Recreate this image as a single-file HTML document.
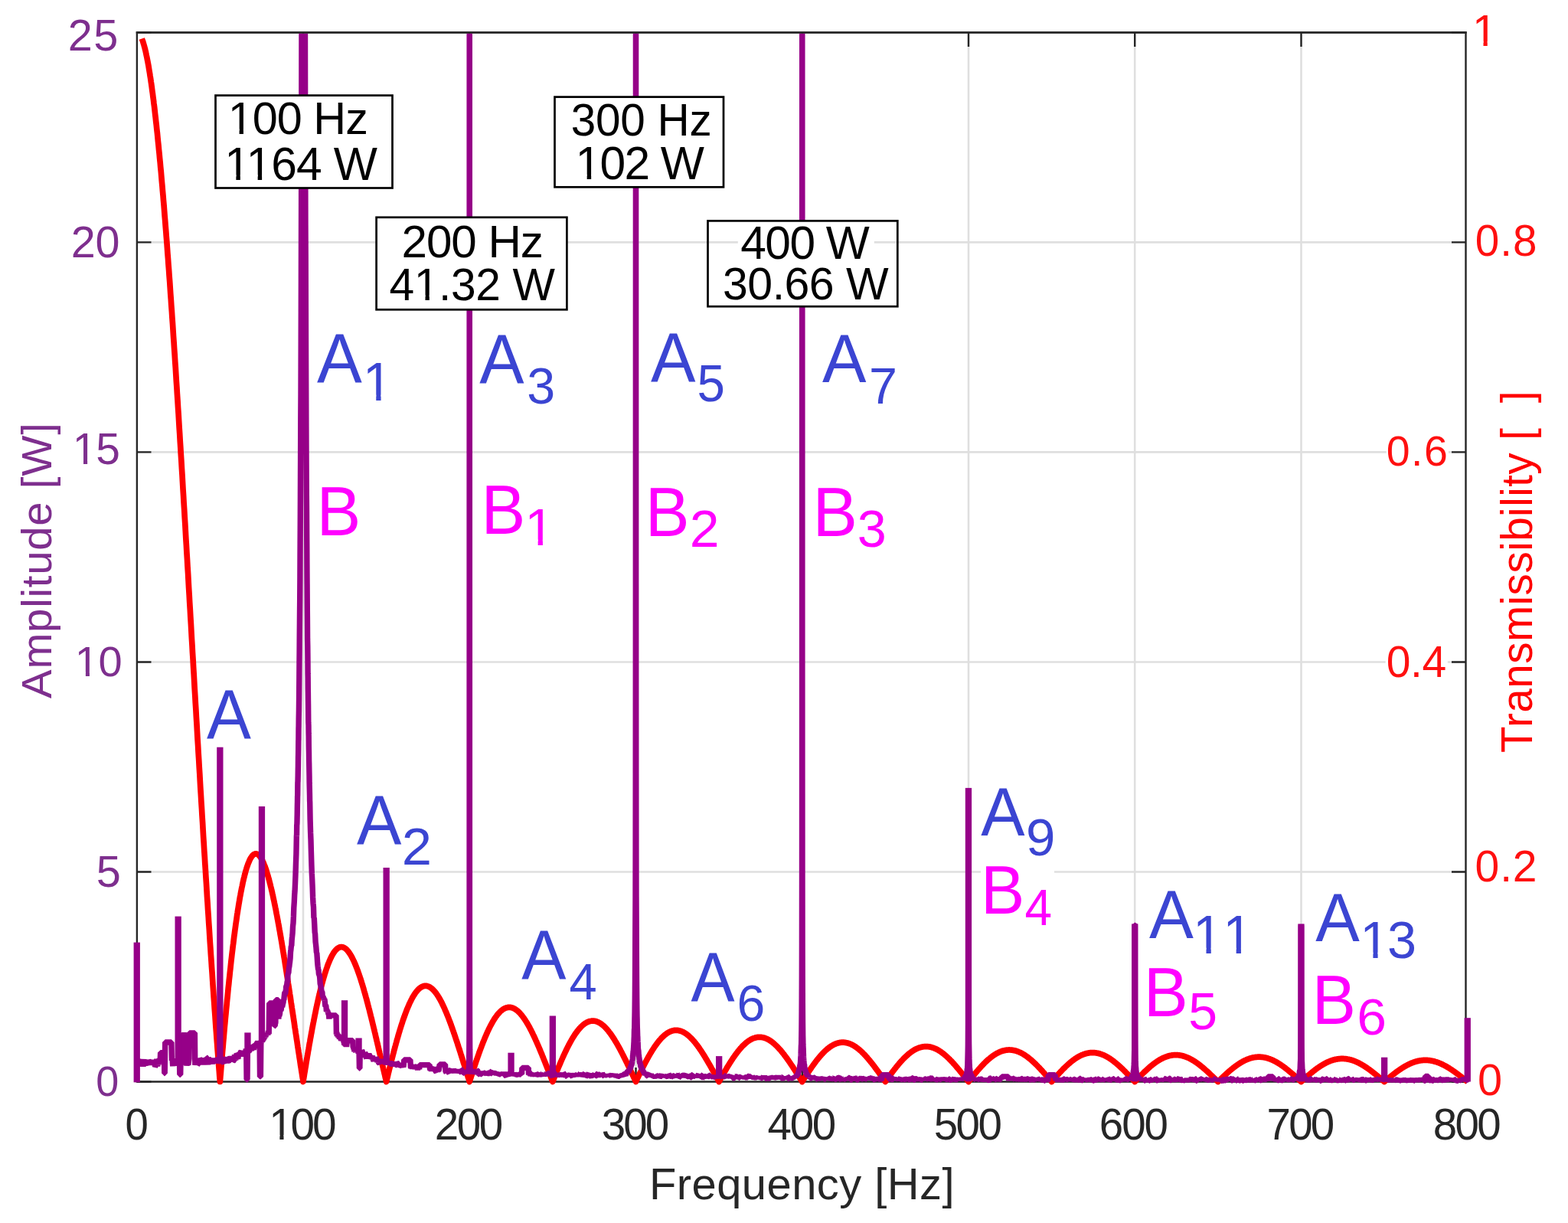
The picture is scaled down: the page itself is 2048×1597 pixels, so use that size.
<!DOCTYPE html><html><head><meta charset="utf-8"><title>Amplitude and transmissibility spectrum</title>
<style>html,body{margin:0;padding:0;background:#fff;}svg{display:block;}text{font-family:"Liberation Sans",Arial,sans-serif;}</style></head><body>
<svg width="2048" height="1597" viewBox="0 0 2048 1597">
<rect width="2048" height="1597" fill="#fff"/>
<defs><clipPath id="pc"><rect x="150" y="43.6" width="1790" height="1440"/></clipPath></defs>
<path d="M396.0 42.4V1412.5M613.2 42.4V1412.5M830.5 42.4V1412.5M1047.8 42.4V1412.5M1265.0 42.4V1412.5M1482.2 42.4V1412.5M1699.5 42.4V1412.5M179 1138.5H1914.5M179 864.5H1914.5M179 590.4H1914.5M179 316.4H1914.5" stroke="#DFDFDF" stroke-width="2.6" fill="none"/>
<path d="M396.0 42.4v18.5M396.0 1412.5v-18.5M613.2 42.4v18.5M613.2 1412.5v-18.5M830.5 42.4v18.5M830.5 1412.5v-18.5M1047.8 42.4v18.5M1047.8 1412.5v-18.5M1265.0 42.4v18.5M1265.0 1412.5v-18.5M1482.2 42.4v18.5M1482.2 1412.5v-18.5M1699.5 42.4v18.5M1699.5 1412.5v-18.5M179 1412.5h18.5M1914.5 1412.5h-18.5M179 1138.5h18.5M1914.5 1138.5h-18.5M179 864.5h18.5M1914.5 864.5h-18.5M179 590.4h18.5M1914.5 590.4h-18.5M179 316.4h18.5M1914.5 316.4h-18.5M179 42.4h18.5M1914.5 42.4h-18.5" stroke="#262626" stroke-width="2.4" fill="none"/>
<path d="M178.9 42.4V1412.5H1914.5V42.4Z" stroke="#262626" stroke-width="2.4" fill="none"/>
<g clip-path="url(#pc)">
<polyline points="185.3,50.5 185.8,51.9 186.4,53.4 186.9,55.0 187.4,56.8 188.0,58.6 188.5,60.6 189.1,62.6 189.6,64.8 190.2,67.1 190.7,69.5 191.2,72.0 191.8,74.6 192.3,77.3 192.9,80.2 193.4,83.1 194.0,86.1 194.5,89.3 195.0,92.5 195.6,95.9 196.1,99.4 196.7,102.9 197.2,106.6 197.8,110.4 198.3,114.3 198.8,118.2 199.4,122.3 199.9,126.5 200.5,130.8 201.0,135.2 201.6,139.6 202.1,144.2 202.6,148.9 203.2,153.7 203.7,158.5 204.3,163.5 204.8,168.6 205.4,173.7 205.9,179.0 206.4,184.3 207.0,189.7 207.5,195.3 208.1,200.9 208.6,206.6 209.2,212.4 209.7,218.3 210.3,224.2 210.8,230.3 211.3,236.4 211.9,242.6 212.4,248.9 213.0,255.3 213.5,261.8 214.1,268.3 214.6,275.0 215.1,281.7 215.7,288.5 216.2,295.3 216.8,302.3 217.3,309.3 217.9,316.4 218.4,323.5 218.9,330.7 219.5,338.0 220.0,345.4 220.6,352.9 221.1,360.4 221.7,367.9 222.2,375.6 222.7,383.3 223.3,391.0 223.8,398.9 224.4,406.8 224.9,414.7 225.5,422.7 226.0,430.8 226.5,438.9 227.1,447.1 227.6,455.3 228.2,463.6 228.7,471.9 229.3,480.3 229.8,488.7 230.3,497.2 230.9,505.7 231.4,514.3 232.0,522.9 232.5,531.6 233.1,540.3 233.6,549.0 234.1,557.8 234.7,566.6 235.2,575.5 235.8,584.4 236.3,593.3 236.9,602.3 237.4,611.2 238.0,620.3 238.5,629.3 239.0,638.4 239.6,647.5 240.1,656.7 240.7,665.8 241.2,675.0 241.8,684.2 242.3,693.4 242.8,702.7 243.4,711.9 243.9,721.2 244.5,730.5 245.0,739.8 245.6,749.1 246.1,758.5 246.6,767.8 247.2,777.2 247.7,786.6 248.3,795.9 248.8,805.3 249.4,814.7 249.9,824.1 250.4,833.5 251.0,842.8 251.5,852.2 252.1,861.6 252.6,871.0 253.2,880.4 253.7,889.7 254.2,899.1 254.8,908.5 255.3,917.8 255.9,927.1 256.4,936.5 257.0,945.8 257.5,955.1 258.0,964.4 258.6,973.6 259.1,982.9 259.7,992.1 260.2,1001.3 260.8,1010.5 261.3,1019.7 261.8,1028.8 262.4,1037.9 262.9,1047.0 263.5,1056.1 264.0,1065.1 264.6,1074.1 265.1,1083.1 265.6,1092.1 266.2,1101.0 266.7,1109.9 267.3,1118.7 267.8,1127.5 268.4,1136.3 268.9,1145.0 269.5,1153.7 270.0,1162.4 270.5,1171.0 271.1,1179.6 271.6,1188.1 272.2,1196.6 272.7,1205.0 273.3,1213.4 273.8,1221.8 274.3,1230.1 274.9,1238.3 275.4,1246.5 276.0,1254.7 276.5,1262.8 277.1,1270.8 277.6,1278.8 278.1,1286.7 278.7,1294.6 279.2,1302.4 279.8,1310.2 280.3,1317.9 280.9,1325.6 281.4,1333.2 281.9,1340.7 282.5,1348.2 283.0,1355.6 283.6,1362.9 284.1,1370.2 284.7,1377.4 285.2,1384.6 285.7,1391.6 286.3,1398.7 286.8,1405.6 287.4,1412.5 287.9,1405.7 288.5,1398.9 289.0,1392.3 289.5,1385.7 290.1,1379.1 290.6,1372.7 291.2,1366.3 291.7,1359.9 292.3,1353.7 292.8,1347.5 293.3,1341.4 293.9,1335.4 294.4,1329.5 295.0,1323.6 295.5,1317.8 296.1,1312.1 296.6,1306.4 297.2,1300.9 297.7,1295.4 298.2,1290.0 298.8,1284.7 299.3,1279.4 299.9,1274.2 300.4,1269.2 301.0,1264.1 301.5,1259.2 302.0,1254.4 302.6,1249.6 303.1,1244.9 303.7,1240.3 304.2,1235.8 304.8,1231.4 305.3,1227.0 305.8,1222.8 306.4,1218.6 306.9,1214.5 307.5,1210.4 308.0,1206.5 308.6,1202.7 309.1,1198.9 309.6,1195.2 310.2,1191.6 310.7,1188.1 311.3,1184.6 311.8,1181.3 312.4,1178.0 312.9,1174.8 313.4,1171.7 314.0,1168.7 314.5,1165.8 315.1,1162.9 315.6,1160.2 316.2,1157.5 316.7,1154.9 317.2,1152.4 317.8,1150.0 318.3,1147.6 318.9,1145.4 319.4,1143.2 320.0,1141.1 320.5,1139.1 321.0,1137.2 321.6,1135.3 322.1,1133.5 322.7,1131.9 323.2,1130.3 323.8,1128.7 324.3,1127.3 324.9,1125.9 325.4,1124.7 325.9,1123.5 326.5,1122.3 327.0,1121.3 327.6,1120.3 328.1,1119.5 328.7,1118.7 329.2,1117.9 329.7,1117.3 330.3,1116.7 330.8,1116.2 331.4,1115.8 331.9,1115.5 332.5,1115.2 333.0,1115.0 333.5,1114.9 334.1,1114.9 334.6,1114.9 335.2,1115.0 335.7,1115.2 336.3,1115.4 336.8,1115.8 337.3,1116.1 337.9,1116.6 338.4,1117.1 339.0,1117.7 339.5,1118.4 340.1,1119.1 340.6,1119.9 341.1,1120.8 341.7,1121.8 342.2,1122.8 342.8,1123.8 343.3,1125.0 343.9,1126.1 344.4,1127.4 344.9,1128.7 345.5,1130.1 346.0,1131.5 346.6,1133.0 347.1,1134.6 347.7,1136.2 348.2,1137.9 348.7,1139.6 349.3,1141.4 349.8,1143.3 350.4,1145.1 350.9,1147.1 351.5,1149.1 352.0,1151.2 352.5,1153.3 353.1,1155.4 353.6,1157.6 354.2,1159.9 354.7,1162.2 355.3,1164.5 355.8,1166.9 356.4,1169.4 356.9,1171.9 357.4,1174.4 358.0,1177.0 358.5,1179.6 359.1,1182.3 359.6,1185.0 360.2,1187.7 360.7,1190.5 361.2,1193.3 361.8,1196.2 362.3,1199.1 362.9,1202.0 363.4,1205.0 364.0,1208.0 364.5,1211.0 365.0,1214.0 365.6,1217.1 366.1,1220.3 366.7,1223.4 367.2,1226.6 367.8,1229.8 368.3,1233.0 368.8,1236.3 369.4,1239.6 369.9,1242.9 370.5,1246.2 371.0,1249.6 371.6,1252.9 372.1,1256.3 372.6,1259.7 373.2,1263.2 373.7,1266.6 374.3,1270.1 374.8,1273.6 375.4,1277.1 375.9,1280.6 376.4,1284.1 377.0,1287.6 377.5,1291.2 378.1,1294.7 378.6,1298.3 379.2,1301.9 379.7,1305.5 380.2,1309.1 380.8,1312.7 381.3,1316.3 381.9,1319.9 382.4,1323.5 383.0,1327.1 383.5,1330.7 384.1,1334.3 384.6,1338.0 385.1,1341.6 385.7,1345.2 386.2,1348.8 386.8,1352.4 387.3,1356.0 387.9,1359.6 388.4,1363.2 388.9,1366.8 389.5,1370.4 390.0,1373.9 390.6,1377.5 391.1,1381.1 391.7,1384.6 392.2,1388.1 392.7,1391.7 393.3,1395.2 393.8,1398.7 394.4,1402.2 394.9,1405.6 395.5,1409.1 396.0,1412.5 396.5,1409.1 397.1,1405.7 397.6,1402.3 398.2,1398.9 398.7,1395.6 399.3,1392.3 399.8,1389.0 400.3,1385.7 400.9,1382.5 401.4,1379.2 402.0,1376.0 402.5,1372.8 403.1,1369.7 403.6,1366.5 404.1,1363.4 404.7,1360.4 405.2,1357.3 405.8,1354.3 406.3,1351.3 406.9,1348.3 407.4,1345.4 407.9,1342.5 408.5,1339.6 409.0,1336.8 409.6,1334.0 410.1,1331.2 410.7,1328.4 411.2,1325.7 411.8,1323.1 412.3,1320.4 412.8,1317.8 413.4,1315.2 413.9,1312.7 414.5,1310.2 415.0,1307.7 415.6,1305.3 416.1,1302.9 416.6,1300.6 417.2,1298.3 417.7,1296.0 418.3,1293.7 418.8,1291.6 419.4,1289.4 419.9,1287.3 420.4,1285.2 421.0,1283.2 421.5,1281.2 422.1,1279.2 422.6,1277.3 423.2,1275.4 423.7,1273.6 424.2,1271.8 424.8,1270.1 425.3,1268.4 425.9,1266.7 426.4,1265.1 427.0,1263.5 427.5,1262.0 428.0,1260.5 428.6,1259.1 429.1,1257.7 429.7,1256.4 430.2,1255.0 430.8,1253.8 431.3,1252.6 431.8,1251.4 432.4,1250.3 432.9,1249.2 433.5,1248.1 434.0,1247.1 434.6,1246.2 435.1,1245.3 435.6,1244.4 436.2,1243.6 436.7,1242.8 437.3,1242.1 437.8,1241.4 438.4,1240.8 438.9,1240.2 439.4,1239.7 440.0,1239.2 440.5,1238.7 441.1,1238.3 441.6,1237.9 442.2,1237.6 442.7,1237.4 443.3,1237.1 443.8,1236.9 444.3,1236.8 444.9,1236.7 445.4,1236.6 446.0,1236.6 446.5,1236.6 447.1,1236.7 447.6,1236.8 448.1,1237.0 448.7,1237.2 449.2,1237.4 449.8,1237.7 450.3,1238.1 450.9,1238.4 451.4,1238.8 451.9,1239.3 452.5,1239.8 453.0,1240.3 453.6,1240.9 454.1,1241.5 454.7,1242.2 455.2,1242.8 455.7,1243.6 456.3,1244.4 456.8,1245.2 457.4,1246.0 457.9,1246.9 458.5,1247.8 459.0,1248.8 459.5,1249.8 460.1,1250.8 460.6,1251.9 461.2,1253.0 461.7,1254.1 462.3,1255.3 462.8,1256.5 463.3,1257.7 463.9,1259.0 464.4,1260.3 465.0,1261.7 465.5,1263.0 466.1,1264.4 466.6,1265.9 467.1,1267.3 467.7,1268.8 468.2,1270.4 468.8,1271.9 469.3,1273.5 469.9,1275.1 470.4,1276.7 471.0,1278.4 471.5,1280.1 472.0,1281.8 472.6,1283.6 473.1,1285.3 473.7,1287.1 474.2,1289.0 474.8,1290.8 475.3,1292.7 475.8,1294.6 476.4,1296.5 476.9,1298.4 477.5,1300.4 478.0,1302.3 478.6,1304.3 479.1,1306.3 479.6,1308.4 480.2,1310.4 480.7,1312.5 481.3,1314.6 481.8,1316.7 482.4,1318.8 482.9,1320.9 483.4,1323.1 484.0,1325.3 484.5,1327.4 485.1,1329.6 485.6,1331.8 486.2,1334.1 486.7,1336.3 487.2,1338.5 487.8,1340.8 488.3,1343.0 488.9,1345.3 489.4,1347.6 490.0,1349.9 490.5,1352.2 491.0,1354.4 491.6,1356.8 492.1,1359.1 492.7,1361.4 493.2,1363.7 493.8,1366.0 494.3,1368.4 494.8,1370.7 495.4,1373.0 495.9,1375.4 496.5,1377.7 497.0,1380.0 497.6,1382.4 498.1,1384.7 498.7,1387.0 499.2,1389.4 499.7,1391.7 500.3,1394.0 500.8,1396.4 501.4,1398.7 501.9,1401.0 502.5,1403.3 503.0,1405.6 503.5,1407.9 504.1,1410.2 504.6,1412.5 505.2,1410.2 505.7,1407.9 506.3,1405.7 506.8,1403.4 507.3,1401.2 507.9,1399.0 508.4,1396.7 509.0,1394.5 509.5,1392.3 510.1,1390.1 510.6,1388.0 511.1,1385.8 511.7,1383.6 512.2,1381.5 512.8,1379.4 513.3,1377.3 513.9,1375.2 514.4,1373.1 514.9,1371.1 515.5,1369.0 516.0,1367.0 516.6,1365.0 517.1,1363.0 517.7,1361.0 518.2,1359.1 518.7,1357.2 519.3,1355.3 519.8,1353.4 520.4,1351.5 520.9,1349.6 521.5,1347.8 522.0,1346.0 522.5,1344.2 523.1,1342.5 523.6,1340.7 524.2,1339.0 524.7,1337.3 525.3,1335.7 525.8,1334.0 526.3,1332.4 526.9,1330.8 527.4,1329.2 528.0,1327.7 528.5,1326.2 529.1,1324.7 529.6,1323.2 530.2,1321.8 530.7,1320.4 531.2,1319.0 531.8,1317.6 532.3,1316.3 532.9,1315.0 533.4,1313.7 534.0,1312.5 534.5,1311.2 535.0,1310.1 535.6,1308.9 536.1,1307.8 536.7,1306.7 537.2,1305.6 537.8,1304.5 538.3,1303.5 538.8,1302.5 539.4,1301.6 539.9,1300.7 540.5,1299.8 541.0,1298.9 541.6,1298.1 542.1,1297.3 542.6,1296.5 543.2,1295.8 543.7,1295.1 544.3,1294.4 544.8,1293.7 545.4,1293.1 545.9,1292.5 546.4,1292.0 547.0,1291.5 547.5,1291.0 548.1,1290.5 548.6,1290.1 549.2,1289.7 549.7,1289.3 550.2,1289.0 550.8,1288.7 551.3,1288.4 551.9,1288.2 552.4,1288.0 553.0,1287.8 553.5,1287.6 554.0,1287.5 554.6,1287.4 555.1,1287.4 555.7,1287.4 556.2,1287.4 556.8,1287.4 557.3,1287.5 557.9,1287.6 558.4,1287.7 558.9,1287.9 559.5,1288.1 560.0,1288.3 560.6,1288.6 561.1,1288.8 561.7,1289.2 562.2,1289.5 562.7,1289.9 563.3,1290.3 563.8,1290.7 564.4,1291.2 564.9,1291.6 565.5,1292.2 566.0,1292.7 566.5,1293.3 567.1,1293.9 567.6,1294.5 568.2,1295.2 568.7,1295.8 569.3,1296.6 569.8,1297.3 570.3,1298.0 570.9,1298.8 571.4,1299.6 572.0,1300.5 572.5,1301.3 573.1,1302.2 573.6,1303.2 574.1,1304.1 574.7,1305.1 575.2,1306.0 575.8,1307.0 576.3,1308.1 576.9,1309.1 577.4,1310.2 577.9,1311.3 578.5,1312.4 579.0,1313.6 579.6,1314.7 580.1,1315.9 580.7,1317.1 581.2,1318.4 581.7,1319.6 582.3,1320.9 582.8,1322.2 583.4,1323.5 583.9,1324.8 584.5,1326.1 585.0,1327.5 585.6,1328.9 586.1,1330.3 586.6,1331.7 587.2,1333.1 587.7,1334.5 588.3,1336.0 588.8,1337.5 589.4,1339.0 589.9,1340.5 590.4,1342.0 591.0,1343.5 591.5,1345.0 592.1,1346.6 592.6,1348.2 593.2,1349.7 593.7,1351.3 594.2,1352.9 594.8,1354.5 595.3,1356.2 595.9,1357.8 596.4,1359.4 597.0,1361.1 597.5,1362.7 598.0,1364.4 598.6,1366.1 599.1,1367.7 599.7,1369.4 600.2,1371.1 600.8,1372.8 601.3,1374.5 601.8,1376.2 602.4,1377.9 602.9,1379.7 603.5,1381.4 604.0,1383.1 604.6,1384.8 605.1,1386.6 605.6,1388.3 606.2,1390.0 606.7,1391.8 607.3,1393.5 607.8,1395.2 608.4,1397.0 608.9,1398.7 609.4,1400.4 610.0,1402.2 610.5,1403.9 611.1,1405.6 611.6,1407.3 612.2,1409.1 612.7,1410.8 613.2,1412.5 613.8,1410.8 614.3,1409.1 614.9,1407.4 615.4,1405.7 616.0,1404.0 616.5,1402.3 617.1,1400.6 617.6,1399.0 618.1,1397.3 618.7,1395.7 619.2,1394.0 619.8,1392.4 620.3,1390.7 620.9,1389.1 621.4,1387.5 621.9,1385.9 622.5,1384.3 623.0,1382.8 623.6,1381.2 624.1,1379.6 624.7,1378.1 625.2,1376.6 625.7,1375.0 626.3,1373.5 626.8,1372.0 627.4,1370.6 627.9,1369.1 628.5,1367.6 629.0,1366.2 629.5,1364.8 630.1,1363.4 630.6,1362.0 631.2,1360.6 631.7,1359.3 632.3,1357.9 632.8,1356.6 633.3,1355.3 633.9,1354.0 634.4,1352.7 635.0,1351.5 635.5,1350.2 636.1,1349.0 636.6,1347.8 637.1,1346.6 637.7,1345.5 638.2,1344.3 638.8,1343.2 639.3,1342.1 639.9,1341.0 640.4,1339.9 640.9,1338.9 641.5,1337.9 642.0,1336.9 642.6,1335.9 643.1,1334.9 643.7,1334.0 644.2,1333.1 644.8,1332.2 645.3,1331.3 645.8,1330.4 646.4,1329.6 646.9,1328.8 647.5,1328.0 648.0,1327.3 648.6,1326.5 649.1,1325.8 649.6,1325.1 650.2,1324.4 650.7,1323.8 651.3,1323.2 651.8,1322.6 652.4,1322.0 652.9,1321.4 653.4,1320.9 654.0,1320.4 654.5,1319.9 655.1,1319.5 655.6,1319.0 656.2,1318.6 656.7,1318.2 657.2,1317.9 657.8,1317.5 658.3,1317.2 658.9,1316.9 659.4,1316.7 660.0,1316.4 660.5,1316.2 661.0,1316.0 661.6,1315.8 662.1,1315.7 662.7,1315.6 663.2,1315.5 663.8,1315.4 664.3,1315.4 664.8,1315.3 665.4,1315.3 665.9,1315.4 666.5,1315.4 667.0,1315.5 667.6,1315.6 668.1,1315.7 668.6,1315.8 669.2,1316.0 669.7,1316.2 670.3,1316.4 670.8,1316.7 671.4,1316.9 671.9,1317.2 672.5,1317.5 673.0,1317.8 673.5,1318.2 674.1,1318.6 674.6,1319.0 675.2,1319.4 675.7,1319.8 676.3,1320.3 676.8,1320.8 677.3,1321.3 677.9,1321.8 678.4,1322.3 679.0,1322.9 679.5,1323.5 680.1,1324.1 680.6,1324.7 681.1,1325.4 681.7,1326.1 682.2,1326.7 682.8,1327.5 683.3,1328.2 683.9,1328.9 684.4,1329.7 684.9,1330.5 685.5,1331.3 686.0,1332.1 686.6,1333.0 687.1,1333.8 687.7,1334.7 688.2,1335.6 688.7,1336.5 689.3,1337.4 689.8,1338.4 690.4,1339.3 690.9,1340.3 691.5,1341.3 692.0,1342.3 692.5,1343.3 693.1,1344.4 693.6,1345.4 694.2,1346.5 694.7,1347.6 695.3,1348.7 695.8,1349.8 696.3,1350.9 696.9,1352.0 697.4,1353.2 698.0,1354.3 698.5,1355.5 699.1,1356.7 699.6,1357.9 700.1,1359.1 700.7,1360.3 701.2,1361.5 701.8,1362.8 702.3,1364.0 702.9,1365.3 703.4,1366.5 704.0,1367.8 704.5,1369.1 705.0,1370.4 705.6,1371.7 706.1,1373.0 706.7,1374.3 707.2,1375.6 707.8,1376.9 708.3,1378.3 708.8,1379.6 709.4,1380.9 709.9,1382.3 710.5,1383.6 711.0,1385.0 711.6,1386.4 712.1,1387.7 712.6,1389.1 713.2,1390.5 713.7,1391.8 714.3,1393.2 714.8,1394.6 715.4,1396.0 715.9,1397.3 716.4,1398.7 717.0,1400.1 717.5,1401.5 718.1,1402.9 718.6,1404.2 719.2,1405.6 719.7,1407.0 720.2,1408.4 720.8,1409.8 721.3,1411.1 721.9,1412.5 722.4,1411.1 723.0,1409.8 723.5,1408.4 724.0,1407.0 724.6,1405.7 725.1,1404.3 725.7,1403.0 726.2,1401.7 726.8,1400.3 727.3,1399.0 727.8,1397.7 728.4,1396.3 728.9,1395.0 729.5,1393.7 730.0,1392.4 730.6,1391.2 731.1,1389.9 731.7,1388.6 732.2,1387.3 732.7,1386.1 733.3,1384.8 733.8,1383.6 734.4,1382.4 734.9,1381.1 735.5,1379.9 736.0,1378.7 736.5,1377.6 737.1,1376.4 737.6,1375.2 738.2,1374.1 738.7,1372.9 739.3,1371.8 739.8,1370.7 740.3,1369.6 740.9,1368.5 741.4,1367.4 742.0,1366.3 742.5,1365.3 743.1,1364.2 743.6,1363.2 744.1,1362.2 744.7,1361.2 745.2,1360.2 745.8,1359.2 746.3,1358.3 746.9,1357.4 747.4,1356.4 747.9,1355.5 748.5,1354.6 749.0,1353.8 749.6,1352.9 750.1,1352.1 750.7,1351.2 751.2,1350.4 751.7,1349.6 752.3,1348.9 752.8,1348.1 753.4,1347.4 753.9,1346.6 754.5,1345.9 755.0,1345.2 755.5,1344.6 756.1,1343.9 756.6,1343.3 757.2,1342.7 757.7,1342.1 758.3,1341.5 758.8,1340.9 759.4,1340.4 759.9,1339.9 760.4,1339.4 761.0,1338.9 761.5,1338.4 762.1,1338.0 762.6,1337.5 763.2,1337.1 763.7,1336.7 764.2,1336.4 764.8,1336.0 765.3,1335.7 765.9,1335.4 766.4,1335.1 767.0,1334.8 767.5,1334.6 768.0,1334.3 768.6,1334.1 769.1,1333.9 769.7,1333.8 770.2,1333.6 770.8,1333.5 771.3,1333.3 771.8,1333.3 772.4,1333.2 772.9,1333.1 773.5,1333.1 774.0,1333.1 774.6,1333.1 775.1,1333.1 775.6,1333.1 776.2,1333.2 776.7,1333.3 777.3,1333.4 777.8,1333.5 778.4,1333.6 778.9,1333.8 779.4,1334.0 780.0,1334.2 780.5,1334.4 781.1,1334.6 781.6,1334.9 782.2,1335.2 782.7,1335.5 783.2,1335.8 783.8,1336.1 784.3,1336.4 784.9,1336.8 785.4,1337.2 786.0,1337.6 786.5,1338.0 787.0,1338.4 787.6,1338.9 788.1,1339.4 788.7,1339.8 789.2,1340.3 789.8,1340.9 790.3,1341.4 790.9,1342.0 791.4,1342.5 791.9,1343.1 792.5,1343.7 793.0,1344.3 793.6,1345.0 794.1,1345.6 794.7,1346.3 795.2,1347.0 795.7,1347.7 796.3,1348.4 796.8,1349.1 797.4,1349.8 797.9,1350.6 798.5,1351.4 799.0,1352.1 799.5,1352.9 800.1,1353.8 800.6,1354.6 801.2,1355.4 801.7,1356.3 802.3,1357.1 802.8,1358.0 803.3,1358.9 803.9,1359.8 804.4,1360.7 805.0,1361.6 805.5,1362.5 806.1,1363.5 806.6,1364.4 807.1,1365.4 807.7,1366.3 808.2,1367.3 808.8,1368.3 809.3,1369.3 809.9,1370.3 810.4,1371.3 810.9,1372.3 811.5,1373.4 812.0,1374.4 812.6,1375.5 813.1,1376.5 813.7,1377.6 814.2,1378.7 814.7,1379.7 815.3,1380.8 815.8,1381.9 816.4,1383.0 816.9,1384.1 817.5,1385.2 818.0,1386.3 818.6,1387.4 819.1,1388.5 819.6,1389.7 820.2,1390.8 820.7,1391.9 821.3,1393.0 821.8,1394.2 822.4,1395.3 822.9,1396.5 823.4,1397.6 824.0,1398.7 824.5,1399.9 825.1,1401.0 825.6,1402.2 826.2,1403.3 826.7,1404.5 827.2,1405.6 827.8,1406.8 828.3,1407.9 828.9,1409.1 829.4,1410.2 830.0,1411.4 830.5,1412.5 831.0,1411.4 831.6,1410.2 832.1,1409.1 832.7,1408.0 833.2,1406.8 833.8,1405.7 834.3,1404.6 834.8,1403.5 835.4,1402.3 835.9,1401.2 836.5,1400.1 837.0,1399.0 837.6,1397.9 838.1,1396.8 838.6,1395.7 839.2,1394.7 839.7,1393.6 840.3,1392.5 840.8,1391.5 841.4,1390.4 841.9,1389.4 842.4,1388.3 843.0,1387.3 843.5,1386.3 844.1,1385.3 844.6,1384.2 845.2,1383.2 845.7,1382.3 846.3,1381.3 846.8,1380.3 847.3,1379.3 847.9,1378.4 848.4,1377.5 849.0,1376.5 849.5,1375.6 850.1,1374.7 850.6,1373.8 851.1,1372.9 851.7,1372.0 852.2,1371.2 852.8,1370.3 853.3,1369.5 853.9,1368.6 854.4,1367.8 854.9,1367.0 855.5,1366.2 856.0,1365.4 856.6,1364.7 857.1,1363.9 857.7,1363.2 858.2,1362.4 858.7,1361.7 859.3,1361.0 859.8,1360.3 860.4,1359.7 860.9,1359.0 861.5,1358.3 862.0,1357.7 862.5,1357.1 863.1,1356.5 863.6,1355.9 864.2,1355.3 864.7,1354.8 865.3,1354.2 865.8,1353.7 866.3,1353.2 866.9,1352.7 867.4,1352.2 868.0,1351.8 868.5,1351.3 869.1,1350.9 869.6,1350.5 870.1,1350.1 870.7,1349.7 871.2,1349.3 871.8,1348.9 872.3,1348.6 872.9,1348.3 873.4,1348.0 873.9,1347.7 874.5,1347.4 875.0,1347.2 875.6,1346.9 876.1,1346.7 876.7,1346.5 877.2,1346.3 877.8,1346.1 878.3,1346.0 878.8,1345.8 879.4,1345.7 879.9,1345.6 880.5,1345.5 881.0,1345.4 881.6,1345.4 882.1,1345.4 882.6,1345.3 883.2,1345.3 883.7,1345.3 884.3,1345.4 884.8,1345.4 885.4,1345.5 885.9,1345.5 886.4,1345.6 887.0,1345.7 887.5,1345.9 888.1,1346.0 888.6,1346.2 889.2,1346.3 889.7,1346.5 890.2,1346.7 890.8,1347.0 891.3,1347.2 891.9,1347.4 892.4,1347.7 893.0,1348.0 893.5,1348.3 894.0,1348.6 894.6,1348.9 895.1,1349.3 895.7,1349.7 896.2,1350.0 896.8,1350.4 897.3,1350.8 897.8,1351.2 898.4,1351.7 898.9,1352.1 899.5,1352.6 900.0,1353.1 900.6,1353.6 901.1,1354.1 901.6,1354.6 902.2,1355.1 902.7,1355.7 903.3,1356.2 903.8,1356.8 904.4,1357.4 904.9,1358.0 905.5,1358.6 906.0,1359.2 906.5,1359.8 907.1,1360.5 907.6,1361.1 908.2,1361.8 908.7,1362.5 909.3,1363.2 909.8,1363.9 910.3,1364.6 910.9,1365.3 911.4,1366.1 912.0,1366.8 912.5,1367.6 913.1,1368.3 913.6,1369.1 914.1,1369.9 914.7,1370.7 915.2,1371.5 915.8,1372.3 916.3,1373.1 916.9,1374.0 917.4,1374.8 917.9,1375.6 918.5,1376.5 919.0,1377.4 919.6,1378.2 920.1,1379.1 920.7,1380.0 921.2,1380.9 921.7,1381.8 922.3,1382.7 922.8,1383.6 923.4,1384.5 923.9,1385.4 924.5,1386.4 925.0,1387.3 925.5,1388.2 926.1,1389.2 926.6,1390.1 927.2,1391.1 927.7,1392.0 928.3,1393.0 928.8,1393.9 929.3,1394.9 929.9,1395.9 930.4,1396.8 931.0,1397.8 931.5,1398.8 932.1,1399.7 932.6,1400.7 933.2,1401.7 933.7,1402.7 934.2,1403.7 934.8,1404.6 935.3,1405.6 935.9,1406.6 936.4,1407.6 937.0,1408.6 937.5,1409.6 938.0,1410.5 938.6,1411.5 939.1,1412.5 939.7,1411.5 940.2,1410.5 940.8,1409.6 941.3,1408.6 941.8,1407.6 942.4,1406.7 942.9,1405.7 943.5,1404.7 944.0,1403.8 944.6,1402.8 945.1,1401.9 945.6,1400.9 946.2,1400.0 946.7,1399.0 947.3,1398.1 947.8,1397.2 948.4,1396.3 948.9,1395.3 949.4,1394.4 950.0,1393.5 950.5,1392.6 951.1,1391.7 951.6,1390.8 952.2,1390.0 952.7,1389.1 953.2,1388.2 953.8,1387.3 954.3,1386.5 954.9,1385.6 955.4,1384.8 956.0,1384.0 956.5,1383.2 957.0,1382.3 957.6,1381.5 958.1,1380.7 958.7,1380.0 959.2,1379.2 959.8,1378.4 960.3,1377.6 960.8,1376.9 961.4,1376.2 961.9,1375.4 962.5,1374.7 963.0,1374.0 963.6,1373.3 964.1,1372.6 964.7,1371.9 965.2,1371.3 965.7,1370.6 966.3,1370.0 966.8,1369.3 967.4,1368.7 967.9,1368.1 968.5,1367.5 969.0,1366.9 969.5,1366.3 970.1,1365.8 970.6,1365.2 971.2,1364.7 971.7,1364.2 972.3,1363.7 972.8,1363.2 973.3,1362.7 973.9,1362.2 974.4,1361.7 975.0,1361.3 975.5,1360.9 976.1,1360.4 976.6,1360.0 977.1,1359.6 977.7,1359.3 978.2,1358.9 978.8,1358.5 979.3,1358.2 979.9,1357.9 980.4,1357.6 980.9,1357.3 981.5,1357.0 982.0,1356.7 982.6,1356.4 983.1,1356.2 983.7,1356.0 984.2,1355.8 984.7,1355.6 985.3,1355.4 985.8,1355.2 986.4,1355.1 986.9,1354.9 987.5,1354.8 988.0,1354.7 988.5,1354.6 989.1,1354.5 989.6,1354.4 990.2,1354.4 990.7,1354.3 991.3,1354.3 991.8,1354.3 992.4,1354.3 992.9,1354.3 993.4,1354.4 994.0,1354.4 994.5,1354.5 995.1,1354.5 995.6,1354.6 996.2,1354.7 996.7,1354.8 997.2,1355.0 997.8,1355.1 998.3,1355.3 998.9,1355.4 999.4,1355.6 1000.0,1355.8 1000.5,1356.0 1001.0,1356.3 1001.6,1356.5 1002.1,1356.8 1002.7,1357.0 1003.2,1357.3 1003.8,1357.6 1004.3,1357.9 1004.8,1358.2 1005.4,1358.6 1005.9,1358.9 1006.5,1359.3 1007.0,1359.7 1007.6,1360.0 1008.1,1360.4 1008.6,1360.8 1009.2,1361.3 1009.7,1361.7 1010.3,1362.2 1010.8,1362.6 1011.4,1363.1 1011.9,1363.6 1012.4,1364.1 1013.0,1364.6 1013.5,1365.1 1014.1,1365.6 1014.6,1366.1 1015.2,1366.7 1015.7,1367.2 1016.2,1367.8 1016.8,1368.4 1017.3,1369.0 1017.9,1369.6 1018.4,1370.2 1019.0,1370.8 1019.5,1371.4 1020.1,1372.1 1020.6,1372.7 1021.1,1373.4 1021.7,1374.0 1022.2,1374.7 1022.8,1375.4 1023.3,1376.1 1023.9,1376.8 1024.4,1377.5 1024.9,1378.2 1025.5,1378.9 1026.0,1379.6 1026.6,1380.4 1027.1,1381.1 1027.7,1381.9 1028.2,1382.6 1028.7,1383.4 1029.3,1384.1 1029.8,1384.9 1030.4,1385.7 1030.9,1386.5 1031.5,1387.3 1032.0,1388.1 1032.5,1388.9 1033.1,1389.7 1033.6,1390.5 1034.2,1391.3 1034.7,1392.1 1035.3,1392.9 1035.8,1393.8 1036.3,1394.6 1036.9,1395.4 1037.4,1396.3 1038.0,1397.1 1038.5,1398.0 1039.1,1398.8 1039.6,1399.7 1040.1,1400.5 1040.7,1401.4 1041.2,1402.2 1041.8,1403.1 1042.3,1403.9 1042.9,1404.8 1043.4,1405.6 1043.9,1406.5 1044.5,1407.4 1045.0,1408.2 1045.6,1409.1 1046.1,1409.9 1046.7,1410.8 1047.2,1411.6 1047.8,1412.5 1048.3,1411.6 1048.8,1410.8 1049.4,1409.9 1049.9,1409.1 1050.5,1408.2 1051.0,1407.4 1051.6,1406.5 1052.1,1405.7 1052.6,1404.9 1053.2,1404.0 1053.7,1403.2 1054.3,1402.4 1054.8,1401.5 1055.4,1400.7 1055.9,1399.9 1056.4,1399.1 1057.0,1398.3 1057.5,1397.5 1058.1,1396.7 1058.6,1395.9 1059.2,1395.1 1059.7,1394.3 1060.2,1393.5 1060.8,1392.7 1061.3,1392.0 1061.9,1391.2 1062.4,1390.4 1063.0,1389.7 1063.5,1388.9 1064.0,1388.2 1064.6,1387.5 1065.1,1386.8 1065.7,1386.0 1066.2,1385.3 1066.8,1384.6 1067.3,1383.9 1067.8,1383.2 1068.4,1382.6 1068.9,1381.9 1069.5,1381.2 1070.0,1380.6 1070.6,1379.9 1071.1,1379.3 1071.6,1378.7 1072.2,1378.1 1072.7,1377.5 1073.3,1376.9 1073.8,1376.3 1074.4,1375.7 1074.9,1375.1 1075.4,1374.6 1076.0,1374.0 1076.5,1373.5 1077.1,1372.9 1077.6,1372.4 1078.2,1371.9 1078.7,1371.4 1079.3,1370.9 1079.8,1370.5 1080.3,1370.0 1080.9,1369.5 1081.4,1369.1 1082.0,1368.7 1082.5,1368.2 1083.1,1367.8 1083.6,1367.4 1084.1,1367.1 1084.7,1366.7 1085.2,1366.3 1085.8,1366.0 1086.3,1365.6 1086.9,1365.3 1087.4,1365.0 1087.9,1364.7 1088.5,1364.4 1089.0,1364.1 1089.6,1363.8 1090.1,1363.6 1090.7,1363.4 1091.2,1363.1 1091.7,1362.9 1092.3,1362.7 1092.8,1362.5 1093.4,1362.3 1093.9,1362.2 1094.5,1362.0 1095.0,1361.9 1095.5,1361.7 1096.1,1361.6 1096.6,1361.5 1097.2,1361.4 1097.7,1361.4 1098.3,1361.3 1098.8,1361.2 1099.3,1361.2 1099.9,1361.2 1100.4,1361.2 1101.0,1361.2 1101.5,1361.2 1102.1,1361.2 1102.6,1361.2 1103.1,1361.3 1103.7,1361.3 1104.2,1361.4 1104.8,1361.5 1105.3,1361.6 1105.9,1361.7 1106.4,1361.8 1107.0,1362.0 1107.5,1362.1 1108.0,1362.3 1108.6,1362.5 1109.1,1362.6 1109.7,1362.8 1110.2,1363.0 1110.8,1363.3 1111.3,1363.5 1111.8,1363.7 1112.4,1364.0 1112.9,1364.3 1113.5,1364.6 1114.0,1364.8 1114.6,1365.1 1115.1,1365.5 1115.6,1365.8 1116.2,1366.1 1116.7,1366.5 1117.3,1366.8 1117.8,1367.2 1118.4,1367.6 1118.9,1368.0 1119.4,1368.4 1120.0,1368.8 1120.5,1369.2 1121.1,1369.6 1121.6,1370.1 1122.2,1370.5 1122.7,1371.0 1123.2,1371.5 1123.8,1371.9 1124.3,1372.4 1124.9,1372.9 1125.4,1373.4 1126.0,1374.0 1126.5,1374.5 1127.0,1375.0 1127.6,1375.6 1128.1,1376.1 1128.7,1376.7 1129.2,1377.3 1129.8,1377.8 1130.3,1378.4 1130.8,1379.0 1131.4,1379.6 1131.9,1380.2 1132.5,1380.8 1133.0,1381.5 1133.6,1382.1 1134.1,1382.7 1134.7,1383.4 1135.2,1384.0 1135.7,1384.7 1136.3,1385.3 1136.8,1386.0 1137.4,1386.7 1137.9,1387.4 1138.5,1388.0 1139.0,1388.7 1139.5,1389.4 1140.1,1390.1 1140.6,1390.8 1141.2,1391.5 1141.7,1392.3 1142.3,1393.0 1142.8,1393.7 1143.3,1394.4 1143.9,1395.1 1144.4,1395.9 1145.0,1396.6 1145.5,1397.4 1146.1,1398.1 1146.6,1398.8 1147.1,1399.6 1147.7,1400.3 1148.2,1401.1 1148.8,1401.8 1149.3,1402.6 1149.9,1403.4 1150.4,1404.1 1150.9,1404.9 1151.5,1405.6 1152.0,1406.4 1152.6,1407.2 1153.1,1407.9 1153.7,1408.7 1154.2,1409.5 1154.7,1410.2 1155.3,1411.0 1155.8,1411.7 1156.4,1412.5 1156.9,1411.7 1157.5,1411.0 1158.0,1410.2 1158.5,1409.5 1159.1,1408.7 1159.6,1408.0 1160.2,1407.2 1160.7,1406.5 1161.3,1405.7 1161.8,1405.0 1162.3,1404.2 1162.9,1403.5 1163.4,1402.7 1164.0,1402.0 1164.5,1401.3 1165.1,1400.6 1165.6,1399.8 1166.2,1399.1 1166.7,1398.4 1167.2,1397.7 1167.8,1397.0 1168.3,1396.3 1168.9,1395.6 1169.4,1394.9 1170.0,1394.2 1170.5,1393.5 1171.0,1392.9 1171.6,1392.2 1172.1,1391.5 1172.7,1390.9 1173.2,1390.2 1173.8,1389.6 1174.3,1388.9 1174.8,1388.3 1175.4,1387.7 1175.9,1387.0 1176.5,1386.4 1177.0,1385.8 1177.6,1385.2 1178.1,1384.6 1178.6,1384.1 1179.2,1383.5 1179.7,1382.9 1180.3,1382.3 1180.8,1381.8 1181.4,1381.3 1181.9,1380.7 1182.4,1380.2 1183.0,1379.7 1183.5,1379.2 1184.1,1378.7 1184.6,1378.2 1185.2,1377.7 1185.7,1377.2 1186.2,1376.7 1186.8,1376.3 1187.3,1375.8 1187.9,1375.4 1188.4,1375.0 1189.0,1374.6 1189.5,1374.2 1190.0,1373.8 1190.6,1373.4 1191.1,1373.0 1191.7,1372.6 1192.2,1372.3 1192.8,1371.9 1193.3,1371.6 1193.9,1371.3 1194.4,1370.9 1194.9,1370.6 1195.5,1370.3 1196.0,1370.1 1196.6,1369.8 1197.1,1369.5 1197.7,1369.3 1198.2,1369.0 1198.7,1368.8 1199.3,1368.6 1199.8,1368.4 1200.4,1368.2 1200.9,1368.0 1201.5,1367.8 1202.0,1367.7 1202.5,1367.5 1203.1,1367.4 1203.6,1367.2 1204.2,1367.1 1204.7,1367.0 1205.3,1366.9 1205.8,1366.8 1206.3,1366.8 1206.9,1366.7 1207.4,1366.7 1208.0,1366.6 1208.5,1366.6 1209.1,1366.6 1209.6,1366.6 1210.1,1366.6 1210.7,1366.6 1211.2,1366.6 1211.8,1366.7 1212.3,1366.7 1212.9,1366.8 1213.4,1366.9 1213.9,1366.9 1214.5,1367.0 1215.0,1367.1 1215.6,1367.3 1216.1,1367.4 1216.7,1367.5 1217.2,1367.7 1217.7,1367.9 1218.3,1368.0 1218.8,1368.2 1219.4,1368.4 1219.9,1368.6 1220.5,1368.8 1221.0,1369.1 1221.5,1369.3 1222.1,1369.5 1222.6,1369.8 1223.2,1370.1 1223.7,1370.3 1224.3,1370.6 1224.8,1370.9 1225.4,1371.2 1225.9,1371.6 1226.4,1371.9 1227.0,1372.2 1227.5,1372.6 1228.1,1372.9 1228.6,1373.3 1229.2,1373.7 1229.7,1374.1 1230.2,1374.5 1230.8,1374.9 1231.3,1375.3 1231.9,1375.7 1232.4,1376.1 1233.0,1376.6 1233.5,1377.0 1234.0,1377.5 1234.6,1377.9 1235.1,1378.4 1235.7,1378.9 1236.2,1379.4 1236.8,1379.9 1237.3,1380.4 1237.8,1380.9 1238.4,1381.4 1238.9,1381.9 1239.5,1382.4 1240.0,1383.0 1240.6,1383.5 1241.1,1384.1 1241.6,1384.6 1242.2,1385.2 1242.7,1385.8 1243.3,1386.3 1243.8,1386.9 1244.4,1387.5 1244.9,1388.1 1245.4,1388.7 1246.0,1389.3 1246.5,1389.9 1247.1,1390.5 1247.6,1391.1 1248.2,1391.8 1248.7,1392.4 1249.2,1393.0 1249.8,1393.7 1250.3,1394.3 1250.9,1395.0 1251.4,1395.6 1252.0,1396.3 1252.5,1396.9 1253.1,1397.6 1253.6,1398.2 1254.1,1398.9 1254.7,1399.6 1255.2,1400.2 1255.8,1400.9 1256.3,1401.6 1256.9,1402.2 1257.4,1402.9 1257.9,1403.6 1258.5,1404.3 1259.0,1405.0 1259.6,1405.6 1260.1,1406.3 1260.7,1407.0 1261.2,1407.7 1261.7,1408.4 1262.3,1409.1 1262.8,1409.8 1263.4,1410.4 1263.9,1411.1 1264.5,1411.8 1265.0,1412.5 1265.5,1411.8 1266.1,1411.1 1266.6,1410.4 1267.2,1409.8 1267.7,1409.1 1268.3,1408.4 1268.8,1407.7 1269.3,1407.1 1269.9,1406.4 1270.4,1405.7 1271.0,1405.0 1271.5,1404.4 1272.1,1403.7 1272.6,1403.1 1273.1,1402.4 1273.7,1401.7 1274.2,1401.1 1274.8,1400.4 1275.3,1399.8 1275.9,1399.2 1276.4,1398.5 1276.9,1397.9 1277.5,1397.3 1278.0,1396.6 1278.6,1396.0 1279.1,1395.4 1279.7,1394.8 1280.2,1394.2 1280.8,1393.6 1281.3,1393.0 1281.8,1392.4 1282.4,1391.8 1282.9,1391.2 1283.5,1390.7 1284.0,1390.1 1284.6,1389.5 1285.1,1389.0 1285.6,1388.4 1286.2,1387.9 1286.7,1387.4 1287.3,1386.8 1287.8,1386.3 1288.4,1385.8 1288.9,1385.3 1289.4,1384.8 1290.0,1384.3 1290.5,1383.8 1291.1,1383.3 1291.6,1382.9 1292.2,1382.4 1292.7,1382.0 1293.2,1381.5 1293.8,1381.1 1294.3,1380.6 1294.9,1380.2 1295.4,1379.8 1296.0,1379.4 1296.5,1379.0 1297.0,1378.6 1297.6,1378.2 1298.1,1377.9 1298.7,1377.5 1299.2,1377.2 1299.8,1376.8 1300.3,1376.5 1300.8,1376.2 1301.4,1375.8 1301.9,1375.5 1302.5,1375.2 1303.0,1375.0 1303.6,1374.7 1304.1,1374.4 1304.6,1374.2 1305.2,1373.9 1305.7,1373.7 1306.3,1373.4 1306.8,1373.2 1307.4,1373.0 1307.9,1372.8 1308.5,1372.6 1309.0,1372.4 1309.5,1372.3 1310.1,1372.1 1310.6,1372.0 1311.2,1371.8 1311.7,1371.7 1312.3,1371.6 1312.8,1371.5 1313.3,1371.4 1313.9,1371.3 1314.4,1371.2 1315.0,1371.1 1315.5,1371.1 1316.1,1371.0 1316.6,1371.0 1317.1,1371.0 1317.7,1371.0 1318.2,1370.9 1318.8,1371.0 1319.3,1371.0 1319.9,1371.0 1320.4,1371.0 1320.9,1371.1 1321.5,1371.1 1322.0,1371.2 1322.6,1371.3 1323.1,1371.4 1323.7,1371.4 1324.2,1371.6 1324.7,1371.7 1325.3,1371.8 1325.8,1371.9 1326.4,1372.1 1326.9,1372.2 1327.5,1372.4 1328.0,1372.6 1328.5,1372.8 1329.1,1373.0 1329.6,1373.2 1330.2,1373.4 1330.7,1373.6 1331.3,1373.8 1331.8,1374.1 1332.3,1374.3 1332.9,1374.6 1333.4,1374.8 1334.0,1375.1 1334.5,1375.4 1335.1,1375.7 1335.6,1376.0 1336.1,1376.3 1336.7,1376.6 1337.2,1377.0 1337.8,1377.3 1338.3,1377.7 1338.9,1378.0 1339.4,1378.4 1340.0,1378.8 1340.5,1379.1 1341.0,1379.5 1341.6,1379.9 1342.1,1380.3 1342.7,1380.7 1343.2,1381.2 1343.8,1381.6 1344.3,1382.0 1344.8,1382.5 1345.4,1382.9 1345.9,1383.4 1346.5,1383.8 1347.0,1384.3 1347.6,1384.8 1348.1,1385.2 1348.6,1385.7 1349.2,1386.2 1349.7,1386.7 1350.3,1387.2 1350.8,1387.7 1351.4,1388.2 1351.9,1388.8 1352.4,1389.3 1353.0,1389.8 1353.5,1390.4 1354.1,1390.9 1354.6,1391.4 1355.2,1392.0 1355.7,1392.6 1356.2,1393.1 1356.8,1393.7 1357.3,1394.3 1357.9,1394.8 1358.4,1395.4 1359.0,1396.0 1359.5,1396.6 1360.0,1397.2 1360.6,1397.7 1361.1,1398.3 1361.7,1398.9 1362.2,1399.5 1362.8,1400.1 1363.3,1400.7 1363.8,1401.3 1364.4,1402.0 1364.9,1402.6 1365.5,1403.2 1366.0,1403.8 1366.6,1404.4 1367.1,1405.0 1367.7,1405.6 1368.2,1406.3 1368.7,1406.9 1369.3,1407.5 1369.8,1408.1 1370.4,1408.8 1370.9,1409.4 1371.5,1410.0 1372.0,1410.6 1372.5,1411.3 1373.1,1411.9 1373.6,1412.5 1374.2,1411.9 1374.7,1411.3 1375.3,1410.6 1375.8,1410.0 1376.3,1409.4 1376.9,1408.8 1377.4,1408.2 1378.0,1407.5 1378.5,1406.9 1379.1,1406.3 1379.6,1405.7 1380.1,1405.1 1380.7,1404.5 1381.2,1403.9 1381.8,1403.3 1382.3,1402.7 1382.9,1402.1 1383.4,1401.5 1383.9,1400.9 1384.5,1400.4 1385.0,1399.8 1385.6,1399.2 1386.1,1398.6 1386.7,1398.1 1387.2,1397.5 1387.7,1396.9 1388.3,1396.4 1388.8,1395.8 1389.4,1395.3 1389.9,1394.7 1390.5,1394.2 1391.0,1393.7 1391.5,1393.1 1392.1,1392.6 1392.6,1392.1 1393.2,1391.6 1393.7,1391.1 1394.3,1390.6 1394.8,1390.1 1395.3,1389.6 1395.9,1389.1 1396.4,1388.7 1397.0,1388.2 1397.5,1387.7 1398.1,1387.3 1398.6,1386.8 1399.2,1386.4 1399.7,1385.9 1400.2,1385.5 1400.8,1385.1 1401.3,1384.7 1401.9,1384.3 1402.4,1383.9 1403.0,1383.5 1403.5,1383.1 1404.0,1382.7 1404.6,1382.3 1405.1,1382.0 1405.7,1381.6 1406.2,1381.3 1406.8,1380.9 1407.3,1380.6 1407.8,1380.3 1408.4,1380.0 1408.9,1379.7 1409.5,1379.4 1410.0,1379.1 1410.6,1378.8 1411.1,1378.5 1411.6,1378.3 1412.2,1378.0 1412.7,1377.8 1413.3,1377.5 1413.8,1377.3 1414.4,1377.1 1414.9,1376.9 1415.4,1376.7 1416.0,1376.5 1416.5,1376.3 1417.1,1376.1 1417.6,1376.0 1418.2,1375.8 1418.7,1375.6 1419.2,1375.5 1419.8,1375.4 1420.3,1375.3 1420.9,1375.2 1421.4,1375.1 1422.0,1375.0 1422.5,1374.9 1423.0,1374.8 1423.6,1374.7 1424.1,1374.7 1424.7,1374.6 1425.2,1374.6 1425.8,1374.6 1426.3,1374.6 1426.9,1374.6 1427.4,1374.6 1427.9,1374.6 1428.5,1374.6 1429.0,1374.6 1429.6,1374.7 1430.1,1374.7 1430.7,1374.8 1431.2,1374.8 1431.7,1374.9 1432.3,1375.0 1432.8,1375.1 1433.4,1375.2 1433.9,1375.3 1434.5,1375.4 1435.0,1375.6 1435.5,1375.7 1436.1,1375.9 1436.6,1376.0 1437.2,1376.2 1437.7,1376.4 1438.3,1376.6 1438.8,1376.7 1439.3,1376.9 1439.9,1377.2 1440.4,1377.4 1441.0,1377.6 1441.5,1377.8 1442.1,1378.1 1442.6,1378.3 1443.1,1378.6 1443.7,1378.9 1444.2,1379.1 1444.8,1379.4 1445.3,1379.7 1445.9,1380.0 1446.4,1380.3 1446.9,1380.6 1447.5,1381.0 1448.0,1381.3 1448.6,1381.6 1449.1,1382.0 1449.7,1382.3 1450.2,1382.7 1450.7,1383.1 1451.3,1383.4 1451.8,1383.8 1452.4,1384.2 1452.9,1384.6 1453.5,1385.0 1454.0,1385.4 1454.6,1385.8 1455.1,1386.3 1455.6,1386.7 1456.2,1387.1 1456.7,1387.6 1457.3,1388.0 1457.8,1388.4 1458.4,1388.9 1458.9,1389.4 1459.4,1389.8 1460.0,1390.3 1460.5,1390.8 1461.1,1391.3 1461.6,1391.7 1462.2,1392.2 1462.7,1392.7 1463.2,1393.2 1463.8,1393.7 1464.3,1394.2 1464.9,1394.8 1465.4,1395.3 1466.0,1395.8 1466.5,1396.3 1467.0,1396.8 1467.6,1397.4 1468.1,1397.9 1468.7,1398.4 1469.2,1399.0 1469.8,1399.5 1470.3,1400.1 1470.8,1400.6 1471.4,1401.2 1471.9,1401.7 1472.5,1402.3 1473.0,1402.8 1473.6,1403.4 1474.1,1404.0 1474.6,1404.5 1475.2,1405.1 1475.7,1405.7 1476.3,1406.2 1476.8,1406.8 1477.4,1407.4 1477.9,1407.9 1478.4,1408.5 1479.0,1409.1 1479.5,1409.6 1480.1,1410.2 1480.6,1410.8 1481.2,1411.4 1481.7,1411.9 1482.2,1412.5 1482.8,1411.9 1483.3,1411.4 1483.9,1410.8 1484.4,1410.2 1485.0,1409.7 1485.5,1409.1 1486.1,1408.5 1486.6,1408.0 1487.1,1407.4 1487.7,1406.8 1488.2,1406.3 1488.8,1405.7 1489.3,1405.2 1489.9,1404.6 1490.4,1404.1 1490.9,1403.5 1491.5,1403.0 1492.0,1402.4 1492.6,1401.9 1493.1,1401.4 1493.7,1400.8 1494.2,1400.3 1494.7,1399.8 1495.3,1399.3 1495.8,1398.7 1496.4,1398.2 1496.9,1397.7 1497.5,1397.2 1498.0,1396.7 1498.5,1396.2 1499.1,1395.7 1499.6,1395.2 1500.2,1394.7 1500.7,1394.3 1501.3,1393.8 1501.8,1393.3 1502.3,1392.8 1502.9,1392.4 1503.4,1391.9 1504.0,1391.5 1504.5,1391.0 1505.1,1390.6 1505.6,1390.2 1506.1,1389.8 1506.7,1389.3 1507.2,1388.9 1507.8,1388.5 1508.3,1388.1 1508.9,1387.7 1509.4,1387.3 1509.9,1386.9 1510.5,1386.6 1511.0,1386.2 1511.6,1385.8 1512.1,1385.5 1512.7,1385.1 1513.2,1384.8 1513.8,1384.5 1514.3,1384.1 1514.8,1383.8 1515.4,1383.5 1515.9,1383.2 1516.5,1382.9 1517.0,1382.6 1517.6,1382.3 1518.1,1382.1 1518.6,1381.8 1519.2,1381.5 1519.7,1381.3 1520.3,1381.0 1520.8,1380.8 1521.4,1380.6 1521.9,1380.4 1522.4,1380.1 1523.0,1379.9 1523.5,1379.7 1524.1,1379.6 1524.6,1379.4 1525.2,1379.2 1525.7,1379.1 1526.2,1378.9 1526.8,1378.8 1527.3,1378.6 1527.9,1378.5 1528.4,1378.4 1529.0,1378.3 1529.5,1378.2 1530.0,1378.1 1530.6,1378.0 1531.1,1377.9 1531.7,1377.8 1532.2,1377.8 1532.8,1377.7 1533.3,1377.7 1533.8,1377.6 1534.4,1377.6 1534.9,1377.6 1535.5,1377.6 1536.0,1377.6 1536.6,1377.6 1537.1,1377.6 1537.6,1377.7 1538.2,1377.7 1538.7,1377.7 1539.3,1377.8 1539.8,1377.8 1540.4,1377.9 1540.9,1378.0 1541.5,1378.1 1542.0,1378.2 1542.5,1378.3 1543.1,1378.4 1543.6,1378.5 1544.2,1378.6 1544.7,1378.8 1545.3,1378.9 1545.8,1379.1 1546.3,1379.2 1546.9,1379.4 1547.4,1379.6 1548.0,1379.8 1548.5,1380.0 1549.1,1380.2 1549.6,1380.4 1550.1,1380.6 1550.7,1380.8 1551.2,1381.0 1551.8,1381.3 1552.3,1381.5 1552.9,1381.8 1553.4,1382.0 1553.9,1382.3 1554.5,1382.6 1555.0,1382.9 1555.6,1383.2 1556.1,1383.5 1556.7,1383.8 1557.2,1384.1 1557.7,1384.4 1558.3,1384.7 1558.8,1385.0 1559.4,1385.4 1559.9,1385.7 1560.5,1386.1 1561.0,1386.4 1561.5,1386.8 1562.1,1387.2 1562.6,1387.5 1563.2,1387.9 1563.7,1388.3 1564.3,1388.7 1564.8,1389.1 1565.3,1389.5 1565.9,1389.9 1566.4,1390.3 1567.0,1390.7 1567.5,1391.2 1568.1,1391.6 1568.6,1392.0 1569.1,1392.5 1569.7,1392.9 1570.2,1393.4 1570.8,1393.8 1571.3,1394.3 1571.9,1394.7 1572.4,1395.2 1573.0,1395.7 1573.5,1396.1 1574.0,1396.6 1574.6,1397.1 1575.1,1397.6 1575.7,1398.1 1576.2,1398.5 1576.8,1399.0 1577.3,1399.5 1577.8,1400.0 1578.4,1400.5 1578.9,1401.0 1579.5,1401.5 1580.0,1402.1 1580.6,1402.6 1581.1,1403.1 1581.6,1403.6 1582.2,1404.1 1582.7,1404.6 1583.3,1405.1 1583.8,1405.7 1584.4,1406.2 1584.9,1406.7 1585.4,1407.2 1586.0,1407.8 1586.5,1408.3 1587.1,1408.8 1587.6,1409.3 1588.2,1409.9 1588.7,1410.4 1589.2,1410.9 1589.8,1411.4 1590.3,1412.0 1590.9,1412.5 1591.4,1412.0 1592.0,1411.4 1592.5,1410.9 1593.0,1410.4 1593.6,1409.9 1594.1,1409.4 1594.7,1408.8 1595.2,1408.3 1595.8,1407.8 1596.3,1407.3 1596.8,1406.8 1597.4,1406.2 1597.9,1405.7 1598.5,1405.2 1599.0,1404.7 1599.6,1404.2 1600.1,1403.7 1600.7,1403.2 1601.2,1402.7 1601.7,1402.2 1602.3,1401.7 1602.8,1401.2 1603.4,1400.7 1603.9,1400.3 1604.5,1399.8 1605.0,1399.3 1605.5,1398.8 1606.1,1398.4 1606.6,1397.9 1607.2,1397.4 1607.7,1397.0 1608.3,1396.5 1608.8,1396.1 1609.3,1395.6 1609.9,1395.2 1610.4,1394.8 1611.0,1394.3 1611.5,1393.9 1612.1,1393.5 1612.6,1393.1 1613.1,1392.7 1613.7,1392.3 1614.2,1391.9 1614.8,1391.5 1615.3,1391.1 1615.9,1390.7 1616.4,1390.3 1616.9,1390.0 1617.5,1389.6 1618.0,1389.2 1618.6,1388.9 1619.1,1388.5 1619.7,1388.2 1620.2,1387.8 1620.7,1387.5 1621.3,1387.2 1621.8,1386.9 1622.4,1386.6 1622.9,1386.3 1623.5,1386.0 1624.0,1385.7 1624.5,1385.4 1625.1,1385.1 1625.6,1384.9 1626.2,1384.6 1626.7,1384.3 1627.3,1384.1 1627.8,1383.9 1628.4,1383.6 1628.9,1383.4 1629.4,1383.2 1630.0,1383.0 1630.5,1382.8 1631.1,1382.6 1631.6,1382.4 1632.2,1382.2 1632.7,1382.0 1633.2,1381.9 1633.8,1381.7 1634.3,1381.5 1634.9,1381.4 1635.4,1381.3 1636.0,1381.1 1636.5,1381.0 1637.0,1380.9 1637.6,1380.8 1638.1,1380.7 1638.7,1380.6 1639.2,1380.5 1639.8,1380.5 1640.3,1380.4 1640.8,1380.4 1641.4,1380.3 1641.9,1380.3 1642.5,1380.2 1643.0,1380.2 1643.6,1380.2 1644.1,1380.2 1644.6,1380.2 1645.2,1380.2 1645.7,1380.2 1646.3,1380.2 1646.8,1380.3 1647.4,1380.3 1647.9,1380.4 1648.4,1380.4 1649.0,1380.5 1649.5,1380.5 1650.1,1380.6 1650.6,1380.7 1651.2,1380.8 1651.7,1380.9 1652.2,1381.0 1652.8,1381.1 1653.3,1381.3 1653.9,1381.4 1654.4,1381.5 1655.0,1381.7 1655.5,1381.8 1656.0,1382.0 1656.6,1382.2 1657.1,1382.4 1657.7,1382.5 1658.2,1382.7 1658.8,1382.9 1659.3,1383.1 1659.9,1383.3 1660.4,1383.6 1660.9,1383.8 1661.5,1384.0 1662.0,1384.3 1662.6,1384.5 1663.1,1384.8 1663.7,1385.0 1664.2,1385.3 1664.7,1385.6 1665.3,1385.9 1665.8,1386.2 1666.4,1386.4 1666.9,1386.7 1667.5,1387.1 1668.0,1387.4 1668.5,1387.7 1669.1,1388.0 1669.6,1388.3 1670.2,1388.7 1670.7,1389.0 1671.3,1389.4 1671.8,1389.7 1672.3,1390.1 1672.9,1390.4 1673.4,1390.8 1674.0,1391.2 1674.5,1391.6 1675.1,1391.9 1675.6,1392.3 1676.1,1392.7 1676.7,1393.1 1677.2,1393.5 1677.8,1393.9 1678.3,1394.3 1678.9,1394.7 1679.4,1395.2 1679.9,1395.6 1680.5,1396.0 1681.0,1396.4 1681.6,1396.9 1682.1,1397.3 1682.7,1397.8 1683.2,1398.2 1683.7,1398.7 1684.3,1399.1 1684.8,1399.6 1685.4,1400.0 1685.9,1400.5 1686.5,1400.9 1687.0,1401.4 1687.6,1401.9 1688.1,1402.3 1688.6,1402.8 1689.2,1403.3 1689.7,1403.8 1690.3,1404.2 1690.8,1404.7 1691.4,1405.2 1691.9,1405.7 1692.4,1406.2 1693.0,1406.6 1693.5,1407.1 1694.1,1407.6 1694.6,1408.1 1695.2,1408.6 1695.7,1409.1 1696.2,1409.6 1696.8,1410.1 1697.3,1410.5 1697.9,1411.0 1698.4,1411.5 1699.0,1412.0 1699.5,1412.5 1700.0,1412.0 1700.6,1411.5 1701.1,1411.0 1701.7,1410.5 1702.2,1410.1 1702.8,1409.6 1703.3,1409.1 1703.8,1408.6 1704.4,1408.1 1704.9,1407.6 1705.5,1407.2 1706.0,1406.7 1706.6,1406.2 1707.1,1405.7 1707.6,1405.3 1708.2,1404.8 1708.7,1404.3 1709.3,1403.9 1709.8,1403.4 1710.4,1402.9 1710.9,1402.5 1711.4,1402.0 1712.0,1401.6 1712.5,1401.1 1713.1,1400.7 1713.6,1400.2 1714.2,1399.8 1714.7,1399.4 1715.3,1398.9 1715.8,1398.5 1716.3,1398.1 1716.9,1397.7 1717.4,1397.2 1718.0,1396.8 1718.5,1396.4 1719.1,1396.0 1719.6,1395.6 1720.1,1395.2 1720.7,1394.8 1721.2,1394.4 1721.8,1394.1 1722.3,1393.7 1722.9,1393.3 1723.4,1393.0 1723.9,1392.6 1724.5,1392.2 1725.0,1391.9 1725.6,1391.5 1726.1,1391.2 1726.7,1390.9 1727.2,1390.5 1727.7,1390.2 1728.3,1389.9 1728.8,1389.6 1729.4,1389.3 1729.9,1389.0 1730.5,1388.7 1731.0,1388.4 1731.5,1388.1 1732.1,1387.8 1732.6,1387.6 1733.2,1387.3 1733.7,1387.0 1734.3,1386.8 1734.8,1386.5 1735.3,1386.3 1735.9,1386.1 1736.4,1385.8 1737.0,1385.6 1737.5,1385.4 1738.1,1385.2 1738.6,1385.0 1739.1,1384.8 1739.7,1384.6 1740.2,1384.5 1740.8,1384.3 1741.3,1384.1 1741.9,1384.0 1742.4,1383.8 1742.9,1383.7 1743.5,1383.6 1744.0,1383.4 1744.6,1383.3 1745.1,1383.2 1745.7,1383.1 1746.2,1383.0 1746.8,1382.9 1747.3,1382.8 1747.8,1382.8 1748.4,1382.7 1748.9,1382.6 1749.5,1382.6 1750.0,1382.5 1750.6,1382.5 1751.1,1382.5 1751.6,1382.4 1752.2,1382.4 1752.7,1382.4 1753.3,1382.4 1753.8,1382.4 1754.4,1382.4 1754.9,1382.5 1755.4,1382.5 1756.0,1382.5 1756.5,1382.6 1757.1,1382.6 1757.6,1382.7 1758.2,1382.7 1758.7,1382.8 1759.2,1382.9 1759.8,1383.0 1760.3,1383.1 1760.9,1383.2 1761.4,1383.3 1762.0,1383.4 1762.5,1383.5 1763.0,1383.7 1763.6,1383.8 1764.1,1383.9 1764.7,1384.1 1765.2,1384.2 1765.8,1384.4 1766.3,1384.6 1766.8,1384.8 1767.4,1384.9 1767.9,1385.1 1768.5,1385.3 1769.0,1385.5 1769.6,1385.8 1770.1,1386.0 1770.6,1386.2 1771.2,1386.4 1771.7,1386.7 1772.3,1386.9 1772.8,1387.2 1773.4,1387.4 1773.9,1387.7 1774.5,1387.9 1775.0,1388.2 1775.5,1388.5 1776.1,1388.8 1776.6,1389.1 1777.2,1389.4 1777.7,1389.7 1778.3,1390.0 1778.8,1390.3 1779.3,1390.6 1779.9,1390.9 1780.4,1391.3 1781.0,1391.6 1781.5,1391.9 1782.1,1392.3 1782.6,1392.6 1783.1,1393.0 1783.7,1393.3 1784.2,1393.7 1784.8,1394.1 1785.3,1394.4 1785.9,1394.8 1786.4,1395.2 1786.9,1395.6 1787.5,1395.9 1788.0,1396.3 1788.6,1396.7 1789.1,1397.1 1789.7,1397.5 1790.2,1397.9 1790.7,1398.3 1791.3,1398.8 1791.8,1399.2 1792.4,1399.6 1792.9,1400.0 1793.5,1400.4 1794.0,1400.9 1794.5,1401.3 1795.1,1401.7 1795.6,1402.1 1796.2,1402.6 1796.7,1403.0 1797.3,1403.5 1797.8,1403.9 1798.3,1404.3 1798.9,1404.8 1799.4,1405.2 1800.0,1405.7 1800.5,1406.1 1801.1,1406.6 1801.6,1407.0 1802.2,1407.5 1802.7,1407.9 1803.2,1408.4 1803.8,1408.8 1804.3,1409.3 1804.9,1409.8 1805.4,1410.2 1806.0,1410.7 1806.5,1411.1 1807.0,1411.6 1807.6,1412.0 1808.1,1412.5 1808.7,1412.0 1809.2,1411.6 1809.8,1411.1 1810.3,1410.7 1810.8,1410.2 1811.4,1409.8 1811.9,1409.3 1812.5,1408.9 1813.0,1408.4 1813.6,1408.0 1814.1,1407.5 1814.6,1407.1 1815.2,1406.6 1815.7,1406.2 1816.3,1405.7 1816.8,1405.3 1817.4,1404.9 1817.9,1404.4 1818.4,1404.0 1819.0,1403.6 1819.5,1403.1 1820.1,1402.7 1820.6,1402.3 1821.2,1401.9 1821.7,1401.5 1822.2,1401.1 1822.8,1400.6 1823.3,1400.2 1823.9,1399.8 1824.4,1399.4 1825.0,1399.0 1825.5,1398.6 1826.0,1398.3 1826.6,1397.9 1827.1,1397.5 1827.7,1397.1 1828.2,1396.7 1828.8,1396.4 1829.3,1396.0 1829.8,1395.6 1830.4,1395.3 1830.9,1394.9 1831.5,1394.6 1832.0,1394.2 1832.6,1393.9 1833.1,1393.6 1833.7,1393.2 1834.2,1392.9 1834.7,1392.6 1835.3,1392.3 1835.8,1392.0 1836.4,1391.7 1836.9,1391.4 1837.5,1391.1 1838.0,1390.8 1838.5,1390.5 1839.1,1390.2 1839.6,1390.0 1840.2,1389.7 1840.7,1389.4 1841.3,1389.2 1841.8,1388.9 1842.3,1388.7 1842.9,1388.5 1843.4,1388.2 1844.0,1388.0 1844.5,1387.8 1845.1,1387.6 1845.6,1387.4 1846.1,1387.2 1846.7,1387.0 1847.2,1386.8 1847.8,1386.6 1848.3,1386.5 1848.9,1386.3 1849.4,1386.1 1849.9,1386.0 1850.5,1385.8 1851.0,1385.7 1851.6,1385.6 1852.1,1385.4 1852.7,1385.3 1853.2,1385.2 1853.7,1385.1 1854.3,1385.0 1854.8,1384.9 1855.4,1384.8 1855.9,1384.8 1856.5,1384.7 1857.0,1384.6 1857.5,1384.6 1858.1,1384.5 1858.6,1384.5 1859.2,1384.4 1859.7,1384.4 1860.3,1384.4 1860.8,1384.4 1861.4,1384.4 1861.9,1384.4 1862.4,1384.4 1863.0,1384.4 1863.5,1384.4 1864.1,1384.4 1864.6,1384.5 1865.2,1384.5 1865.7,1384.5 1866.2,1384.6 1866.8,1384.7 1867.3,1384.7 1867.9,1384.8 1868.4,1384.9 1869.0,1385.0 1869.5,1385.1 1870.0,1385.2 1870.6,1385.3 1871.1,1385.4 1871.7,1385.5 1872.2,1385.6 1872.8,1385.8 1873.3,1385.9 1873.8,1386.1 1874.4,1386.2 1874.9,1386.4 1875.5,1386.5 1876.0,1386.7 1876.6,1386.9 1877.1,1387.1 1877.6,1387.3 1878.2,1387.5 1878.7,1387.7 1879.3,1387.9 1879.8,1388.1 1880.4,1388.3 1880.9,1388.5 1881.4,1388.8 1882.0,1389.0 1882.5,1389.3 1883.1,1389.5 1883.6,1389.8 1884.2,1390.0 1884.7,1390.3 1885.2,1390.6 1885.8,1390.8 1886.3,1391.1 1886.9,1391.4 1887.4,1391.7 1888.0,1392.0 1888.5,1392.3 1889.1,1392.6 1889.6,1392.9 1890.1,1393.2 1890.7,1393.6 1891.2,1393.9 1891.8,1394.2 1892.3,1394.5 1892.9,1394.9 1893.4,1395.2 1893.9,1395.6 1894.5,1395.9 1895.0,1396.3 1895.6,1396.6 1896.1,1397.0 1896.7,1397.4 1897.2,1397.7 1897.7,1398.1 1898.3,1398.5 1898.8,1398.9 1899.4,1399.2 1899.9,1399.6 1900.5,1400.0 1901.0,1400.4 1901.5,1400.8 1902.1,1401.2 1902.6,1401.6 1903.2,1402.0 1903.7,1402.4 1904.3,1402.8 1904.8,1403.2 1905.3,1403.6 1905.9,1404.0 1906.4,1404.4 1907.0,1404.9 1907.5,1405.3 1908.1,1405.7 1908.6,1406.1 1909.1,1406.5 1909.7,1407.0 1910.2,1407.4 1910.8,1407.8 1911.3,1408.2 1911.9,1408.6 1912.4,1409.1 1912.9,1409.5 1913.5,1409.9 1914.0,1410.4 1914.6,1410.8 1915.1,1411.2 1915.7,1411.6 1916.2,1412.1 1916.8,1412.5" fill="none" stroke="#FF0000" stroke-width="7.7" stroke-linejoin="round"/>
<polyline points="178.8,1392.2 179.2,1384.9 179.6,1388.5 180.1,1385.5 180.5,1382.9 180.9,1387.4 181.4,1387.8 181.8,1392.3 182.2,1390.2 182.7,1387.8 183.1,1386.0 183.5,1384.7 184.0,1389.1 184.4,1392.3 184.8,1390.0 185.3,1383.6 185.7,1390.8 186.1,1388.3 186.6,1383.4 187.0,1392.8 187.4,1386.8 187.9,1383.2 188.3,1390.6 188.7,1387.3 189.2,1383.6 189.6,1391.6 190.0,1387.6 190.5,1385.2 190.9,1386.1 191.4,1388.2 191.8,1390.9 192.2,1387.9 192.7,1389.2 193.1,1388.1 193.5,1389.2 194.0,1384.3 194.4,1385.1 194.8,1389.8 195.3,1387.1 195.7,1390.2 196.1,1388.3 196.6,1389.4 197.0,1386.2 197.4,1389.2 197.9,1388.3 198.3,1385.6 198.7,1388.7 199.2,1383.6 199.6,1391.1 200.0,1385.4 200.5,1388.6 200.9,1388.6 201.3,1386.4 201.8,1387.6 202.2,1388.7 202.6,1392.9 203.1,1392.0 203.5,1385.6 204.0,1387.5 204.4,1385.7 204.8,1383.0 205.3,1385.8 205.7,1392.3 206.1,1389.7 206.6,1386.7 207.0,1390.4 207.4,1382.9 207.9,1383.1 208.3,1384.1 208.7,1387.9 209.2,1384.1 209.6,1374.7 210.0,1374.7 210.5,1374.7 210.9,1374.7 211.3,1374.7 211.8,1374.7 212.2,1374.7 212.6,1374.7 213.1,1374.7 213.5,1374.7 213.9,1374.7 214.4,1374.7 214.8,1401.5 215.2,1401.5 215.7,1361.0 216.1,1361.0 216.6,1361.0 217.0,1361.0 217.4,1361.0 217.9,1361.0 218.3,1361.0 218.7,1361.0 219.2,1361.0 219.6,1361.0 220.0,1361.0 220.5,1361.0 220.9,1361.0 221.3,1361.0 221.8,1361.0 222.2,1361.0 222.6,1361.0 223.1,1361.0 223.5,1361.0 223.9,1361.0 224.4,1384.9 224.8,1383.9 225.2,1384.6 225.7,1392.2 226.1,1388.0 226.5,1387.6 227.0,1391.7 227.4,1386.7 227.8,1386.0 228.3,1383.8 228.7,1382.6 229.2,1390.9 229.6,1389.9 230.0,1385.5 230.5,1390.8 230.9,1389.9 231.3,1386.3 231.8,1390.4 232.2,1384.2 232.6,1383.4 233.1,1391.8 233.5,1386.7 233.9,1384.0 234.4,1382.2 234.8,1403.2 235.2,1403.2 235.7,1403.2 236.1,1382.8 236.5,1390.0 237.0,1387.5 237.4,1351.7 237.8,1351.7 238.3,1351.7 238.7,1351.7 239.1,1351.7 239.6,1351.7 240.0,1351.7 240.4,1351.7 240.9,1351.7 241.3,1351.7 241.8,1351.7 242.2,1351.7 242.6,1351.7 243.1,1351.7 243.5,1351.7 243.9,1391.6 244.4,1386.5 244.8,1384.7 245.2,1387.4 245.7,1390.4 246.1,1388.4 246.5,1385.8 247.0,1382.2 247.4,1348.9 247.8,1348.9 248.3,1348.9 248.7,1348.9 249.1,1348.9 249.6,1348.9 250.0,1348.9 250.4,1348.9 250.9,1348.9 251.3,1348.9 251.7,1348.9 252.2,1348.9 252.6,1348.9 253.0,1348.9 253.5,1348.9 253.9,1348.9 254.4,1348.9 254.8,1390.8 255.2,1387.9 255.7,1387.3 256.1,1389.6 256.5,1386.2 257.0,1386.1 257.4,1388.2 257.8,1384.0 258.3,1389.8 258.7,1389.5 259.1,1387.8 259.6,1387.6 260.0,1389.3 260.4,1382.1 260.9,1383.0 261.3,1390.3 261.7,1387.6 262.2,1389.0 262.6,1386.8 263.0,1388.5 263.5,1386.2 263.9,1382.0 264.3,1387.4 264.8,1384.7 265.2,1385.2 265.6,1383.7 266.1,1390.6 266.5,1383.7 267.0,1381.6 267.4,1385.0 267.8,1388.2 268.3,1384.3 268.7,1383.9 269.1,1384.4 269.6,1389.5 270.0,1381.2 270.4,1381.3 270.9,1386.6 271.3,1384.9 271.7,1390.4 272.2,1380.9 272.6,1382.6 273.0,1384.4 273.5,1383.1 273.9,1388.8 274.3,1387.6 274.8,1388.2 275.2,1384.6 275.6,1389.7 276.1,1381.6 276.5,1385.9 276.9,1386.0 277.4,1389.4 277.8,1383.6 278.3,1382.3 278.7,1384.1 279.1,1387.9 279.6,1382.5 280.0,1388.8 280.4,1382.1 280.9,1384.5 281.3,1387.3 281.7,1385.1 282.2,1383.9 282.6,1387.4 283.0,1381.8 283.5,1385.8 283.9,1381.3 284.3,1381.8 284.8,1388.8 285.2,1383.6 285.6,1386.7 286.1,1382.5 286.5,1384.5 286.9,1385.2 287.4,1381.1 287.8,1388.9 288.2,1384.2 288.7,1386.3 289.1,1389.0 289.5,1382.3 290.0,1384.0 290.4,1381.0 290.9,1383.6 291.3,1386.0 291.7,1380.1 292.2,1387.9 292.6,1388.4 293.0,1382.3 293.5,1385.5 293.9,1385.6 294.3,1380.9 294.8,1385.8 295.2,1380.8 295.6,1382.9 296.1,1385.7 296.5,1388.0 296.9,1386.3 297.4,1380.0 297.8,1384.9 298.2,1386.9 298.7,1385.6 299.1,1380.2 299.5,1386.4 300.0,1381.0 300.4,1386.3 300.8,1379.1 301.3,1382.6 301.7,1386.5 302.1,1378.9 302.6,1383.5 303.0,1380.2 303.5,1381.8 303.9,1385.2 304.3,1384.9 304.8,1384.3 305.2,1384.1 305.6,1384.8 306.1,1384.6 306.5,1377.1 306.9,1383.9 307.4,1380.3 307.8,1383.3 308.2,1382.3 308.7,1377.7 309.1,1376.1 309.5,1379.6 310.0,1383.1 310.4,1375.0 310.8,1382.3 311.3,1379.4 311.7,1377.9 312.1,1374.9 312.6,1375.2 313.0,1376.7 313.4,1378.1 313.9,1374.4 314.3,1373.9 314.7,1373.6 315.2,1374.6 315.6,1379.2 316.1,1377.4 316.5,1375.7 316.9,1375.3 317.4,1372.4 317.8,1376.9 318.2,1373.2 318.7,1375.3 319.1,1371.9 319.5,1376.2 320.0,1373.8 320.4,1376.5 320.8,1375.4 321.3,1369.5 321.7,1374.1 322.1,1409.8 322.6,1409.8 323.0,1409.8 323.4,1369.5 323.9,1375.0 324.3,1368.7 324.7,1374.9 325.2,1369.4 325.6,1373.1 326.0,1371.5 326.5,1366.6 326.9,1369.9 327.3,1368.4 327.8,1367.5 328.2,1372.1 328.7,1366.2 329.1,1365.4 329.5,1371.0 330.0,1367.7 330.4,1369.5 330.8,1365.7 331.3,1370.9 331.7,1366.8 332.1,1364.4 332.6,1364.5 333.0,1368.9 333.4,1363.1 333.9,1367.3 334.3,1362.6 334.7,1364.6 335.2,1366.8 335.6,1362.1 336.0,1361.2 336.5,1361.7 336.9,1359.3 337.3,1364.3 337.8,1364.1 338.2,1364.4 338.6,1361.1 339.1,1361.8 339.5,1405.9 339.9,1405.9 340.4,1405.9 340.8,1363.3 341.3,1359.4 341.7,1360.5 342.1,1358.7 342.6,1354.7 343.0,1359.9 343.4,1356.0 343.9,1355.5 344.3,1357.7 344.7,1355.9 345.2,1351.7 345.6,1355.9 346.0,1352.7 346.5,1351.3 346.9,1354.3 347.3,1349.2 347.8,1351.4 348.2,1351.8 348.6,1349.8 349.1,1351.4 349.5,1348.8 349.9,1351.5 350.4,1346.2 350.8,1348.5 351.2,1350.2 351.7,1310.0 352.1,1310.0 352.5,1310.0 353.0,1310.0 353.4,1310.0 353.9,1310.0 354.3,1310.0 354.7,1310.0 355.2,1310.0 355.6,1310.0 356.0,1310.0 356.5,1310.0 356.9,1310.0 357.3,1310.0 357.8,1310.0 358.2,1335.1 358.6,1339.6 359.1,1339.5 359.5,1336.7 359.9,1335.5 360.4,1305.6 360.8,1305.6 361.2,1305.6 361.7,1305.6 362.1,1305.6 362.5,1305.6 363.0,1305.6 363.4,1305.6 363.8,1330.6 364.3,1323.2 364.7,1326.6 365.2,1325.0 365.6,1322.8 366.0,1317.9 366.5,1319.1 366.9,1319.5 367.3,1317.9 367.8,1312.7 368.2,1311.7 368.6,1315.0 369.1,1312.6 369.5,1310.1 369.9,1309.5 370.4,1305.2 370.8,1305.8 371.2,1301.4 371.7,1296.9 372.1,1295.5 372.5,1298.6 373.0,1295.6 373.4,1291.9 373.8,1287.9 374.3,1287.2 374.7,1285.6 375.1,1282.3 375.6,1280.5 376.0,1273.0 376.4,1271.1 376.9,1269.9 377.3,1264.5 377.8,1262.3 378.2,1258.6 378.6,1255.9 379.1,1251.0 379.5,1243.2 379.9,1240.2 380.4,1235.1 380.8,1235.1 381.2,1227.1 381.7,1222.4 382.1,1218.4 382.5,1209.9 383.0,1205.4 383.4,1197.0 383.8,1185.3 384.3,1177.8 384.7,1168.7 385.1,1163.3 385.6,1152.2 386.0,1141.8 386.4,1128.8 386.9,1115.2 387.3,1094.2 387.4,1090.6 387.5,1091.4 387.6,1086.8 387.7,1077.6 387.9,1075.9 388.0,1072.7 388.1,1067.4 388.2,1064.0 388.3,1056.8 388.4,1050.8 388.5,1047.0 388.6,1039.5 388.7,1038.9 388.8,1029.8 388.9,1021.2 389.0,1021.1 389.2,1012.4 389.3,1005.0 389.4,1000.4 389.5,989.1 389.6,985.3 389.7,978.0 389.8,967.4 389.9,965.7 390.0,951.6 390.1,948.2 390.2,937.7 390.4,927.8 390.5,918.4 390.6,911.5 390.7,899.3 390.8,888.3 390.9,872.9 391.0,861.5 391.1,851.7 391.2,836.5 391.3,823.7 391.4,813.1 391.5,800.3 391.7,781.5 391.8,767.3 391.9,752.5 392.0,727.8 392.1,708.9 392.2,692.0 392.3,670.2 392.4,647.4 392.5,621.7 392.6,599.5 392.7,571.6 392.8,545.1 393.0,514.0 393.1,478.6 393.2,444.8 393.3,407.4 393.4,363.0 393.5,314.7 393.6,268.2 393.7,209.5 393.8,150.6 393.9,84.6 394.0,9.2 394.2,-67.4 394.3,-160.9 394.4,-271.0 394.5,-391.1 394.6,-523.8 394.7,-690.2 394.8,-779.7 394.9,-779.7 395.0,-779.7 395.1,-779.7 395.2,-779.7 395.3,-779.7 395.5,-779.7 395.6,-779.7 395.7,-779.7 395.8,-779.7 395.9,-779.7 396.0,-779.7 396.1,-779.7 396.2,-779.7 396.3,-779.7 396.4,-779.7 396.5,-779.7 396.7,-779.7 396.8,-779.7 396.9,-779.7 397.0,-779.7 397.1,-779.7 397.2,-779.7 397.3,-779.7 397.4,-779.7 397.5,-779.7 397.6,-718.9 397.7,-580.4 397.8,-463.6 398.0,-356.6 398.1,-261.7 398.2,-170.1 398.3,-96.7 398.4,-26.3 398.5,42.4 398.6,100.7 398.7,154.1 398.8,207.1 398.9,249.3 399.0,293.8 399.2,332.9 399.3,373.3 399.4,408.0 399.5,443.2 399.6,473.3 399.7,499.4 399.8,525.2 399.9,556.8 400.0,582.0 400.1,605.0 400.2,624.4 400.3,642.8 400.5,666.6 400.6,683.7 400.7,701.4 400.8,716.3 400.9,737.4 401.0,754.2 401.1,765.7 401.2,781.2 401.3,795.4 401.4,805.2 401.5,818.6 401.6,834.9 401.8,843.4 401.9,853.0 402.0,863.1 402.1,879.9 402.2,884.4 402.3,899.5 402.4,904.4 402.5,914.1 402.6,920.4 402.7,931.1 402.8,943.3 403.0,947.1 403.1,957.7 403.2,961.1 403.3,974.0 403.4,979.0 403.5,983.3 403.6,993.6 403.7,996.6 403.8,1002.5 403.9,1008.3 404.0,1013.2 404.1,1022.2 404.3,1029.7 404.4,1034.3 404.5,1038.7 404.6,1046.2 404.7,1046.7 405.1,1070.1 405.6,1087.2 406.0,1096.7 406.4,1111.8 406.9,1128.8 407.3,1140.2 407.7,1147.9 408.2,1159.6 408.6,1171.7 409.0,1179.3 409.5,1184.7 409.9,1198.4 410.3,1198.7 410.8,1208.5 411.2,1217.6 411.6,1219.3 412.1,1230.0 412.5,1233.1 412.9,1237.0 413.4,1244.1 413.8,1244.2 414.2,1249.8 414.7,1257.7 415.1,1261.6 415.6,1266.0 416.0,1266.0 416.4,1272.1 416.9,1272.8 417.3,1274.0 417.7,1276.6 418.2,1284.7 418.6,1286.0 419.0,1288.0 419.5,1290.7 419.9,1292.9 420.3,1294.9 420.8,1295.1 421.2,1300.4 421.6,1301.0 422.1,1300.9 422.5,1304.4 422.9,1302.9 423.4,1306.3 423.8,1304.4 424.2,1306.8 424.7,1312.6 425.1,1314.2 425.5,1312.1 426.0,1315.2 426.4,1320.7 426.8,1317.9 427.3,1321.1 427.7,1319.8 428.2,1321.6 428.6,1321.8 429.0,1324.8 429.5,1324.7 429.9,1330.5 430.3,1325.9 430.8,1325.9 431.2,1325.9 431.6,1325.9 432.1,1325.9 432.5,1325.9 432.9,1325.9 433.4,1325.9 433.8,1325.9 434.2,1325.9 434.7,1325.9 435.1,1325.9 435.5,1325.9 436.0,1325.9 436.4,1325.9 436.8,1325.9 437.3,1325.9 437.7,1325.9 438.1,1325.9 438.6,1325.9 439.0,1325.9 439.4,1350.6 439.9,1347.8 440.3,1353.0 440.8,1350.5 441.2,1350.2 441.6,1354.0 442.1,1353.7 442.5,1352.7 442.9,1353.0 443.4,1356.6 443.8,1355.4 444.2,1351.8 444.7,1357.1 445.1,1354.3 445.5,1358.9 446.0,1357.6 446.4,1357.7 446.8,1357.6 447.3,1357.2 447.7,1357.2 448.1,1358.3 448.6,1358.0 449.0,1357.9 449.4,1362.2 449.9,1359.1 450.3,1361.7 450.7,1363.9 451.2,1364.9 451.6,1361.2 452.1,1362.5 452.5,1366.8 452.9,1363.6 453.4,1358.8 453.8,1358.8 454.2,1358.8 454.7,1358.8 455.1,1358.8 455.5,1358.8 456.0,1358.8 456.4,1358.8 456.8,1358.8 457.3,1358.8 457.7,1358.8 458.1,1358.8 458.6,1358.8 459.0,1358.8 459.4,1358.8 459.9,1358.8 460.3,1358.8 460.7,1358.8 461.2,1368.1 461.6,1367.3 462.0,1370.4 462.5,1369.1 462.9,1373.2 463.3,1370.9 463.8,1371.6 464.2,1371.9 464.7,1373.8 465.1,1371.0 465.5,1370.8 466.0,1371.3 466.4,1370.8 466.8,1373.0 467.3,1370.5 467.7,1372.7 468.1,1370.7 468.6,1374.2 469.0,1372.4 469.4,1395.0 469.9,1395.0 470.3,1371.4 470.7,1375.6 471.2,1378.0 471.6,1374.2 472.0,1372.2 472.5,1373.6 472.9,1372.3 473.3,1372.8 473.8,1376.4 474.2,1378.2 474.6,1379.5 475.1,1378.3 475.5,1376.0 475.9,1374.2 476.4,1380.8 476.8,1375.2 477.3,1375.8 477.7,1376.5 478.1,1380.7 478.6,1381.4 479.0,1376.8 479.4,1377.6 479.9,1379.7 480.3,1380.1 480.7,1382.5 481.2,1376.0 481.6,1377.3 482.0,1376.5 482.5,1377.8 482.9,1380.5 483.3,1378.0 483.8,1382.7 484.2,1379.6 484.6,1382.8 485.1,1381.9 485.5,1378.8 485.9,1382.1 486.4,1379.0 486.8,1381.2 487.2,1383.5 487.7,1383.9 488.1,1385.9 488.5,1382.1 489.0,1380.5 489.4,1384.9 489.9,1383.3 490.3,1380.0 490.7,1384.2 491.2,1380.7 491.6,1381.6 492.0,1384.0 492.5,1383.2 492.9,1387.2 493.3,1384.2 493.8,1382.7 494.2,1386.5 494.6,1387.8 495.1,1388.1 495.5,1387.3 495.9,1386.9 496.4,1383.1 496.8,1385.6 497.2,1385.2 497.7,1386.8 498.1,1387.0 498.5,1385.4 499.0,1384.2 499.4,1388.2 499.8,1386.6 500.3,1385.3 500.7,1383.2 501.1,1388.0 501.6,1387.3 502.0,1386.2 502.5,1389.2 502.9,1386.1 503.3,1383.8 503.8,1388.6 504.2,1387.3 504.6,1389.9 505.1,1387.3 505.5,1384.3 505.9,1387.3 506.4,1389.6 506.8,1389.0 507.2,1387.0 507.7,1385.6 508.1,1388.4 508.5,1388.2 509.0,1386.2 509.4,1391.0 509.8,1385.5 510.3,1388.8 510.7,1389.7 511.1,1386.9 511.6,1390.4 512.0,1391.2 512.4,1390.6 512.9,1387.9 513.3,1391.8 513.7,1389.6 514.2,1391.1 514.6,1389.1 515.1,1391.9 515.5,1387.8 515.9,1386.9 516.4,1390.9 516.8,1390.8 517.2,1389.3 517.7,1388.4 518.1,1392.9 518.5,1389.0 519.0,1388.2 519.4,1388.4 519.8,1390.8 520.3,1388.4 520.7,1390.2 521.1,1392.6 521.6,1392.1 522.0,1390.2 522.4,1390.5 522.9,1389.0 523.3,1389.6 523.7,1392.9 524.2,1391.8 524.6,1389.4 525.0,1391.5 525.5,1393.1 525.9,1388.6 526.3,1391.8 526.8,1392.8 527.2,1391.6 527.7,1384.0 528.1,1384.0 528.5,1384.0 529.0,1384.0 529.4,1384.0 529.8,1384.0 530.3,1384.0 530.7,1384.0 531.1,1384.0 531.6,1384.0 532.0,1384.0 532.4,1384.0 532.9,1384.0 533.3,1384.0 533.7,1384.0 534.2,1384.0 534.6,1384.0 535.0,1384.0 535.5,1384.0 535.9,1384.0 536.3,1392.7 536.8,1394.5 537.2,1391.6 537.6,1393.4 538.1,1394.0 538.5,1392.3 539.0,1393.1 539.4,1395.3 539.8,1394.0 540.3,1390.7 540.7,1391.7 541.1,1393.6 541.6,1392.7 542.0,1396.0 542.4,1394.3 542.9,1391.4 543.3,1395.8 543.7,1391.0 544.2,1391.9 544.6,1392.9 545.0,1394.9 545.5,1396.7 545.9,1395.5 546.3,1392.8 546.8,1394.8 547.2,1392.5 547.6,1396.2 548.1,1390.6 548.5,1390.6 548.9,1390.6 549.4,1390.6 549.8,1390.6 550.2,1390.6 550.7,1390.6 551.1,1390.6 551.6,1390.6 552.0,1390.6 552.4,1390.6 552.9,1390.6 553.3,1390.6 553.7,1390.6 554.2,1390.6 554.6,1390.6 555.0,1390.6 555.5,1390.6 555.9,1390.6 556.3,1390.6 556.8,1390.6 557.2,1390.6 557.6,1390.6 558.1,1390.6 558.5,1390.6 558.9,1390.6 559.4,1390.6 559.8,1390.6 560.2,1390.6 560.7,1390.6 561.1,1390.6 561.5,1395.8 562.0,1396.7 562.4,1394.2 562.8,1397.4 563.3,1396.7 563.7,1398.4 564.2,1396.2 564.6,1393.6 565.0,1397.7 565.5,1394.6 565.9,1398.3 566.3,1394.2 566.8,1396.4 567.2,1398.7 567.6,1394.9 568.1,1394.3 568.5,1398.7 568.9,1398.9 569.4,1398.1 569.8,1396.7 570.2,1394.2 570.7,1394.7 571.1,1397.9 571.5,1399.6 572.0,1396.4 572.4,1396.5 572.8,1398.5 573.3,1396.5 573.7,1394.3 574.1,1390.0 574.6,1390.0 575.0,1390.0 575.4,1390.0 575.9,1390.0 576.3,1390.0 576.8,1390.0 577.2,1390.0 577.6,1390.0 578.1,1390.0 578.5,1390.0 578.9,1390.0 579.4,1390.0 579.8,1390.0 580.2,1390.0 580.7,1390.0 581.1,1390.0 581.5,1390.0 582.0,1399.5 582.4,1399.8 582.8,1395.1 583.3,1399.0 583.7,1397.9 584.1,1395.6 584.6,1399.1 585.0,1398.8 585.4,1397.7 585.9,1400.5 586.3,1400.8 586.7,1397.4 587.2,1398.9 587.6,1400.5 588.0,1399.4 588.5,1397.2 588.9,1396.9 589.4,1398.3 589.8,1399.9 590.2,1396.5 590.7,1400.0 591.1,1397.0 591.5,1400.4 592.0,1396.1 592.4,1397.1 592.8,1398.6 593.3,1399.0 593.7,1398.2 594.1,1397.8 594.6,1398.4 595.0,1397.7 595.4,1401.0 595.9,1399.2 596.3,1397.5 596.7,1399.2 597.2,1396.3 597.6,1398.7 598.0,1400.0 598.5,1396.9 598.9,1399.4 599.3,1398.8 599.8,1398.3 600.2,1397.2 600.6,1400.7 601.1,1397.1 601.5,1398.8 602.0,1399.9 602.4,1400.1 602.8,1396.7 603.3,1396.9 603.7,1399.1 604.1,1400.2 604.6,1396.8 604.7,1401.9 604.8,1401.8 604.9,1399.5 605.0,1398.9 605.1,1402.0 605.2,1401.1 605.3,1401.6 605.4,1400.8 605.5,1401.1 605.6,1401.4 605.8,1401.4 605.9,1400.1 606.0,1401.4 606.1,1398.0 606.2,1400.0 606.3,1401.5 606.4,1398.7 606.5,1398.0 606.6,1400.2 606.7,1402.1 606.8,1398.7 606.9,1398.2 607.1,1397.5 607.2,1398.4 607.3,1399.0 607.4,1400.4 607.5,1400.9 607.6,1401.9 607.7,1397.9 607.8,1399.3 607.9,1400.7 608.0,1401.6 608.1,1400.7 608.3,1398.2 608.4,1401.1 608.5,1402.0 608.6,1400.2 608.7,1400.5 608.8,1398.6 608.9,1399.3 609.0,1399.8 609.1,1397.1 609.2,1397.8 609.3,1401.6 609.4,1401.0 609.6,1400.1 609.7,1401.9 609.8,1398.3 609.9,1398.3 610.0,1400.8 610.1,1397.6 610.2,1399.4 610.3,1401.2 610.4,1399.1 610.5,1398.8 610.6,1398.6 610.8,1397.3 610.9,1397.6 611.0,1400.2 611.1,1400.1 611.2,1402.3 611.3,1400.2 611.4,1401.5 611.5,1401.8 611.6,1398.2 611.7,1402.3 611.8,1401.7 611.9,1397.9 612.1,1397.2 612.2,1396.4 612.3,1392.6 612.4,1393.3 612.5,1390.5 612.6,1385.0 612.7,1381.7 612.8,1370.4 612.9,1355.4 613.0,1328.7 613.1,1246.1 613.2,-779.7 613.4,1248.5 613.5,1328.2 613.6,1355.9 613.7,1370.9 613.8,1378.8 613.9,1386.3 614.0,1390.2 614.1,1394.2 614.2,1392.1 614.3,1397.2 614.4,1395.0 614.6,1401.4 614.7,1398.3 614.8,1399.8 614.9,1402.4 615.0,1399.1 615.1,1399.0 615.2,1399.0 615.3,1399.0 615.4,1399.1 615.5,1398.6 615.6,1400.7 615.7,1397.7 615.9,1400.1 616.0,1401.3 616.1,1397.5 616.2,1401.2 616.3,1400.4 616.4,1399.1 616.5,1398.5 616.6,1401.0 616.7,1402.5 616.8,1399.7 616.9,1399.6 617.1,1398.9 617.2,1401.4 617.3,1398.5 617.4,1398.7 617.5,1398.3 617.6,1398.8 617.7,1399.3 617.8,1399.9 617.9,1398.3 618.0,1401.6 618.1,1399.3 618.2,1398.7 618.4,1398.8 618.5,1402.1 618.6,1401.2 618.7,1398.0 618.8,1398.8 618.9,1402.0 619.0,1400.3 619.1,1398.6 619.2,1398.4 619.3,1400.1 619.4,1402.3 619.6,1401.7 619.7,1402.7 619.8,1402.0 619.9,1402.5 620.0,1399.2 620.1,1399.2 620.2,1400.6 620.3,1398.3 620.4,1402.1 620.5,1401.9 620.6,1399.7 620.7,1400.2 620.9,1402.3 621.0,1398.2 621.1,1399.7 621.2,1399.8 621.3,1401.0 621.4,1399.8 621.5,1402.6 621.6,1401.4 621.7,1399.7 621.8,1399.9 621.9,1400.2 622.4,1402.7 622.8,1401.3 623.2,1398.0 623.7,1398.2 624.1,1398.9 624.5,1402.8 625.0,1402.7 625.4,1402.0 625.9,1398.9 626.3,1402.1 626.7,1402.0 627.2,1401.9 627.6,1399.5 628.0,1400.6 628.5,1398.9 628.9,1402.9 629.3,1403.0 629.8,1399.0 630.2,1402.8 630.6,1399.7 631.1,1400.3 631.5,1402.4 631.9,1402.1 632.4,1399.7 632.8,1403.4 633.2,1398.6 633.7,1403.3 634.1,1402.7 634.5,1400.3 635.0,1403.0 635.4,1398.5 635.8,1401.4 636.3,1403.3 636.7,1402.8 637.1,1400.9 637.6,1399.3 638.0,1402.4 638.5,1401.7 638.9,1400.9 639.3,1400.5 639.8,1400.1 640.2,1402.2 640.6,1402.0 641.1,1399.4 641.5,1399.3 641.9,1401.8 642.4,1398.9 642.8,1403.0 643.2,1399.8 643.7,1399.4 644.1,1401.1 644.5,1400.5 645.0,1403.7 645.4,1399.8 645.8,1400.6 646.3,1401.2 646.7,1401.2 647.1,1403.3 647.6,1399.9 648.0,1401.5 648.4,1401.1 648.9,1403.3 649.3,1401.1 649.7,1403.0 650.2,1400.4 650.6,1404.1 651.1,1403.6 651.5,1403.2 651.9,1402.3 652.4,1400.0 652.8,1404.3 653.2,1401.6 653.7,1404.2 654.1,1402.5 654.5,1402.9 655.0,1403.6 655.4,1402.0 655.8,1402.7 656.3,1403.2 656.7,1401.4 657.1,1403.3 657.6,1399.7 658.0,1403.3 658.4,1399.7 658.9,1403.7 659.3,1399.9 659.7,1404.3 660.2,1404.5 660.6,1404.1 661.0,1401.2 661.5,1403.5 661.9,1403.3 662.3,1401.4 662.8,1404.5 663.2,1402.1 663.7,1402.8 664.1,1403.9 664.5,1400.3 665.0,1403.0 665.4,1403.3 665.8,1401.4 666.3,1400.6 666.7,1403.7 667.1,1404.2 667.6,1400.2 668.0,1402.8 668.4,1402.3 668.9,1402.7 669.3,1400.9 669.7,1402.8 670.2,1401.3 670.6,1402.4 671.0,1404.6 671.5,1402.5 671.9,1400.9 672.3,1402.4 672.8,1403.1 673.2,1404.9 673.6,1401.7 674.1,1403.2 674.5,1403.5 674.9,1403.3 675.4,1403.1 675.8,1403.5 676.3,1403.7 676.7,1402.9 677.1,1404.9 677.6,1404.1 678.0,1403.1 678.4,1401.0 678.9,1403.2 679.3,1402.6 679.7,1401.0 680.2,1401.4 680.6,1401.9 681.0,1402.3 681.5,1402.5 681.9,1394.4 682.3,1394.4 682.8,1394.4 683.2,1394.4 683.6,1394.4 684.1,1394.4 684.5,1394.4 684.9,1394.4 685.4,1394.4 685.8,1394.4 686.2,1394.4 686.7,1394.4 687.1,1394.4 687.5,1394.4 688.0,1394.4 688.4,1394.4 688.9,1394.4 689.3,1394.4 689.7,1394.4 690.2,1394.4 690.6,1403.5 691.0,1401.7 691.5,1402.4 691.9,1401.7 692.3,1401.5 692.8,1401.9 693.2,1404.9 693.6,1403.0 694.1,1401.9 694.5,1401.9 694.9,1401.2 695.4,1403.6 695.8,1405.5 696.2,1402.2 696.7,1404.3 697.1,1402.5 697.5,1405.3 698.0,1403.9 698.4,1402.6 698.8,1405.0 699.3,1404.1 699.7,1404.9 700.1,1401.4 700.6,1402.0 701.0,1402.6 701.5,1403.2 701.9,1401.1 702.3,1404.4 702.8,1402.3 703.2,1405.2 703.6,1402.7 704.1,1404.7 704.5,1405.6 704.9,1401.4 705.4,1404.3 705.8,1401.1 706.2,1402.5 706.7,1402.5 707.1,1402.5 707.5,1401.1 708.0,1404.6 708.4,1401.1 708.8,1404.2 709.3,1405.2 709.7,1401.4 710.1,1405.2 710.6,1403.5 711.0,1401.9 711.4,1404.4 711.9,1402.4 712.3,1402.7 712.8,1402.5 713.2,1405.0 713.6,1402.5 714.1,1401.9 714.5,1405.1 714.9,1401.3 715.4,1401.4 715.8,1404.3 716.2,1401.4 716.7,1401.5 717.1,1405.2 717.5,1402.3 718.0,1401.4 718.4,1402.0 718.8,1405.1 719.3,1403.9 719.7,1403.2 720.1,1404.1 720.6,1404.0 721.0,1405.3 721.4,1405.7 721.9,1404.4 722.3,1403.8 722.7,1403.2 723.2,1401.5 723.6,1405.4 724.0,1404.2 724.5,1401.9 724.9,1402.1 725.4,1405.3 725.8,1402.8 726.2,1405.4 726.7,1401.6 727.1,1404.6 727.5,1403.1 728.0,1403.7 728.4,1403.5 728.8,1404.8 729.3,1404.2 729.7,1404.6 730.1,1403.1 730.6,1403.9 731.0,1403.2 731.4,1403.4 731.9,1402.9 732.3,1401.5 732.7,1403.5 733.2,1403.4 733.6,1403.1 734.0,1403.4 734.5,1404.0 734.9,1404.8 735.3,1403.5 735.8,1404.8 736.2,1403.0 736.6,1402.0 737.1,1402.3 737.5,1402.4 738.0,1404.9 738.4,1405.7 738.8,1405.0 739.3,1403.4 739.7,1405.3 740.1,1405.4 740.6,1401.5 741.0,1404.3 741.4,1405.6 741.9,1403.7 742.3,1402.9 742.7,1403.9 743.2,1405.3 743.6,1403.7 744.0,1405.6 744.5,1402.7 744.9,1401.8 745.3,1405.7 745.8,1403.4 746.2,1402.3 746.6,1403.1 747.1,1405.3 747.5,1405.6 747.9,1404.0 748.4,1405.7 748.8,1402.3 749.2,1403.7 749.7,1404.6 750.1,1402.6 750.6,1405.0 751.0,1403.7 751.4,1403.8 751.9,1405.5 752.3,1402.5 752.7,1403.0 753.2,1405.1 753.6,1404.1 754.0,1404.6 754.5,1401.9 754.9,1403.1 755.3,1401.9 755.8,1402.7 756.2,1402.6 756.6,1404.7 757.1,1402.4 757.5,1404.6 757.9,1402.5 758.4,1403.0 758.8,1403.8 759.2,1405.3 759.7,1403.4 760.1,1403.3 760.5,1403.1 761.0,1405.7 761.4,1404.9 761.8,1403.6 762.3,1402.4 762.7,1405.0 763.2,1402.2 763.6,1401.9 764.0,1405.6 764.5,1403.0 764.9,1404.3 765.3,1405.4 765.8,1405.1 766.2,1404.5 766.6,1406.0 767.1,1403.1 767.5,1404.1 767.9,1404.6 768.4,1402.4 768.8,1402.0 769.2,1404.1 769.7,1404.7 770.1,1403.5 770.5,1404.4 771.0,1402.3 771.4,1404.9 771.8,1405.5 772.3,1406.0 772.7,1405.4 773.1,1405.7 773.6,1402.3 774.0,1403.2 774.4,1403.7 774.9,1402.1 775.3,1403.5 775.8,1403.2 776.2,1405.4 776.6,1404.9 777.1,1403.5 777.5,1402.6 777.9,1404.9 778.4,1404.2 778.8,1404.9 779.2,1404.9 779.7,1403.7 780.1,1402.3 780.5,1402.1 781.0,1403.8 781.4,1406.0 781.8,1405.0 782.3,1403.4 782.7,1402.3 783.1,1405.5 783.6,1402.7 784.0,1402.5 784.4,1405.8 784.9,1402.4 785.3,1403.7 785.7,1402.7 786.2,1403.4 786.6,1403.4 787.0,1402.6 787.5,1403.0 787.9,1404.5 788.4,1404.6 788.8,1402.2 789.2,1405.1 789.7,1404.6 790.1,1405.6 790.5,1404.8 791.0,1403.8 791.4,1405.4 791.8,1404.4 792.3,1403.7 792.7,1404.6 793.1,1403.1 793.6,1404.1 794.0,1404.9 794.4,1403.3 794.9,1403.9 795.3,1404.4 795.7,1405.5 796.2,1402.2 796.6,1405.5 797.0,1404.6 797.5,1403.8 797.9,1402.5 798.3,1405.0 798.8,1405.7 799.2,1403.4 799.7,1402.4 800.1,1404.4 800.5,1402.2 801.0,1404.9 801.4,1402.7 801.8,1406.2 802.3,1403.5 802.7,1402.7 803.1,1405.1 803.6,1402.9 804.0,1403.8 804.4,1405.0 804.9,1406.1 805.3,1403.6 805.7,1404.7 806.2,1404.1 806.6,1405.5 807.0,1406.2 807.5,1405.9 807.9,1403.7 808.3,1405.7 808.8,1405.1 809.2,1403.9 809.6,1405.2 810.1,1404.4 810.5,1404.6 810.9,1403.2 811.4,1404.7 811.8,1405.2 812.3,1402.4 812.7,1405.6 813.1,1403.8 813.6,1403.8 814.0,1404.9 814.4,1403.4 814.9,1403.1 815.3,1404.0 815.7,1404.3 816.2,1404.9 816.6,1401.6 817.0,1400.9 817.5,1403.3 817.9,1402.8 818.3,1401.2 818.8,1400.3 819.2,1399.6 819.6,1399.4 820.1,1399.2 820.5,1398.9 820.9,1400.7 821.4,1398.2 821.8,1396.6 821.9,1398.0 822.0,1398.0 822.1,1397.2 822.2,1396.5 822.4,1398.3 822.5,1395.2 822.6,1395.2 822.7,1396.8 822.8,1396.5 822.9,1396.5 823.0,1395.4 823.1,1393.0 823.2,1394.9 823.3,1392.6 823.4,1395.2 823.5,1394.7 823.7,1393.3 823.8,1394.4 823.9,1394.2 824.0,1391.8 824.1,1392.7 824.2,1390.9 824.3,1392.4 824.4,1391.7 824.5,1389.1 824.6,1389.9 824.7,1391.2 824.9,1389.6 825.0,1390.4 825.1,1390.0 825.2,1387.6 825.3,1388.9 825.4,1387.9 825.5,1387.9 825.6,1387.2 825.7,1385.3 825.8,1385.7 825.9,1384.5 826.0,1383.3 826.2,1383.5 826.3,1383.0 826.4,1382.1 826.5,1378.2 826.6,1379.6 826.7,1378.2 826.8,1376.1 826.9,1374.9 827.0,1374.1 827.1,1372.1 827.2,1372.2 827.3,1372.2 827.5,1369.0 827.6,1368.0 827.7,1364.9 827.8,1365.3 827.9,1361.6 828.0,1361.9 828.1,1358.1 828.2,1355.7 828.3,1353.8 828.4,1347.8 828.5,1344.3 828.7,1342.5 828.8,1336.3 828.9,1330.6 829.0,1326.1 829.1,1320.3 829.2,1311.3 829.3,1303.3 829.4,1291.7 829.5,1277.9 829.6,1262.6 829.7,1239.6 829.8,1211.5 830.0,1171.0 830.1,1111.9 830.2,1009.7 830.3,811.0 830.4,206.9 830.5,-779.7 830.6,208.7 830.7,808.5 830.8,1010.4 830.9,1112.7 831.0,1170.0 831.2,1210.8 831.3,1238.7 831.4,1261.1 831.5,1278.5 831.6,1290.8 831.7,1303.4 831.8,1312.3 831.9,1320.3 832.0,1327.0 832.1,1330.4 832.2,1337.1 832.3,1341.5 832.5,1346.0 832.6,1349.7 832.7,1353.2 832.8,1353.4 832.9,1356.8 833.0,1360.2 833.1,1361.9 833.2,1363.0 833.3,1366.6 833.4,1368.7 833.5,1369.5 833.7,1371.1 833.8,1371.1 833.9,1372.1 834.0,1373.5 834.1,1375.2 834.2,1376.9 834.3,1379.3 834.4,1377.4 834.5,1378.6 834.6,1380.7 834.7,1380.6 834.8,1380.8 835.0,1383.8 835.1,1383.5 835.2,1382.7 835.3,1386.1 835.4,1387.0 835.5,1384.6 835.6,1385.4 835.7,1389.1 835.8,1387.6 835.9,1387.8 836.0,1388.0 836.1,1388.9 836.3,1389.5 836.4,1389.8 836.5,1390.1 836.6,1392.5 836.7,1392.6 836.8,1392.5 836.9,1390.4 837.0,1392.5 837.1,1392.3 837.2,1391.3 837.3,1394.9 837.5,1394.8 837.6,1394.8 837.7,1392.6 837.8,1393.7 837.9,1396.2 838.0,1396.6 838.1,1396.5 838.2,1393.9 838.3,1396.1 838.4,1394.6 838.5,1394.9 838.6,1394.7 838.8,1396.5 838.9,1397.7 839.0,1397.0 839.1,1395.8 839.2,1395.7 839.6,1398.5 840.1,1398.8 840.5,1398.3 840.9,1400.3 841.4,1401.4 841.8,1401.7 842.2,1401.4 842.7,1402.7 843.1,1401.1 843.5,1401.8 844.0,1401.1 844.4,1402.2 844.8,1403.5 845.3,1404.8 845.7,1404.9 846.1,1402.7 846.6,1403.8 847.0,1406.0 847.4,1404.6 847.9,1403.6 848.3,1403.4 848.7,1403.3 849.2,1403.0 849.6,1404.6 850.1,1404.0 850.5,1406.2 850.9,1404.0 851.4,1404.5 851.8,1405.7 852.2,1405.5 852.7,1403.8 853.1,1405.6 853.5,1405.2 854.0,1405.1 854.4,1403.6 854.8,1405.8 855.3,1406.2 855.7,1405.8 856.1,1403.8 856.6,1406.3 857.0,1404.4 857.4,1404.6 857.9,1405.1 858.3,1405.2 858.7,1404.5 859.2,1406.3 859.6,1405.3 860.0,1405.0 860.5,1406.0 860.9,1404.6 861.3,1405.4 861.8,1406.3 862.2,1406.0 862.7,1405.3 863.1,1404.1 863.5,1403.6 864.0,1404.7 864.4,1406.4 864.8,1404.3 865.3,1403.2 865.7,1406.4 866.1,1405.3 866.6,1406.5 867.0,1404.4 867.4,1406.2 867.9,1403.1 868.3,1405.1 868.7,1404.3 869.2,1405.4 869.6,1405.3 870.0,1406.5 870.5,1403.4 870.9,1405.6 871.3,1405.7 871.8,1405.3 872.2,1405.9 872.6,1405.4 873.1,1405.6 873.5,1403.0 873.9,1403.4 874.4,1405.6 874.8,1403.5 875.3,1406.5 875.7,1404.5 876.1,1403.4 876.6,1405.8 877.0,1406.0 877.4,1403.7 877.9,1404.2 878.3,1403.0 878.7,1406.0 879.2,1406.1 879.6,1406.4 880.0,1405.4 880.5,1406.5 880.9,1404.4 881.3,1406.3 881.8,1405.0 882.2,1404.8 882.6,1406.3 883.1,1404.1 883.5,1403.0 883.9,1405.2 884.4,1404.8 884.8,1405.3 885.2,1403.1 885.7,1403.6 886.1,1403.1 886.6,1405.3 887.0,1405.5 887.4,1406.6 887.9,1406.4 888.3,1403.2 888.7,1404.6 889.2,1405.1 889.6,1406.2 890.0,1403.3 890.5,1406.6 890.9,1404.4 891.3,1404.6 891.8,1404.1 892.2,1404.1 892.6,1404.4 893.1,1404.8 893.5,1405.3 893.9,1403.9 894.4,1406.4 894.8,1405.8 895.2,1404.0 895.7,1403.7 896.1,1404.5 896.5,1406.7 897.0,1403.9 897.4,1403.4 897.8,1405.2 898.3,1405.5 898.7,1405.7 899.2,1404.7 899.6,1406.3 900.0,1406.5 900.5,1403.4 900.9,1405.2 901.3,1405.1 901.8,1405.9 902.2,1406.8 902.6,1406.8 903.1,1406.8 903.5,1404.5 903.9,1404.2 904.4,1403.6 904.8,1403.5 905.2,1406.5 905.7,1407.0 906.1,1404.6 906.5,1406.0 907.0,1403.8 907.4,1405.3 907.8,1405.5 908.3,1405.6 908.7,1406.0 909.1,1405.1 909.6,1406.5 910.0,1403.6 910.4,1404.3 910.9,1404.1 911.3,1403.8 911.8,1404.7 912.2,1404.0 912.6,1404.6 913.1,1405.5 913.5,1407.1 913.9,1405.4 914.4,1405.3 914.8,1404.6 915.2,1404.1 915.7,1405.0 916.1,1407.0 916.5,1406.9 917.0,1404.2 917.4,1404.1 917.8,1405.9 918.3,1407.1 918.7,1406.9 919.1,1406.9 919.6,1404.1 920.0,1405.9 920.4,1405.7 920.9,1404.4 921.3,1406.5 921.7,1405.5 922.2,1405.3 922.6,1405.9 923.0,1407.0 923.5,1405.9 923.9,1407.0 924.4,1406.3 924.8,1406.0 925.2,1406.8 925.7,1403.9 926.1,1405.0 926.5,1404.2 927.0,1404.2 927.4,1406.5 927.8,1407.0 928.3,1404.0 928.7,1405.7 929.1,1405.1 929.6,1404.5 930.0,1406.3 930.4,1405.4 930.9,1406.5 931.3,1406.8 931.7,1407.4 932.2,1406.7 932.6,1406.7 933.0,1404.9 933.5,1405.8 933.9,1404.9 934.3,1406.6 934.8,1406.9 935.2,1405.6 935.6,1406.7 936.1,1405.0 936.5,1406.3 937.0,1406.7 937.4,1405.0 937.8,1407.0 938.3,1405.1 938.7,1406.3 939.1,1407.4 939.6,1405.5 940.0,1405.6 940.4,1407.3 940.9,1406.1 941.3,1406.1 941.7,1405.2 942.2,1407.0 942.6,1405.8 943.0,1404.3 943.5,1407.7 943.9,1405.3 944.3,1406.5 944.8,1406.1 945.2,1406.8 945.6,1406.2 946.1,1406.1 946.5,1404.6 946.9,1404.8 947.4,1404.6 947.8,1404.5 948.2,1406.5 948.7,1405.1 949.1,1404.8 949.6,1407.4 950.0,1405.3 950.4,1405.9 950.9,1407.2 951.3,1405.7 951.7,1405.5 952.2,1405.6 952.6,1407.9 953.0,1404.7 953.5,1406.7 953.9,1405.1 954.3,1407.4 954.8,1405.9 955.2,1407.7 955.6,1406.0 956.1,1405.7 956.5,1406.6 956.9,1405.5 957.4,1406.3 957.8,1407.8 958.2,1407.9 958.7,1407.8 959.1,1406.8 959.5,1404.8 960.0,1406.9 960.4,1405.2 960.8,1405.8 961.3,1405.6 961.7,1405.8 962.2,1407.4 962.6,1405.1 963.0,1406.6 963.5,1404.9 963.9,1408.0 964.3,1407.7 964.8,1407.6 965.2,1405.6 965.6,1407.7 966.1,1406.6 966.5,1406.4 966.9,1406.4 967.4,1407.1 967.8,1405.1 968.2,1406.6 968.7,1407.6 969.1,1406.3 969.5,1407.8 970.0,1405.9 970.4,1407.6 970.8,1405.1 971.3,1407.9 971.7,1407.1 972.1,1407.5 972.6,1406.3 973.0,1406.8 973.5,1406.7 973.9,1406.7 974.3,1406.2 974.8,1407.4 975.2,1407.2 975.6,1407.4 976.1,1407.8 976.5,1406.2 976.9,1405.1 977.4,1405.2 977.8,1405.0 978.2,1407.9 978.7,1405.9 979.1,1408.1 979.5,1405.6 980.0,1405.5 980.4,1406.7 980.8,1405.0 981.3,1406.8 981.7,1406.5 982.1,1407.2 982.6,1405.6 983.0,1406.5 983.4,1406.7 983.9,1407.0 984.3,1405.8 984.7,1408.2 985.2,1406.3 985.6,1408.2 986.1,1407.7 986.5,1408.3 986.9,1406.7 987.4,1405.3 987.8,1407.7 988.2,1408.1 988.7,1406.7 989.1,1408.4 989.5,1407.3 990.0,1407.0 990.4,1408.2 990.8,1405.5 991.3,1407.2 991.7,1406.5 992.1,1408.1 992.6,1405.3 993.0,1407.9 993.4,1407.0 993.9,1408.2 994.3,1408.0 994.7,1408.1 995.2,1407.3 995.6,1408.3 996.0,1407.0 996.5,1406.7 996.9,1407.9 997.3,1406.0 997.8,1408.3 998.2,1406.7 998.7,1405.9 999.1,1406.6 999.5,1408.6 1000.0,1408.4 1000.4,1408.5 1000.8,1408.2 1001.3,1406.9 1001.7,1405.5 1002.1,1407.4 1002.6,1406.0 1003.0,1407.8 1003.4,1405.4 1003.9,1407.4 1004.3,1408.0 1004.7,1408.1 1005.2,1408.3 1005.6,1408.4 1006.0,1405.6 1006.5,1406.3 1006.9,1408.3 1007.3,1406.7 1007.8,1407.2 1008.2,1408.5 1008.6,1405.5 1009.1,1408.0 1009.5,1406.9 1009.9,1407.6 1010.4,1407.2 1010.8,1405.5 1011.3,1406.3 1011.7,1408.0 1012.1,1406.5 1012.6,1407.3 1013.0,1408.1 1013.4,1407.0 1013.9,1408.1 1014.3,1406.2 1014.7,1407.9 1015.2,1408.6 1015.6,1406.1 1016.0,1408.4 1016.5,1406.6 1016.9,1406.1 1017.3,1406.6 1017.8,1405.8 1018.2,1408.1 1018.6,1407.7 1019.1,1406.9 1019.5,1408.6 1019.9,1405.8 1020.4,1406.8 1020.8,1406.8 1021.2,1407.1 1021.7,1407.4 1022.1,1408.4 1022.5,1408.7 1023.0,1408.2 1023.4,1409.0 1023.9,1407.0 1024.3,1408.5 1024.7,1406.1 1025.2,1408.7 1025.6,1408.1 1026.0,1406.3 1026.5,1407.1 1026.9,1407.8 1027.3,1406.8 1027.8,1407.8 1028.2,1408.6 1028.6,1406.0 1029.1,1406.3 1029.5,1406.8 1029.9,1408.3 1030.4,1407.6 1030.8,1408.9 1031.2,1409.1 1031.7,1406.2 1032.1,1407.9 1032.5,1408.5 1033.0,1406.7 1033.4,1407.6 1033.8,1407.1 1034.3,1408.9 1034.7,1407.8 1035.1,1408.0 1035.6,1408.3 1036.0,1408.5 1036.5,1406.0 1036.9,1406.2 1037.3,1406.6 1037.8,1407.3 1038.2,1405.8 1038.6,1406.3 1039.1,1407.3 1039.2,1405.2 1039.3,1404.9 1039.4,1403.9 1039.5,1404.2 1039.6,1406.6 1039.7,1405.7 1039.8,1406.5 1039.9,1406.3 1040.0,1404.9 1040.1,1405.6 1040.3,1406.0 1040.4,1404.0 1040.5,1403.0 1040.6,1403.1 1040.7,1405.5 1040.8,1404.6 1040.9,1405.3 1041.0,1403.9 1041.1,1402.1 1041.2,1404.4 1041.3,1402.5 1041.4,1403.1 1041.6,1402.8 1041.7,1401.6 1041.8,1403.1 1041.9,1402.9 1042.0,1401.4 1042.1,1403.1 1042.2,1403.0 1042.3,1401.8 1042.4,1401.7 1042.5,1401.7 1042.6,1401.6 1042.8,1399.4 1042.9,1400.6 1043.0,1400.7 1043.1,1398.8 1043.2,1398.3 1043.3,1398.5 1043.4,1397.3 1043.5,1399.7 1043.6,1398.2 1043.7,1396.7 1043.8,1395.8 1043.9,1397.8 1044.1,1395.6 1044.2,1396.8 1044.3,1395.7 1044.4,1394.0 1044.5,1393.4 1044.6,1395.0 1044.7,1393.7 1044.8,1390.7 1044.9,1391.2 1045.0,1390.3 1045.1,1390.4 1045.3,1388.8 1045.4,1388.3 1045.5,1387.6 1045.6,1385.8 1045.7,1383.5 1045.8,1382.0 1045.9,1380.2 1046.0,1378.7 1046.1,1376.2 1046.2,1372.2 1046.3,1369.0 1046.4,1365.6 1046.6,1363.5 1046.7,1357.3 1046.8,1350.7 1046.9,1344.5 1047.0,1334.3 1047.1,1320.0 1047.2,1302.2 1047.3,1274.8 1047.4,1231.2 1047.5,1139.9 1047.6,863.9 1047.8,-779.7 1047.9,865.5 1048.0,1140.1 1048.1,1230.7 1048.2,1275.1 1048.3,1303.3 1048.4,1320.7 1048.5,1335.3 1048.6,1343.5 1048.7,1352.8 1048.8,1356.4 1048.9,1363.5 1049.1,1368.4 1049.2,1369.4 1049.3,1373.9 1049.4,1376.3 1049.5,1379.4 1049.6,1381.2 1049.7,1382.4 1049.8,1384.3 1049.9,1385.1 1050.0,1387.1 1050.1,1387.8 1050.2,1390.2 1050.4,1389.7 1050.5,1390.3 1050.6,1390.1 1050.7,1391.5 1050.8,1394.3 1050.9,1394.0 1051.0,1393.4 1051.1,1394.1 1051.2,1396.8 1051.3,1397.4 1051.4,1396.4 1051.6,1397.0 1051.7,1398.4 1051.8,1398.4 1051.9,1398.6 1052.0,1397.5 1052.1,1399.6 1052.2,1398.2 1052.3,1398.4 1052.4,1400.6 1052.5,1398.9 1052.6,1401.7 1052.7,1401.0 1052.9,1402.1 1053.0,1401.6 1053.1,1402.0 1053.2,1400.7 1053.3,1400.7 1053.4,1402.5 1053.5,1402.7 1053.6,1400.9 1053.7,1403.6 1053.8,1402.8 1053.9,1402.6 1054.1,1402.5 1054.2,1404.3 1054.3,1404.0 1054.4,1404.6 1054.5,1402.8 1054.6,1403.1 1054.7,1402.9 1054.8,1404.3 1054.9,1405.7 1055.0,1403.0 1055.1,1405.7 1055.2,1405.4 1055.4,1406.2 1055.5,1405.1 1055.6,1404.3 1055.7,1403.6 1055.8,1404.9 1055.9,1406.5 1056.0,1404.1 1056.1,1406.7 1056.2,1406.4 1056.3,1406.5 1056.4,1404.4 1056.9,1406.3 1057.3,1405.2 1057.7,1406.4 1058.2,1406.9 1058.6,1406.1 1059.0,1408.2 1059.5,1408.2 1059.9,1406.3 1060.4,1407.4 1060.8,1408.3 1061.2,1407.7 1061.7,1407.4 1062.1,1407.5 1062.5,1408.2 1063.0,1407.8 1063.4,1409.0 1063.8,1408.3 1064.3,1407.0 1064.7,1406.9 1065.1,1409.8 1065.6,1409.0 1066.0,1409.0 1066.4,1408.8 1066.9,1408.9 1067.3,1409.0 1067.7,1408.4 1068.2,1409.1 1068.6,1407.6 1069.0,1409.8 1069.5,1406.8 1069.9,1409.3 1070.3,1407.1 1070.8,1407.8 1071.2,1407.1 1071.6,1408.6 1072.1,1408.9 1072.5,1408.0 1073.0,1409.3 1073.4,1408.6 1073.8,1408.2 1074.3,1409.6 1074.7,1407.4 1075.1,1408.5 1075.6,1408.3 1076.0,1407.8 1076.4,1407.1 1076.9,1409.6 1077.3,1409.4 1077.7,1409.6 1078.2,1407.0 1078.6,1408.7 1079.0,1407.8 1079.5,1409.5 1079.9,1407.1 1080.3,1409.7 1080.8,1407.9 1081.2,1410.0 1081.6,1407.3 1082.1,1408.9 1082.5,1408.1 1082.9,1408.2 1083.4,1409.5 1083.8,1408.7 1084.2,1410.1 1084.7,1407.6 1085.1,1408.7 1085.6,1409.2 1086.0,1408.9 1086.4,1408.8 1086.9,1409.6 1087.3,1409.0 1087.7,1408.0 1088.2,1408.4 1088.6,1407.0 1089.0,1407.8 1089.5,1407.5 1089.9,1409.7 1090.3,1408.5 1090.8,1409.4 1091.2,1409.4 1091.6,1409.1 1092.1,1408.3 1092.5,1408.8 1092.9,1408.9 1093.4,1409.0 1093.8,1407.0 1094.2,1408.8 1094.7,1407.2 1095.1,1407.0 1095.5,1408.2 1096.0,1407.1 1096.4,1407.0 1096.8,1407.6 1097.3,1407.9 1097.7,1409.5 1098.2,1409.6 1098.6,1410.0 1099.0,1409.5 1099.5,1408.5 1099.9,1408.8 1100.3,1407.8 1100.8,1409.3 1101.2,1408.2 1101.6,1409.1 1102.1,1409.5 1102.5,1407.7 1102.9,1409.3 1103.4,1408.6 1103.8,1409.4 1104.2,1408.2 1104.7,1409.7 1105.1,1410.0 1105.5,1408.2 1106.0,1408.7 1106.4,1408.2 1106.8,1410.0 1107.3,1407.8 1107.7,1410.1 1108.1,1407.2 1108.6,1407.3 1109.0,1407.7 1109.4,1409.3 1109.9,1408.2 1110.3,1407.1 1110.8,1408.0 1111.2,1408.2 1111.6,1410.2 1112.1,1410.2 1112.5,1408.3 1112.9,1408.8 1113.4,1408.7 1113.8,1409.7 1114.2,1409.3 1114.7,1407.4 1115.1,1409.1 1115.5,1407.2 1116.0,1409.8 1116.4,1408.6 1116.8,1408.3 1117.3,1408.1 1117.7,1407.7 1118.1,1407.9 1118.6,1407.7 1119.0,1410.1 1119.4,1410.1 1119.9,1409.9 1120.3,1409.7 1120.7,1408.0 1121.2,1408.6 1121.6,1408.1 1122.0,1408.4 1122.5,1408.5 1122.9,1409.7 1123.4,1407.6 1123.8,1407.9 1124.2,1407.9 1124.7,1407.4 1125.1,1409.1 1125.5,1409.0 1126.0,1408.8 1126.4,1409.2 1126.8,1408.7 1127.3,1408.4 1127.7,1408.5 1128.1,1409.8 1128.6,1408.0 1129.0,1410.1 1129.4,1409.7 1129.9,1409.1 1130.3,1407.7 1130.7,1409.6 1131.2,1407.7 1131.6,1408.5 1132.0,1408.1 1132.5,1409.4 1132.9,1407.3 1133.3,1408.3 1133.8,1410.1 1134.2,1407.8 1134.7,1408.9 1135.1,1407.7 1135.5,1408.2 1136.0,1407.3 1136.4,1407.5 1136.8,1408.3 1137.3,1408.0 1137.7,1410.2 1138.1,1407.9 1138.6,1408.1 1139.0,1407.4 1139.4,1408.0 1139.9,1408.4 1140.3,1407.9 1140.7,1408.5 1141.2,1408.9 1141.6,1407.3 1142.0,1408.8 1142.5,1410.1 1142.9,1410.3 1143.3,1409.3 1143.8,1409.0 1144.2,1408.7 1144.6,1410.2 1145.1,1408.7 1145.5,1407.4 1145.9,1408.0 1146.4,1408.2 1146.8,1408.8 1147.3,1407.6 1147.7,1410.2 1148.1,1408.0 1148.6,1408.2 1149.0,1409.3 1149.4,1408.9 1149.9,1410.0 1150.3,1410.4 1150.7,1409.4 1151.2,1409.4 1151.6,1408.8 1152.0,1403.7 1152.5,1403.7 1152.9,1403.7 1153.3,1403.7 1153.8,1403.7 1154.2,1403.7 1154.6,1403.7 1155.1,1403.7 1155.5,1403.7 1155.9,1403.7 1156.4,1403.7 1156.8,1403.7 1157.2,1403.7 1157.7,1403.7 1158.1,1403.7 1158.5,1403.7 1159.0,1403.7 1159.4,1403.7 1159.9,1403.7 1160.3,1403.7 1160.7,1403.7 1161.2,1409.1 1161.6,1408.0 1162.0,1409.1 1162.5,1409.3 1162.9,1409.0 1163.3,1408.7 1163.8,1408.1 1164.2,1407.8 1164.6,1409.6 1165.1,1409.7 1165.5,1409.5 1165.9,1407.8 1166.4,1407.7 1166.8,1409.5 1167.2,1407.9 1167.7,1408.8 1168.1,1407.5 1168.5,1408.7 1169.0,1407.7 1169.4,1408.8 1169.8,1409.4 1170.3,1407.8 1170.7,1409.5 1171.1,1408.0 1171.6,1408.9 1172.0,1409.5 1172.5,1409.0 1172.9,1407.7 1173.3,1409.6 1173.8,1410.3 1174.2,1407.7 1174.6,1410.2 1175.1,1409.8 1175.5,1409.1 1175.9,1408.1 1176.4,1407.5 1176.8,1410.0 1177.2,1409.9 1177.7,1407.4 1178.1,1408.8 1178.5,1407.8 1179.0,1409.4 1179.4,1409.7 1179.8,1407.8 1180.3,1409.9 1180.7,1409.8 1181.1,1409.4 1181.6,1409.5 1182.0,1410.1 1182.4,1409.7 1182.9,1410.1 1183.3,1408.9 1183.7,1408.4 1184.2,1409.0 1184.6,1410.4 1185.1,1408.7 1185.5,1408.4 1185.9,1410.1 1186.4,1409.1 1186.8,1407.5 1187.2,1408.0 1187.7,1409.2 1188.1,1409.8 1188.5,1410.1 1189.0,1410.5 1189.4,1409.9 1189.8,1409.1 1190.3,1409.1 1190.7,1410.1 1191.1,1409.2 1191.6,1409.2 1192.0,1408.1 1192.4,1407.7 1192.9,1407.6 1193.3,1409.1 1193.7,1407.9 1194.2,1408.7 1194.6,1410.3 1195.0,1410.4 1195.5,1408.7 1195.9,1408.5 1196.3,1408.6 1196.8,1409.1 1197.2,1408.8 1197.7,1408.6 1198.1,1408.4 1198.5,1410.2 1199.0,1409.2 1199.4,1409.6 1199.8,1409.1 1200.3,1409.4 1200.7,1410.5 1201.1,1408.2 1201.6,1409.0 1202.0,1407.9 1202.4,1410.6 1202.9,1410.4 1203.3,1410.3 1203.7,1407.9 1204.2,1409.1 1204.6,1408.3 1205.0,1410.5 1205.5,1408.3 1205.9,1410.5 1206.3,1407.8 1206.8,1409.1 1207.2,1407.7 1207.6,1408.7 1208.1,1408.8 1208.5,1410.2 1208.9,1408.7 1209.4,1408.3 1209.8,1408.8 1210.3,1408.5 1210.7,1407.9 1211.1,1408.5 1211.6,1408.7 1212.0,1409.1 1212.4,1409.3 1212.9,1408.5 1213.3,1408.1 1213.7,1408.4 1214.2,1410.4 1214.6,1409.9 1215.0,1408.8 1215.5,1408.9 1215.9,1407.8 1216.3,1407.6 1216.8,1407.9 1217.2,1408.8 1217.6,1408.5 1218.1,1408.1 1218.5,1410.3 1218.9,1409.8 1219.4,1410.7 1219.8,1408.8 1220.2,1407.8 1220.7,1410.8 1221.1,1410.4 1221.5,1410.1 1222.0,1408.3 1222.4,1409.6 1222.9,1410.2 1223.3,1409.6 1223.7,1410.0 1224.2,1410.0 1224.6,1409.0 1225.0,1408.7 1225.5,1410.0 1225.9,1409.0 1226.3,1410.7 1226.8,1407.7 1227.2,1410.5 1227.6,1409.0 1228.1,1407.6 1228.5,1409.8 1228.9,1409.9 1229.4,1408.5 1229.8,1409.3 1230.2,1410.0 1230.7,1409.0 1231.1,1408.2 1231.5,1408.7 1232.0,1410.1 1232.4,1408.7 1232.8,1407.9 1233.3,1410.2 1233.7,1408.7 1234.2,1409.2 1234.6,1408.7 1235.0,1410.4 1235.5,1410.1 1235.9,1409.7 1236.3,1408.2 1236.8,1409.6 1237.2,1409.8 1237.6,1408.5 1238.1,1410.4 1238.5,1409.8 1238.9,1409.1 1239.4,1409.7 1239.8,1408.9 1240.2,1408.9 1240.7,1410.4 1241.1,1410.4 1241.5,1408.4 1242.0,1409.5 1242.4,1410.4 1242.8,1410.6 1243.3,1409.5 1243.7,1408.2 1244.1,1410.2 1244.6,1407.7 1245.0,1410.8 1245.4,1409.0 1245.9,1408.6 1246.3,1409.2 1246.8,1410.1 1247.2,1409.9 1247.6,1409.1 1248.1,1408.0 1248.5,1409.5 1248.9,1409.8 1249.4,1409.6 1249.8,1407.7 1250.2,1410.0 1250.7,1410.3 1251.1,1408.0 1251.5,1410.5 1252.0,1408.2 1252.4,1408.9 1252.8,1407.8 1253.3,1409.9 1253.7,1408.2 1254.1,1410.6 1254.6,1408.4 1255.0,1409.9 1255.4,1409.4 1255.9,1408.4 1256.3,1408.9 1256.4,1409.5 1256.5,1410.0 1256.6,1408.5 1256.7,1409.4 1256.9,1410.1 1257.0,1409.6 1257.1,1408.2 1257.2,1410.6 1257.3,1409.7 1257.4,1408.3 1257.5,1408.6 1257.6,1409.1 1257.7,1410.0 1257.8,1410.3 1257.9,1409.1 1258.0,1408.1 1258.2,1409.4 1258.3,1407.3 1258.4,1408.2 1258.5,1408.6 1258.6,1407.6 1258.7,1409.0 1258.8,1407.0 1258.9,1408.6 1259.0,1409.7 1259.1,1406.5 1259.2,1408.0 1259.4,1406.6 1259.5,1409.0 1259.6,1408.6 1259.7,1407.6 1259.8,1406.2 1259.9,1408.7 1260.0,1407.1 1260.1,1406.3 1260.2,1407.4 1260.3,1407.1 1260.4,1405.4 1260.5,1406.5 1260.7,1405.9 1260.8,1405.8 1260.9,1404.9 1261.0,1406.5 1261.1,1405.7 1261.2,1406.5 1261.3,1405.9 1261.4,1404.2 1261.5,1403.5 1261.6,1405.3 1261.7,1403.6 1261.8,1404.1 1262.0,1403.3 1262.1,1404.0 1262.2,1403.7 1262.3,1403.8 1262.4,1402.4 1262.5,1403.4 1262.6,1400.4 1262.7,1401.8 1262.8,1400.0 1262.9,1399.8 1263.0,1399.6 1263.2,1396.9 1263.3,1396.3 1263.4,1395.7 1263.5,1396.5 1263.6,1394.1 1263.7,1391.9 1263.8,1391.9 1263.9,1387.8 1264.0,1384.7 1264.1,1380.9 1264.2,1378.0 1264.3,1373.8 1264.5,1365.2 1264.6,1351.2 1264.7,1333.2 1264.8,1291.5 1264.9,1170.9 1265.0,1034.5 1265.1,1170.4 1265.2,1293.1 1265.3,1331.7 1265.4,1352.6 1265.5,1363.1 1265.7,1372.6 1265.8,1379.0 1265.9,1382.9 1266.0,1385.6 1266.1,1389.7 1266.2,1389.4 1266.3,1391.9 1266.4,1394.6 1266.5,1394.9 1266.6,1394.9 1266.7,1397.1 1266.8,1398.6 1267.0,1398.5 1267.1,1399.0 1267.2,1399.8 1267.3,1401.9 1267.4,1403.1 1267.5,1402.6 1267.6,1402.7 1267.7,1401.8 1267.8,1404.5 1267.9,1402.5 1268.0,1405.3 1268.2,1404.8 1268.3,1404.8 1268.4,1403.3 1268.5,1403.5 1268.6,1406.7 1268.7,1406.4 1268.8,1405.8 1268.9,1406.5 1269.0,1404.5 1269.1,1405.8 1269.2,1406.9 1269.3,1406.2 1269.5,1406.1 1269.6,1405.6 1269.7,1405.7 1269.8,1407.3 1269.9,1406.3 1270.0,1405.7 1270.1,1407.3 1270.2,1406.7 1270.3,1407.6 1270.4,1408.1 1270.5,1408.7 1270.6,1409.2 1270.8,1408.5 1270.9,1408.5 1271.0,1407.9 1271.1,1407.6 1271.2,1407.6 1271.3,1407.5 1271.4,1408.2 1271.5,1408.4 1271.6,1408.2 1271.7,1408.0 1271.8,1407.6 1272.0,1409.5 1272.1,1407.6 1272.2,1409.8 1272.3,1410.4 1272.4,1408.0 1272.5,1409.9 1272.6,1408.0 1272.7,1409.6 1272.8,1409.6 1272.9,1408.0 1273.0,1408.4 1273.1,1410.7 1273.3,1407.9 1273.4,1410.3 1273.5,1408.8 1273.6,1408.0 1273.7,1408.3 1274.1,1409.4 1274.6,1408.0 1275.0,1408.8 1275.4,1410.2 1275.9,1407.9 1276.3,1409.2 1276.7,1410.0 1277.2,1409.6 1277.6,1410.4 1278.0,1409.2 1278.5,1409.2 1278.9,1410.5 1279.3,1409.7 1279.8,1410.1 1280.2,1408.1 1280.6,1410.4 1281.1,1409.1 1281.5,1409.0 1281.9,1409.1 1282.4,1409.8 1282.8,1410.2 1283.2,1411.0 1283.7,1410.4 1284.1,1408.4 1284.6,1410.1 1285.0,1409.3 1285.4,1410.1 1285.9,1410.8 1286.3,1409.7 1286.7,1407.9 1287.2,1409.7 1287.6,1410.0 1288.0,1409.2 1288.5,1409.9 1288.9,1410.3 1289.3,1409.8 1289.8,1408.2 1290.2,1410.6 1290.6,1410.6 1291.1,1408.6 1291.5,1410.4 1291.9,1410.6 1292.4,1410.3 1292.8,1408.2 1293.2,1408.0 1293.7,1408.1 1294.1,1410.0 1294.5,1408.2 1295.0,1410.9 1295.4,1409.5 1295.8,1409.3 1296.3,1409.6 1296.7,1407.9 1297.2,1408.6 1297.6,1409.5 1298.0,1408.7 1298.5,1408.6 1298.9,1410.7 1299.3,1410.0 1299.8,1410.0 1300.2,1408.1 1300.6,1408.3 1301.1,1410.1 1301.5,1407.9 1301.9,1410.8 1302.4,1410.0 1302.8,1410.4 1303.2,1409.4 1303.7,1408.2 1304.1,1408.6 1304.5,1411.0 1305.0,1410.3 1305.4,1408.6 1305.8,1410.2 1306.3,1408.5 1306.7,1409.1 1307.1,1408.9 1307.6,1408.8 1308.0,1409.3 1308.5,1405.9 1308.9,1405.9 1309.3,1405.9 1309.8,1405.9 1310.2,1405.9 1310.6,1405.9 1311.1,1405.9 1311.5,1405.9 1311.9,1405.9 1312.4,1405.9 1312.8,1405.9 1313.2,1405.9 1313.7,1405.9 1314.1,1405.9 1314.5,1405.9 1315.0,1405.9 1315.4,1405.9 1315.8,1405.9 1316.3,1405.9 1316.7,1405.9 1317.1,1405.9 1317.6,1411.1 1318.0,1408.3 1318.4,1408.8 1318.9,1408.1 1319.3,1408.4 1319.7,1408.6 1320.2,1410.2 1320.6,1408.6 1321.1,1409.2 1321.5,1410.0 1321.9,1408.6 1322.4,1409.6 1322.8,1408.0 1323.2,1408.8 1323.7,1408.3 1324.1,1408.3 1324.5,1409.3 1325.0,1408.3 1325.4,1409.2 1325.8,1409.5 1326.3,1408.0 1326.7,1408.9 1327.1,1408.9 1327.6,1408.0 1328.0,1409.1 1328.4,1411.2 1328.9,1409.0 1329.3,1409.2 1329.7,1408.8 1330.2,1408.0 1330.6,1408.8 1331.0,1408.0 1331.5,1408.7 1331.9,1408.0 1332.3,1409.8 1332.8,1410.4 1333.2,1409.4 1333.7,1408.3 1334.1,1408.4 1334.5,1409.0 1335.0,1409.9 1335.4,1410.3 1335.8,1411.1 1336.3,1409.9 1336.7,1409.6 1337.1,1408.0 1337.6,1409.4 1338.0,1409.3 1338.4,1409.7 1338.9,1411.1 1339.3,1410.3 1339.7,1409.1 1340.2,1408.9 1340.6,1408.2 1341.0,1409.7 1341.5,1409.0 1341.9,1408.7 1342.3,1408.8 1342.8,1410.8 1343.2,1408.4 1343.6,1408.8 1344.1,1409.1 1344.5,1410.8 1344.9,1408.2 1345.4,1409.0 1345.8,1410.6 1346.3,1409.3 1346.7,1410.7 1347.1,1411.0 1347.6,1408.9 1348.0,1408.9 1348.4,1409.6 1348.9,1410.7 1349.3,1410.2 1349.7,1410.9 1350.2,1410.5 1350.6,1411.0 1351.0,1409.1 1351.5,1408.7 1351.9,1409.6 1352.3,1409.1 1352.8,1410.8 1353.2,1408.3 1353.6,1409.3 1354.1,1410.8 1354.5,1409.5 1354.9,1409.8 1355.4,1408.5 1355.8,1408.8 1356.2,1410.9 1356.7,1409.2 1357.1,1411.1 1357.5,1409.7 1358.0,1408.6 1358.4,1410.7 1358.9,1409.2 1359.3,1410.0 1359.7,1410.9 1360.2,1408.4 1360.6,1409.0 1361.0,1410.4 1361.5,1410.6 1361.9,1410.1 1362.3,1409.0 1362.8,1408.3 1363.2,1409.6 1363.6,1411.3 1364.1,1411.2 1364.5,1410.5 1364.9,1408.8 1365.4,1410.7 1365.8,1409.4 1366.2,1411.2 1366.7,1410.2 1367.1,1409.2 1367.5,1409.1 1368.0,1411.2 1368.4,1410.7 1368.8,1410.5 1369.3,1403.7 1369.7,1403.7 1370.1,1403.7 1370.6,1403.7 1371.0,1403.7 1371.5,1403.7 1371.9,1403.7 1372.3,1403.7 1372.8,1403.7 1373.2,1403.7 1373.6,1403.7 1374.1,1403.7 1374.5,1403.7 1374.9,1403.7 1375.4,1403.7 1375.8,1403.7 1376.2,1403.7 1376.7,1403.7 1377.1,1403.7 1377.5,1403.7 1378.0,1403.7 1378.4,1409.6 1378.8,1408.8 1379.3,1410.8 1379.7,1408.4 1380.1,1410.1 1380.6,1408.7 1381.0,1410.4 1381.4,1410.9 1381.9,1410.2 1382.3,1409.2 1382.7,1408.4 1383.2,1409.7 1383.6,1410.3 1384.1,1408.3 1384.5,1409.0 1384.9,1409.9 1385.4,1409.2 1385.8,1410.5 1386.2,1409.7 1386.7,1410.1 1387.1,1410.6 1387.5,1411.1 1388.0,1410.6 1388.4,1408.8 1388.8,1408.9 1389.3,1409.9 1389.7,1408.5 1390.1,1410.8 1390.6,1409.0 1391.0,1408.9 1391.4,1411.1 1391.9,1408.6 1392.3,1408.9 1392.7,1409.9 1393.2,1409.8 1393.6,1409.5 1394.0,1409.8 1394.5,1411.2 1394.9,1410.0 1395.3,1408.6 1395.8,1409.7 1396.2,1410.6 1396.7,1408.5 1397.1,1410.0 1397.5,1410.8 1398.0,1409.5 1398.4,1410.8 1398.8,1409.4 1399.3,1409.2 1399.7,1410.8 1400.1,1410.4 1400.6,1409.5 1401.0,1410.7 1401.4,1408.7 1401.9,1409.0 1402.3,1410.8 1402.7,1409.5 1403.2,1409.5 1403.6,1410.2 1404.0,1409.3 1404.5,1410.0 1404.9,1410.0 1405.3,1410.1 1405.8,1409.6 1406.2,1411.4 1406.6,1409.5 1407.1,1411.0 1407.5,1410.7 1408.0,1408.8 1408.4,1410.7 1408.8,1409.4 1409.3,1410.6 1409.7,1408.2 1410.1,1408.3 1410.6,1410.3 1411.0,1408.5 1411.4,1408.5 1411.9,1410.8 1412.3,1410.2 1412.7,1410.8 1413.2,1410.7 1413.6,1409.7 1414.0,1409.8 1414.5,1410.0 1414.9,1410.8 1415.3,1409.7 1415.8,1408.4 1416.2,1410.3 1416.6,1409.2 1417.1,1410.7 1417.5,1409.0 1417.9,1409.6 1418.4,1408.5 1418.8,1411.2 1419.2,1409.3 1419.7,1410.1 1420.1,1410.2 1420.6,1410.4 1421.0,1408.5 1421.4,1410.6 1421.9,1409.4 1422.3,1411.3 1422.7,1408.3 1423.2,1408.9 1423.6,1409.2 1424.0,1409.8 1424.5,1410.3 1424.9,1410.0 1425.3,1409.3 1425.8,1409.8 1426.2,1408.6 1426.6,1410.4 1427.1,1408.7 1427.5,1410.5 1427.9,1411.0 1428.4,1411.0 1428.8,1410.6 1429.2,1408.5 1429.7,1408.9 1430.1,1409.1 1430.5,1410.5 1431.0,1410.7 1431.4,1410.3 1431.8,1409.3 1432.3,1410.9 1432.7,1409.7 1433.2,1410.3 1433.6,1409.0 1434.0,1409.4 1434.5,1411.0 1434.9,1410.4 1435.3,1408.8 1435.8,1408.6 1436.2,1409.8 1436.6,1408.8 1437.1,1410.8 1437.5,1410.1 1437.9,1409.4 1438.4,1411.3 1438.8,1409.7 1439.2,1408.7 1439.7,1410.8 1440.1,1411.4 1440.5,1409.4 1441.0,1409.3 1441.4,1410.7 1441.8,1410.4 1442.3,1410.3 1442.7,1411.2 1443.1,1409.1 1443.6,1410.8 1444.0,1409.0 1444.4,1409.4 1444.9,1411.1 1445.3,1409.0 1445.8,1411.0 1446.2,1409.3 1446.6,1411.2 1447.1,1409.6 1447.5,1410.0 1447.9,1409.8 1448.4,1409.0 1448.8,1409.1 1449.2,1411.3 1449.7,1410.9 1450.1,1408.3 1450.5,1410.0 1451.0,1408.8 1451.4,1409.7 1451.8,1409.0 1452.3,1411.2 1452.7,1409.8 1453.1,1409.0 1453.6,1410.1 1454.0,1409.2 1454.4,1408.8 1454.9,1408.8 1455.3,1410.8 1455.7,1408.5 1456.2,1409.6 1456.6,1410.9 1457.0,1408.9 1457.5,1410.6 1457.9,1410.4 1458.4,1410.1 1458.8,1409.8 1459.2,1410.9 1459.7,1408.7 1460.1,1408.8 1460.5,1410.5 1461.0,1408.3 1461.4,1411.3 1461.8,1411.1 1462.3,1409.0 1462.7,1410.7 1463.1,1410.8 1463.6,1411.4 1464.0,1410.4 1464.4,1411.2 1464.9,1409.4 1465.3,1411.4 1465.7,1410.1 1466.2,1408.6 1466.6,1409.6 1467.0,1410.4 1467.5,1411.1 1467.9,1408.4 1468.3,1411.4 1468.8,1409.8 1469.2,1410.3 1469.6,1409.0 1470.1,1409.6 1470.5,1408.4 1471.0,1408.4 1471.4,1409.1 1471.8,1409.9 1472.3,1409.7 1472.7,1408.5 1473.1,1409.1 1473.6,1409.0 1473.7,1408.3 1473.8,1410.1 1473.9,1408.6 1474.0,1408.8 1474.1,1409.9 1474.2,1408.7 1474.3,1410.8 1474.4,1411.0 1474.5,1408.2 1474.6,1407.8 1474.8,1409.5 1474.9,1409.6 1475.0,1410.1 1475.1,1407.8 1475.2,1409.9 1475.3,1408.6 1475.4,1408.0 1475.5,1409.1 1475.6,1407.4 1475.7,1409.3 1475.8,1407.9 1475.9,1409.6 1476.1,1408.7 1476.2,1407.9 1476.3,1409.3 1476.4,1407.4 1476.5,1407.0 1476.6,1409.0 1476.7,1408.2 1476.8,1409.7 1476.9,1408.3 1477.0,1407.6 1477.1,1408.9 1477.3,1406.2 1477.4,1408.7 1477.5,1407.5 1477.6,1409.0 1477.7,1407.9 1477.8,1406.2 1477.9,1407.3 1478.0,1405.7 1478.1,1405.7 1478.2,1406.8 1478.3,1407.5 1478.4,1405.2 1478.6,1404.7 1478.7,1406.7 1478.8,1407.0 1478.9,1404.3 1479.0,1404.8 1479.1,1405.7 1479.2,1405.7 1479.3,1404.4 1479.4,1402.7 1479.5,1404.8 1479.6,1402.7 1479.8,1403.8 1479.9,1402.2 1480.0,1402.2 1480.1,1401.3 1480.2,1402.1 1480.3,1399.2 1480.4,1398.1 1480.5,1398.8 1480.6,1398.2 1480.7,1395.9 1480.8,1396.7 1480.9,1395.6 1481.1,1391.9 1481.2,1390.4 1481.3,1387.7 1481.4,1386.6 1481.5,1380.0 1481.6,1375.4 1481.7,1369.9 1481.8,1357.2 1481.9,1337.9 1482.0,1303.7 1482.1,1208.3 1482.2,1208.3 1482.4,1208.6 1482.5,1302.9 1482.6,1339.6 1482.7,1358.1 1482.8,1367.7 1482.9,1377.1 1483.0,1381.1 1483.1,1384.9 1483.2,1386.8 1483.3,1389.3 1483.4,1392.6 1483.6,1393.9 1483.7,1395.0 1483.8,1396.7 1483.9,1398.6 1484.0,1399.9 1484.1,1399.4 1484.2,1400.5 1484.3,1401.7 1484.4,1402.0 1484.5,1403.5 1484.6,1402.4 1484.7,1404.3 1484.9,1404.6 1485.0,1402.9 1485.1,1405.3 1485.2,1403.7 1485.3,1404.7 1485.4,1405.8 1485.5,1405.0 1485.6,1405.4 1485.7,1404.3 1485.8,1404.4 1485.9,1406.2 1486.1,1406.7 1486.2,1406.1 1486.3,1407.8 1486.4,1406.6 1486.5,1408.2 1486.6,1407.7 1486.7,1406.3 1486.8,1406.4 1486.9,1407.5 1487.0,1406.0 1487.1,1408.7 1487.2,1408.3 1487.4,1407.5 1487.5,1408.1 1487.6,1407.6 1487.7,1409.4 1487.8,1407.5 1487.9,1409.4 1488.0,1409.1 1488.1,1409.5 1488.2,1407.8 1488.3,1410.1 1488.4,1407.1 1488.6,1409.1 1488.7,1409.6 1488.8,1409.4 1488.9,1408.9 1489.0,1409.8 1489.1,1408.2 1489.2,1408.3 1489.3,1408.7 1489.4,1407.9 1489.5,1408.5 1489.6,1410.4 1489.7,1410.1 1489.9,1409.4 1490.0,1410.0 1490.1,1409.8 1490.2,1409.6 1490.3,1408.6 1490.4,1409.4 1490.5,1408.5 1490.6,1409.3 1490.7,1411.3 1490.8,1408.2 1490.9,1410.9 1491.4,1410.2 1491.8,1411.4 1492.2,1409.8 1492.7,1409.3 1493.1,1410.5 1493.5,1408.5 1494.0,1411.0 1494.4,1408.4 1494.9,1408.9 1495.3,1411.0 1495.7,1411.1 1496.2,1411.2 1496.6,1409.6 1497.0,1410.7 1497.5,1408.4 1497.9,1411.1 1498.3,1408.9 1498.8,1410.3 1499.2,1411.4 1499.6,1409.1 1500.1,1409.6 1500.5,1410.7 1500.9,1410.3 1501.4,1411.0 1501.8,1411.0 1502.2,1409.6 1502.7,1409.7 1503.1,1410.8 1503.5,1410.5 1504.0,1408.3 1504.4,1410.3 1504.8,1409.9 1505.3,1411.0 1505.7,1411.4 1506.1,1409.5 1506.6,1410.7 1507.0,1409.1 1507.5,1410.7 1507.9,1410.3 1508.3,1409.4 1508.8,1409.3 1509.2,1410.4 1509.6,1409.1 1510.1,1409.7 1510.5,1408.9 1510.9,1409.0 1511.4,1408.8 1511.8,1410.6 1512.2,1411.2 1512.7,1411.5 1513.1,1410.4 1513.5,1410.1 1514.0,1410.6 1514.4,1411.0 1514.8,1410.1 1515.3,1410.5 1515.7,1411.4 1516.1,1408.8 1516.6,1409.8 1517.0,1410.9 1517.4,1410.4 1517.9,1409.6 1518.3,1411.2 1518.7,1409.8 1519.2,1409.1 1519.6,1410.9 1520.1,1409.8 1520.5,1408.6 1520.9,1409.2 1521.4,1410.0 1521.8,1411.4 1522.2,1408.5 1522.7,1408.3 1523.1,1409.0 1523.5,1410.7 1524.0,1409.6 1524.4,1408.9 1524.8,1409.8 1525.3,1408.4 1525.7,1409.6 1526.1,1411.5 1526.6,1410.5 1527.0,1408.3 1527.4,1408.3 1527.9,1408.5 1528.3,1410.8 1528.7,1410.7 1529.2,1409.5 1529.6,1411.4 1530.0,1408.6 1530.5,1409.9 1530.9,1409.1 1531.3,1409.5 1531.8,1410.3 1532.2,1408.6 1532.7,1410.7 1533.1,1409.8 1533.5,1410.1 1534.0,1409.2 1534.4,1409.2 1534.8,1410.0 1535.3,1410.4 1535.7,1410.8 1536.1,1411.3 1536.6,1410.1 1537.0,1411.5 1537.4,1410.3 1537.9,1408.4 1538.3,1409.4 1538.7,1410.2 1539.2,1408.5 1539.6,1408.3 1540.0,1409.0 1540.5,1410.5 1540.9,1408.6 1541.3,1408.9 1541.8,1409.4 1542.2,1410.0 1542.6,1410.6 1543.1,1410.5 1543.5,1409.8 1543.9,1409.9 1544.4,1410.0 1544.8,1408.9 1545.3,1410.7 1545.7,1411.1 1546.1,1410.9 1546.6,1409.5 1547.0,1411.4 1547.4,1410.5 1547.9,1410.9 1548.3,1411.4 1548.7,1408.5 1549.2,1410.3 1549.6,1408.6 1550.0,1409.9 1550.5,1408.4 1550.9,1411.0 1551.3,1410.3 1551.8,1410.7 1552.2,1409.1 1552.6,1410.7 1553.1,1409.7 1553.5,1410.9 1553.9,1411.3 1554.4,1408.6 1554.8,1409.0 1555.2,1408.9 1555.7,1408.3 1556.1,1408.8 1556.5,1411.3 1557.0,1410.6 1557.4,1410.2 1557.9,1408.5 1558.3,1411.4 1558.7,1409.1 1559.2,1411.3 1559.6,1410.9 1560.0,1410.7 1560.5,1410.1 1560.9,1408.6 1561.3,1408.7 1561.8,1410.5 1562.2,1408.3 1562.6,1411.3 1563.1,1411.3 1563.5,1409.9 1563.9,1410.4 1564.4,1408.7 1564.8,1411.4 1565.2,1408.7 1565.7,1410.6 1566.1,1409.0 1566.5,1411.4 1567.0,1408.6 1567.4,1408.8 1567.8,1409.6 1568.3,1408.8 1568.7,1408.9 1569.1,1408.8 1569.6,1409.3 1570.0,1408.4 1570.5,1409.6 1570.9,1409.3 1571.3,1410.0 1571.8,1408.3 1572.2,1411.4 1572.6,1409.1 1573.1,1410.7 1573.5,1409.3 1573.9,1410.9 1574.4,1410.4 1574.8,1409.3 1575.2,1410.2 1575.7,1409.4 1576.1,1409.4 1576.5,1411.1 1577.0,1409.3 1577.4,1410.6 1577.8,1410.1 1578.3,1409.9 1578.7,1410.3 1579.1,1410.7 1579.6,1411.0 1580.0,1409.5 1580.4,1409.1 1580.9,1410.9 1581.3,1409.6 1581.8,1411.1 1582.2,1409.4 1582.6,1410.5 1583.1,1410.4 1583.5,1409.4 1583.9,1410.0 1584.4,1410.1 1584.8,1410.5 1585.2,1408.9 1585.7,1410.5 1586.1,1409.4 1586.5,1411.3 1587.0,1408.6 1587.4,1408.4 1587.8,1410.9 1588.3,1410.1 1588.7,1411.2 1589.1,1410.2 1589.6,1408.7 1590.0,1409.6 1590.4,1411.1 1590.9,1408.4 1591.3,1409.7 1591.7,1411.3 1592.2,1410.3 1592.6,1411.0 1593.0,1408.7 1593.5,1410.2 1593.9,1409.9 1594.4,1408.8 1594.8,1409.7 1595.2,1411.3 1595.7,1411.3 1596.1,1410.9 1596.5,1409.3 1597.0,1409.5 1597.4,1410.4 1597.8,1410.5 1598.3,1411.2 1598.7,1411.3 1599.1,1409.5 1599.6,1409.0 1600.0,1409.9 1600.4,1409.3 1600.9,1410.1 1601.3,1411.3 1601.7,1411.5 1602.2,1408.9 1602.6,1408.7 1603.0,1408.4 1603.5,1410.5 1603.9,1409.2 1604.3,1409.1 1604.8,1409.4 1605.2,1408.9 1605.6,1408.4 1606.1,1410.9 1606.5,1409.2 1607.0,1410.2 1607.4,1408.9 1607.8,1408.6 1608.3,1408.5 1608.7,1409.1 1609.1,1408.6 1609.6,1411.1 1610.0,1411.2 1610.4,1410.2 1610.9,1409.2 1611.3,1408.9 1611.7,1408.8 1612.2,1411.1 1612.6,1409.3 1613.0,1409.7 1613.5,1411.0 1613.9,1410.0 1614.3,1409.0 1614.8,1411.0 1615.2,1408.6 1615.6,1411.0 1616.1,1411.2 1616.5,1410.3 1616.9,1409.0 1617.4,1409.0 1617.8,1408.7 1618.2,1410.9 1618.7,1410.8 1619.1,1410.9 1619.6,1410.8 1620.0,1410.2 1620.4,1408.3 1620.9,1409.3 1621.3,1410.4 1621.7,1408.4 1622.2,1409.7 1622.6,1411.4 1623.0,1411.3 1623.5,1409.7 1623.9,1410.9 1624.3,1410.7 1624.8,1410.3 1625.2,1409.6 1625.6,1408.5 1626.1,1411.2 1626.5,1408.6 1626.9,1410.1 1627.4,1410.5 1627.8,1410.6 1628.2,1410.4 1628.7,1410.2 1629.1,1410.2 1629.5,1408.8 1630.0,1410.4 1630.4,1410.7 1630.8,1408.5 1631.3,1409.0 1631.7,1411.4 1632.2,1409.7 1632.6,1409.5 1633.0,1411.0 1633.5,1410.5 1633.9,1410.9 1634.3,1411.2 1634.8,1409.9 1635.2,1411.3 1635.6,1410.0 1636.1,1410.0 1636.5,1409.6 1636.9,1408.8 1637.4,1411.4 1637.8,1410.9 1638.2,1409.4 1638.7,1410.2 1639.1,1410.9 1639.5,1410.9 1640.0,1410.9 1640.4,1408.6 1640.8,1410.3 1641.3,1409.7 1641.7,1409.7 1642.1,1409.1 1642.6,1410.0 1643.0,1410.3 1643.4,1409.2 1643.9,1410.5 1644.3,1411.2 1644.8,1408.3 1645.2,1408.5 1645.6,1410.1 1646.1,1409.2 1646.5,1408.9 1646.9,1410.3 1647.4,1410.9 1647.8,1411.0 1648.2,1408.7 1648.7,1408.4 1649.1,1410.1 1649.5,1408.4 1650.0,1410.0 1650.4,1410.1 1650.8,1410.7 1651.3,1409.7 1651.7,1410.3 1652.1,1408.8 1652.6,1408.5 1653.0,1409.2 1653.4,1410.1 1653.9,1410.4 1654.3,1408.4 1654.7,1409.4 1655.2,1409.5 1655.6,1411.5 1656.0,1405.9 1656.5,1405.9 1656.9,1405.9 1657.4,1405.9 1657.8,1405.9 1658.2,1405.9 1658.7,1405.9 1659.1,1405.9 1659.5,1405.9 1660.0,1405.9 1660.4,1405.9 1660.8,1405.9 1661.3,1405.9 1661.7,1405.9 1662.1,1405.9 1662.6,1405.9 1663.0,1410.8 1663.4,1408.5 1663.9,1408.9 1664.3,1411.0 1664.7,1410.2 1665.2,1408.8 1665.6,1410.7 1666.0,1409.9 1666.5,1410.6 1666.9,1408.6 1667.3,1409.9 1667.8,1410.5 1668.2,1409.2 1668.7,1410.8 1669.1,1410.7 1669.5,1408.6 1670.0,1408.7 1670.4,1411.0 1670.8,1411.2 1671.3,1408.7 1671.7,1410.2 1672.1,1409.1 1672.6,1410.4 1673.0,1411.3 1673.4,1411.1 1673.9,1410.0 1674.3,1409.2 1674.7,1408.6 1675.2,1410.5 1675.6,1410.2 1676.0,1409.3 1676.5,1409.3 1676.9,1409.0 1677.3,1409.1 1677.8,1409.8 1678.2,1409.1 1678.6,1410.1 1679.1,1409.0 1679.5,1410.1 1679.9,1411.2 1680.4,1408.9 1680.8,1411.0 1681.3,1409.8 1681.7,1409.2 1682.1,1409.5 1682.6,1409.7 1683.0,1408.4 1683.4,1410.7 1683.9,1409.9 1684.3,1409.2 1684.7,1408.4 1685.2,1410.8 1685.6,1411.4 1686.0,1409.0 1686.5,1409.5 1686.9,1410.1 1687.3,1408.6 1687.8,1408.4 1688.2,1410.3 1688.6,1410.2 1689.1,1409.7 1689.5,1410.3 1689.9,1410.1 1690.4,1410.7 1690.8,1408.7 1690.9,1409.9 1691.0,1408.4 1691.1,1408.6 1691.2,1409.6 1691.4,1410.5 1691.5,1411.1 1691.6,1410.2 1691.7,1408.5 1691.8,1409.2 1691.9,1408.5 1692.0,1410.6 1692.1,1408.5 1692.2,1407.7 1692.3,1410.7 1692.4,1410.3 1692.5,1407.9 1692.7,1409.4 1692.8,1409.5 1692.9,1407.8 1693.0,1407.6 1693.1,1407.2 1693.2,1409.5 1693.3,1408.4 1693.4,1409.9 1693.5,1408.5 1693.6,1407.4 1693.7,1408.9 1693.9,1408.2 1694.0,1407.7 1694.1,1409.5 1694.2,1408.7 1694.3,1408.4 1694.4,1406.5 1694.5,1407.1 1694.6,1407.2 1694.7,1408.3 1694.8,1406.3 1694.9,1408.2 1695.0,1406.3 1695.2,1407.7 1695.3,1405.4 1695.4,1408.2 1695.5,1407.8 1695.6,1405.2 1695.7,1407.3 1695.8,1405.8 1695.9,1406.3 1696.0,1405.4 1696.1,1405.1 1696.2,1405.3 1696.3,1405.0 1696.5,1403.9 1696.6,1405.4 1696.7,1403.4 1696.8,1405.2 1696.9,1402.4 1697.0,1403.3 1697.1,1402.0 1697.2,1403.2 1697.3,1400.1 1697.4,1399.6 1697.5,1399.1 1697.7,1398.6 1697.8,1398.0 1697.9,1399.4 1698.0,1396.9 1698.1,1396.6 1698.2,1395.6 1698.3,1391.9 1698.4,1389.0 1698.5,1386.6 1698.6,1385.4 1698.7,1382.0 1698.8,1375.6 1699.0,1369.8 1699.1,1356.7 1699.2,1338.2 1699.3,1302.5 1699.4,1208.5 1699.5,1210.7 1699.6,1208.5 1699.7,1303.5 1699.8,1339.4 1699.9,1356.3 1700.0,1368.6 1700.2,1375.0 1700.3,1382.1 1700.4,1386.5 1700.5,1386.7 1700.6,1389.2 1700.7,1391.7 1700.8,1394.2 1700.9,1396.5 1701.0,1398.3 1701.1,1396.7 1701.2,1397.5 1701.3,1400.4 1701.5,1399.8 1701.6,1400.9 1701.7,1401.6 1701.8,1402.1 1701.9,1402.5 1702.0,1404.4 1702.1,1404.2 1702.2,1404.6 1702.3,1404.4 1702.4,1404.7 1702.5,1403.1 1702.7,1403.6 1702.8,1404.6 1702.9,1405.8 1703.0,1405.4 1703.1,1405.9 1703.2,1406.5 1703.3,1405.1 1703.4,1405.5 1703.5,1405.9 1703.6,1407.1 1703.7,1407.2 1703.8,1407.5 1704.0,1406.6 1704.1,1406.5 1704.2,1406.4 1704.3,1407.3 1704.4,1408.3 1704.5,1406.8 1704.6,1407.4 1704.7,1406.5 1704.8,1408.4 1704.9,1409.2 1705.0,1407.1 1705.1,1409.9 1705.3,1409.5 1705.4,1408.1 1705.5,1407.9 1705.6,1409.4 1705.7,1410.1 1705.8,1408.5 1705.9,1407.9 1706.0,1407.3 1706.1,1409.5 1706.2,1409.6 1706.3,1408.4 1706.5,1408.2 1706.6,1409.8 1706.7,1410.4 1706.8,1410.0 1706.9,1410.1 1707.0,1409.3 1707.1,1410.3 1707.2,1410.8 1707.3,1408.0 1707.4,1409.2 1707.5,1411.1 1707.6,1408.9 1707.8,1410.6 1707.9,1410.0 1708.0,1409.5 1708.1,1409.0 1708.2,1408.3 1708.6,1410.7 1709.1,1411.4 1709.5,1410.9 1709.9,1410.5 1710.4,1410.9 1710.8,1410.2 1711.2,1410.2 1711.7,1408.5 1712.1,1408.5 1712.5,1410.2 1713.0,1410.4 1713.4,1408.7 1713.8,1409.3 1714.3,1408.7 1714.7,1410.2 1715.1,1411.5 1715.6,1410.6 1716.0,1410.9 1716.4,1409.6 1716.9,1409.7 1717.3,1411.2 1717.7,1409.0 1718.2,1409.4 1718.6,1410.2 1719.1,1410.2 1719.5,1410.1 1719.9,1409.4 1720.4,1410.0 1720.8,1408.7 1721.2,1409.5 1721.7,1410.4 1722.1,1409.1 1722.5,1409.7 1723.0,1411.0 1723.4,1409.4 1723.8,1408.7 1724.3,1410.1 1724.7,1409.7 1725.1,1411.3 1725.6,1411.4 1726.0,1410.7 1726.4,1408.5 1726.9,1411.2 1727.3,1410.5 1727.7,1409.5 1728.2,1408.7 1728.6,1408.5 1729.0,1409.5 1729.5,1411.4 1729.9,1410.2 1730.3,1408.7 1730.8,1410.6 1731.2,1411.5 1731.7,1408.6 1732.1,1408.7 1732.5,1409.2 1733.0,1411.0 1733.4,1409.3 1733.8,1411.2 1734.3,1410.8 1734.7,1411.5 1735.1,1410.9 1735.6,1408.7 1736.0,1409.2 1736.4,1409.4 1736.9,1409.6 1737.3,1410.9 1737.7,1411.3 1738.2,1410.8 1738.6,1408.8 1739.0,1409.9 1739.5,1411.3 1739.9,1410.7 1740.3,1410.1 1740.8,1411.0 1741.2,1411.2 1741.6,1410.0 1742.1,1408.8 1742.5,1410.8 1742.9,1410.2 1743.4,1409.0 1743.8,1409.8 1744.3,1409.5 1744.7,1409.3 1745.1,1409.0 1745.6,1411.4 1746.0,1409.7 1746.4,1411.3 1746.9,1411.1 1747.3,1411.4 1747.7,1411.0 1748.2,1408.8 1748.6,1411.0 1749.0,1411.5 1749.5,1410.8 1749.9,1409.1 1750.3,1409.9 1750.8,1409.8 1751.2,1409.5 1751.6,1410.6 1752.1,1409.0 1752.5,1410.0 1752.9,1410.6 1753.4,1410.7 1753.8,1408.4 1754.2,1409.0 1754.7,1409.8 1755.1,1409.9 1755.6,1409.6 1756.0,1411.5 1756.4,1411.3 1756.9,1409.5 1757.3,1409.4 1757.7,1408.7 1758.2,1409.6 1758.6,1409.2 1759.0,1409.8 1759.5,1410.3 1759.9,1410.1 1760.3,1408.5 1760.8,1408.6 1761.2,1408.7 1761.6,1409.7 1762.1,1410.9 1762.5,1411.3 1762.9,1408.7 1763.4,1411.2 1763.8,1410.4 1764.2,1409.0 1764.7,1410.9 1765.1,1409.0 1765.5,1410.8 1766.0,1409.1 1766.4,1409.3 1766.8,1410.7 1767.3,1410.5 1767.7,1410.4 1768.2,1409.7 1768.6,1408.7 1769.0,1409.8 1769.5,1410.2 1769.9,1410.3 1770.3,1411.0 1770.8,1409.4 1771.2,1410.0 1771.6,1408.7 1772.1,1409.9 1772.5,1408.5 1772.9,1410.2 1773.4,1409.9 1773.8,1411.0 1774.2,1409.1 1774.7,1411.5 1775.1,1411.0 1775.5,1410.6 1776.0,1408.9 1776.4,1409.6 1776.8,1410.6 1777.3,1408.6 1777.7,1408.9 1778.1,1411.5 1778.6,1410.8 1779.0,1409.3 1779.4,1408.8 1779.9,1409.2 1780.3,1408.8 1780.8,1411.2 1781.2,1411.6 1781.6,1410.2 1782.1,1411.4 1782.5,1409.5 1782.9,1408.6 1783.4,1410.2 1783.8,1409.7 1784.2,1410.3 1784.7,1411.1 1785.1,1411.2 1785.5,1409.3 1786.0,1408.7 1786.4,1410.4 1786.8,1411.1 1787.3,1408.9 1787.7,1410.7 1788.1,1409.1 1788.6,1409.5 1789.0,1410.6 1789.4,1409.9 1789.9,1410.4 1790.3,1411.2 1790.7,1410.9 1791.2,1409.8 1791.6,1409.1 1792.0,1411.3 1792.5,1410.9 1792.9,1411.5 1793.4,1408.4 1793.8,1411.2 1794.2,1410.4 1794.7,1411.4 1795.1,1410.0 1795.5,1409.6 1796.0,1409.9 1796.4,1409.4 1796.8,1410.9 1797.3,1408.7 1797.7,1409.1 1798.1,1411.0 1798.6,1410.1 1799.0,1411.5 1799.4,1408.9 1799.9,1408.7 1800.3,1409.9 1800.7,1410.4 1801.2,1409.0 1801.6,1410.5 1802.0,1411.4 1802.5,1409.5 1802.9,1410.3 1803.3,1408.4 1803.8,1409.9 1804.2,1411.2 1804.6,1409.1 1805.1,1408.5 1805.5,1411.2 1806.0,1410.6 1806.4,1410.0 1806.8,1409.3 1807.3,1409.3 1807.7,1409.6 1808.1,1408.8 1808.6,1409.2 1809.0,1411.5 1809.4,1408.5 1809.9,1408.9 1810.3,1409.4 1810.7,1409.1 1811.2,1408.9 1811.6,1411.4 1812.0,1409.6 1812.5,1411.1 1812.9,1410.8 1813.3,1409.0 1813.8,1409.8 1814.2,1410.6 1814.6,1411.0 1815.1,1410.1 1815.5,1411.3 1815.9,1410.4 1816.4,1408.8 1816.8,1410.4 1817.2,1409.9 1817.7,1408.6 1818.1,1410.4 1818.6,1410.7 1819.0,1410.3 1819.4,1410.4 1819.9,1408.5 1820.3,1411.6 1820.7,1411.1 1821.2,1409.1 1821.6,1411.6 1822.0,1410.2 1822.5,1409.4 1822.9,1411.4 1823.3,1410.6 1823.8,1410.7 1824.2,1410.0 1824.6,1409.6 1825.1,1409.2 1825.5,1411.3 1825.9,1410.8 1826.4,1409.2 1826.8,1408.8 1827.2,1410.6 1827.7,1411.4 1828.1,1411.2 1828.5,1409.1 1829.0,1411.2 1829.4,1410.9 1829.8,1411.0 1830.3,1410.3 1830.7,1409.5 1831.2,1411.2 1831.6,1410.1 1832.0,1408.6 1832.5,1410.0 1832.9,1410.0 1833.3,1409.3 1833.8,1409.8 1834.2,1410.2 1834.6,1408.9 1835.1,1411.1 1835.5,1410.9 1835.9,1408.4 1836.4,1410.8 1836.8,1411.4 1837.2,1411.1 1837.7,1408.6 1838.1,1411.0 1838.5,1409.9 1839.0,1409.3 1839.4,1411.5 1839.8,1410.7 1840.3,1409.2 1840.7,1410.7 1841.1,1410.5 1841.6,1409.8 1842.0,1409.0 1842.5,1410.6 1842.9,1411.1 1843.3,1411.5 1843.8,1410.7 1844.2,1409.5 1844.6,1408.7 1845.1,1410.0 1845.5,1411.1 1845.9,1409.6 1846.4,1411.3 1846.8,1411.2 1847.2,1411.2 1847.7,1408.6 1848.1,1409.6 1848.5,1411.6 1849.0,1408.6 1849.4,1410.4 1849.8,1411.1 1850.3,1409.4 1850.7,1410.0 1851.1,1409.6 1851.6,1410.2 1852.0,1410.9 1852.4,1411.6 1852.9,1409.5 1853.3,1410.1 1853.7,1410.2 1854.2,1409.6 1854.6,1410.0 1855.1,1408.7 1855.5,1409.3 1855.9,1408.6 1856.4,1410.9 1856.8,1409.6 1857.2,1408.7 1857.7,1409.2 1858.1,1410.4 1858.5,1409.2 1859.0,1409.7 1859.4,1410.7 1859.8,1409.3 1860.3,1411.3 1860.7,1411.3 1861.1,1411.0 1861.6,1405.4 1862.0,1405.4 1862.4,1405.4 1862.9,1405.4 1863.3,1405.4 1863.7,1405.4 1864.2,1405.4 1864.6,1405.4 1865.0,1405.4 1865.5,1405.4 1865.9,1409.9 1866.3,1411.0 1866.8,1410.8 1867.2,1410.8 1867.7,1410.8 1868.1,1408.8 1868.5,1409.0 1869.0,1411.1 1869.4,1409.4 1869.8,1410.9 1870.3,1411.6 1870.7,1411.4 1871.1,1409.2 1871.6,1409.4 1872.0,1409.9 1872.4,1411.2 1872.9,1409.1 1873.3,1410.0 1873.7,1409.8 1874.2,1409.0 1874.6,1410.7 1875.0,1410.6 1875.5,1411.3 1875.9,1410.5 1876.3,1409.0 1876.8,1409.6 1877.2,1410.8 1877.6,1410.7 1878.1,1409.5 1878.5,1408.9 1878.9,1410.3 1879.4,1411.6 1879.8,1408.6 1880.3,1408.8 1880.7,1409.6 1881.1,1411.5 1881.6,1410.2 1882.0,1410.7 1882.4,1411.3 1882.9,1410.3 1883.3,1410.0 1883.7,1410.0 1884.2,1410.7 1884.6,1410.8 1885.0,1409.0 1885.5,1411.3 1885.9,1409.9 1886.3,1409.8 1886.8,1411.1 1887.2,1411.6 1887.6,1410.0 1888.1,1409.9 1888.5,1411.1 1888.9,1411.6 1889.4,1410.0 1889.8,1411.6 1890.2,1410.3 1890.7,1409.2 1891.1,1408.9 1891.5,1409.8 1892.0,1409.7 1892.4,1411.2 1892.9,1410.0 1893.3,1410.9 1893.7,1409.0 1894.2,1410.4 1894.6,1409.6 1895.0,1409.2 1895.5,1410.2 1895.9,1408.6 1896.3,1409.9 1896.8,1410.8 1897.2,1408.9 1897.6,1409.5 1898.1,1411.6 1898.5,1410.8 1898.9,1409.2 1899.4,1409.5 1899.8,1410.1 1900.2,1408.6 1900.7,1410.5 1901.1,1409.4 1901.5,1410.5 1902.0,1410.8 1902.4,1411.0 1902.8,1411.3 1903.3,1411.2 1903.7,1411.1 1904.1,1410.7 1904.6,1408.6 1905.0,1411.1 1905.5,1410.2 1905.9,1411.0 1906.3,1410.3 1906.8,1411.5 1907.2,1410.8 1907.6,1410.8 1908.1,1409.9 1908.5,1411.6 1908.9,1410.1 1909.4,1411.3 1909.8,1408.8 1910.2,1410.3 1910.7,1409.2 1911.1,1409.0 1911.5,1410.6 1912.0,1409.1 1912.4,1409.9 1912.8,1409.0 1913.3,1409.1 1913.7,1411.1 1914.1,1409.5 1914.6,1410.3 1915.0,1411.5 1915.4,1410.9 1915.9,1411.0 1916.3,1409.9 1916.8,1410.5" fill="none" stroke="#960088" stroke-width="7.4" stroke-linejoin="bevel"/>
<g fill="#960088"><rect x="174.6" y="1230.6" width="8.3" height="182.7"/><rect x="228.5" y="1196.6" width="8.3" height="193.0"/><rect x="283.2" y="975.7" width="8.3" height="411.6"/><rect x="319.3" y="1348.4" width="8.3" height="25.9"/><rect x="337.8" y="1053.0" width="8.3" height="308.1"/><rect x="445.9" y="1306.2" width="8.3" height="58.6"/><rect x="464.4" y="1355.5" width="8.3" height="20.6"/><rect x="500.5" y="1133.0" width="8.3" height="257.7"/><rect x="663.4" y="1374.7" width="8.3" height="30.4"/><rect x="717.7" y="1326.5" width="8.3" height="79.5"/><rect x="935.0" y="1379.1" width="8.3" height="29.4"/><rect x="1260.8" y="1028.9" width="8.3" height="383.4"/><rect x="1478.1" y="1206.4" width="8.3" height="205.9"/><rect x="1695.3" y="1206.4" width="8.3" height="206.0"/><rect x="1804.0" y="1380.7" width="8.3" height="31.8"/><rect x="1912.6" y="1329.2" width="8.3" height="83.3"/></g>
</g>
<path d="M177.75 42.4H1915.75" stroke="#262626" stroke-width="2.5" fill="none"/>
<rect x="281.5" y="124.6" width="231.0" height="120.9" fill="#fff" stroke="#000" stroke-width="2.7"/>
<rect x="491.6" y="283.8" width="248.8" height="120.5" fill="#fff" stroke="#000" stroke-width="2.7"/>
<rect x="724.5" y="126.6" width="220.5" height="117.7" fill="#fff" stroke="#000" stroke-width="2.7"/>
<rect x="924.5" y="288.4" width="247.8" height="111.8" fill="#fff" stroke="#000" stroke-width="2.7"/>
<path d="M926 316.4H963.8M1141.8 316.4H1171" stroke="#DFDFDF" stroke-width="2.6"/>
<rect x="1810.8" y="565.3" width="81.1" height="47.4" fill="#fff"/>
<rect x="1809.7" y="839.6" width="81.1" height="48.5" fill="#fff"/>
<rect x="1281" y="1125" width="96" height="90" fill="#fff"/>
<g transform="translate(88.72,66.32)"><text id="t0" font-size="57.61" letter-spacing="1.44" fill="#7E2F8E">25</text></g>
<g transform="translate(92.82,336.32)"><text id="t1" font-size="57.54" letter-spacing="-0.29" fill="#7E2F8E">20</text></g>
<g transform="translate(94.76,606.23)"><text id="t2" font-size="56.86" letter-spacing="-1.19" fill="#7E2F8E">15</text><rect x="2.78" y="-5.97" width="11.47" height="7.22" fill="#fff"/><rect x="19.38" y="-5.97" width="11.10" height="7.22" fill="#fff"/></g>
<g transform="translate(97.83,883.24)"><text id="t3" font-size="56.06" letter-spacing="-0.41" fill="#7E2F8E">10</text><rect x="2.74" y="-5.88" width="11.30" height="7.12" fill="#fff"/><rect x="19.11" y="-5.88" width="10.95" height="7.12" fill="#fff"/></g>
<g transform="translate(125.79,1158.12) scale(0.9925,1)"><text id="t4" font-size="58.14" fill="#7E2F8E">5</text></g>
<g transform="translate(125.14,1431.44) scale(0.9578,1)"><text id="t5" font-size="56.34" fill="#7E2F8E">0</text></g>
<g transform="translate(1922.93,60.00)"><text id="t6" font-size="58.12" fill="#FF1010">1</text><rect x="2.84" y="-6.10" width="11.72" height="7.38" fill="#fff"/><rect x="19.81" y="-6.10" width="11.35" height="7.38" fill="#fff"/></g>
<g transform="translate(1926.74,334.23)"><text id="t7" font-size="56.62" letter-spacing="1.01" fill="#FF1010">0.8</text></g>
<g transform="translate(1810.78,608.15)"><text id="t8" font-size="55.49" letter-spacing="1.45" fill="#FF1010">0.6</text></g>
<g transform="translate(1810.72,883.53)"><text id="t9" font-size="57.04" letter-spacing="-0.40" fill="#FF1010">0.4</text></g>
<g transform="translate(1926.62,1150.53)"><text id="t10" font-size="57.04" letter-spacing="0.82" fill="#FF1010">0.2</text></g>
<g transform="translate(1929.99,1430.33) scale(1.0117,1)"><text id="t11" font-size="57.04" fill="#FF1010">0</text></g>
<g transform="translate(163.62,1488.33) scale(0.9640,1)"><text id="t12" font-size="56.62" fill="#262626">0</text></g>
<g transform="translate(351.16,1488.03)"><text id="t13" font-size="56.76" letter-spacing="-3.14" fill="#262626">100</text><rect x="2.77" y="-5.96" width="11.45" height="7.21" fill="#fff"/><rect x="19.35" y="-5.96" width="11.09" height="7.21" fill="#fff"/></g>
<g transform="translate(567.68,1488.24)"><text id="t14" font-size="56.48" letter-spacing="-2.42" fill="#262626">200</text></g>
<g transform="translate(785.74,1488.24)"><text id="t15" font-size="56.48" letter-spacing="-2.95" fill="#262626">300</text></g>
<g transform="translate(1002.57,1488.24)"><text id="t16" font-size="56.48" letter-spacing="-2.32" fill="#262626">400</text></g>
<g transform="translate(1219.64,1488.24)"><text id="t17" font-size="56.48" letter-spacing="-2.45" fill="#262626">500</text></g>
<g transform="translate(1435.78,1488.24)"><text id="t18" font-size="56.48" letter-spacing="-2.02" fill="#262626">600</text></g>
<g transform="translate(1654.58,1488.24)"><text id="t19" font-size="56.48" letter-spacing="-2.82" fill="#262626">700</text></g>
<g transform="translate(1871.74,1488.24)"><text id="t20" font-size="56.48" letter-spacing="-2.60" fill="#262626">800</text></g>
<g transform="translate(847.97,1566.25)"><text id="t21" font-size="57.87" letter-spacing="0.48" fill="#262626">Frequency [Hz]</text></g>
<g transform="translate(67.08,911.90) rotate(-90)"><text id="t22" font-size="56.28" letter-spacing="0.79" fill="#7E2F8E">Amplitude [W]</text></g>
<g transform="translate(2000.89,982.93) rotate(-90)"><text id="t23" font-size="56.70" letter-spacing="0.42" fill="#FF0000">Transmissibility [  ]</text></g>
<g transform="translate(297.73,174.71)"><text id="t24" font-size="59.30" letter-spacing="-0.95" fill="#000000">100 Hz</text><rect x="2.90" y="-6.22" width="11.96" height="7.53" fill="#fff"/><rect x="20.21" y="-6.22" width="11.58" height="7.53" fill="#fff"/></g>
<g transform="translate(293.21,234.59)"><text id="t25" font-size="60.56" letter-spacing="-0.90" fill="#000000">1164 W</text><rect x="2.96" y="-6.36" width="12.21" height="7.69" fill="#fff"/><rect x="20.64" y="-6.36" width="11.83" height="7.69" fill="#fff"/><rect x="31.22" y="-6.36" width="12.21" height="7.69" fill="#fff"/><rect x="48.91" y="-6.36" width="11.83" height="7.69" fill="#fff"/></g>
<g transform="translate(524.49,335.60)"><text id="t26" font-size="60.14" letter-spacing="-1.03" fill="#000000">200 Hz</text></g>
<g transform="translate(508.53,391.51)"><text id="t27" font-size="58.73" letter-spacing="-0.40" fill="#000000">41.32 W</text><rect x="35.12" y="-6.17" width="11.84" height="7.46" fill="#fff"/><rect x="52.27" y="-6.17" width="11.47" height="7.46" fill="#fff"/></g>
<g transform="translate(745.86,177.32)"><text id="t28" font-size="58.45" letter-spacing="-0.27" fill="#000000">300 Hz</text></g>
<g transform="translate(751.51,234.49)"><text id="t29" font-size="60.56" letter-spacing="-1.66" fill="#000000">102 W</text><rect x="2.96" y="-6.36" width="12.21" height="7.69" fill="#fff"/><rect x="20.64" y="-6.36" width="11.83" height="7.69" fill="#fff"/></g>
<g transform="translate(967.19,337.50)"><text id="t30" font-size="60.42" letter-spacing="-1.50" fill="#000000">400 W</text></g>
<g transform="translate(944.04,391.21)"><text id="t31" font-size="59.01" letter-spacing="-0.51" fill="#000000">30.66 W</text></g>
<g transform="translate(270.00,963.80) scale(0.9539,1)"><text id="t32" font-size="91.01" fill="#3B45D2">A</text></g>
<g transform="translate(413.90,498.90) scale(0.9658,1)"><text id="t33" font-size="91.30" fill="#3B45D2">A</text></g>
<g transform="translate(473.80,522.90)"><text id="t34" font-size="69.71" fill="#3B45D2">1</text><rect x="3.40" y="-7.32" width="14.06" height="8.85" fill="#fff"/><rect x="23.76" y="-7.32" width="13.62" height="8.85" fill="#fff"/></g>
<g transform="translate(626.30,499.80) scale(0.9621,1)"><text id="t35" font-size="90.87" fill="#3B45D2">A</text></g>
<g transform="translate(688.24,526.72) scale(0.9819,1)"><text id="t36" font-size="67.61" fill="#3B45D2">3</text></g>
<g transform="translate(850.10,497.80) scale(0.9639,1)"><text id="t37" font-size="91.01" fill="#3B45D2">A</text></g>
<g transform="translate(910.38,523.92) scale(0.9640,1)"><text id="t38" font-size="67.86" fill="#3B45D2">5</text></g>
<g transform="translate(1074.10,498.90) scale(0.9626,1)"><text id="t39" font-size="89.57" fill="#3B45D2">A</text></g>
<g transform="translate(1134.97,526.80) scale(0.9950,1)"><text id="t40" font-size="66.86" fill="#3B45D2">7</text></g>
<g transform="translate(413.47,698.90) scale(0.9522,1)"><text id="t41" font-size="91.01" fill="#FF00FF">B</text></g>
<g transform="translate(628.47,697.20) scale(0.9477,1)"><text id="t42" font-size="91.45" fill="#FF00FF">B</text></g>
<g transform="translate(685.30,711.80)"><text id="t43" font-size="69.28" fill="#FF00FF">1</text><rect x="3.38" y="-7.27" width="13.97" height="8.79" fill="#fff"/><rect x="23.61" y="-7.27" width="13.53" height="8.79" fill="#fff"/></g>
<g transform="translate(842.67,700.00) scale(0.9507,1)"><text id="t44" font-size="91.16" fill="#FF00FF">B</text></g>
<g transform="translate(900.71,713.80) scale(1.0262,1)"><text id="t45" font-size="68.00" fill="#FF00FF">2</text></g>
<g transform="translate(1061.59,700.20) scale(0.9578,1)"><text id="t46" font-size="91.45" fill="#FF00FF">B</text></g>
<g transform="translate(1119.77,714.31) scale(0.9937,1)"><text id="t47" font-size="68.73" fill="#FF00FF">3</text></g>
<g transform="translate(466.10,1101.80) scale(0.9622,1)"><text id="t48" font-size="91.01" fill="#3B45D2">A</text></g>
<g transform="translate(524.67,1128.80) scale(1.0347,1)"><text id="t49" font-size="68.29" fill="#3B45D2">2</text></g>
<g transform="translate(681.30,1278.00) scale(0.9543,1)"><text id="t50" font-size="91.45" fill="#3B45D2">A</text></g>
<g transform="translate(743.40,1304.90) scale(0.9737,1)"><text id="t51" font-size="66.86" fill="#3B45D2">4</text></g>
<g transform="translate(902.40,1307.10) scale(0.9481,1)"><text id="t52" font-size="90.29" fill="#3B45D2">A</text></g>
<g transform="translate(962.50,1332.93) scale(0.9858,1)"><text id="t53" font-size="67.04" fill="#3B45D2">6</text></g>
<g transform="translate(1281.30,1091.00) scale(0.9734,1)"><text id="t54" font-size="88.26" fill="#3B45D2">A</text></g>
<g transform="translate(1339.93,1117.21)"><text id="t55" font-size="69.15" fill="#3B45D2">9</text></g>
<g transform="translate(1280.93,1192.70) scale(0.9640,1)"><text id="t56" font-size="89.13" fill="#FF00FF">B</text></g>
<g transform="translate(1338.62,1207.90) scale(0.9520,1)"><text id="t57" font-size="67.14" fill="#FF00FF">4</text></g>
<g transform="translate(1501.00,1224.90) scale(0.9662,1)"><text id="t58" font-size="89.86" fill="#3B45D2">A</text></g>
<g transform="translate(1558.06,1245.00)"><text id="t59" font-size="69.57" letter-spacing="5.66" fill="#3B45D2">11</text><rect x="3.40" y="-7.30" width="14.03" height="8.83" fill="#fff"/><rect x="23.71" y="-7.30" width="13.59" height="8.83" fill="#fff"/><rect x="42.57" y="-7.30" width="14.03" height="8.83" fill="#fff"/><rect x="62.88" y="-7.30" width="13.59" height="8.83" fill="#fff"/></g>
<g transform="translate(1493.74,1327.30) scale(0.9533,1)"><text id="t60" font-size="91.30" fill="#FF00FF">B</text></g>
<g transform="translate(1552.18,1343.51) scale(0.9782,1)"><text id="t61" font-size="69.43" fill="#FF00FF">5</text></g>
<g transform="translate(1718.20,1228.90) scale(0.9611,1)"><text id="t62" font-size="89.86" fill="#3B45D2">A</text></g>
<g transform="translate(1776.27,1250.82)"><text id="t63" font-size="68.45" letter-spacing="-2.31" fill="#3B45D2">13</text><rect x="3.34" y="-7.19" width="13.80" height="8.69" fill="#fff"/><rect x="23.33" y="-7.19" width="13.37" height="8.69" fill="#fff"/></g>
<g transform="translate(1713.84,1337.30) scale(0.9346,1)"><text id="t64" font-size="91.74" fill="#FF00FF">B</text></g>
<g transform="translate(1772.32,1351.33) scale(1.0311,1)"><text id="t65" font-size="67.46" fill="#FF00FF">6</text></g>
</svg></body></html>
